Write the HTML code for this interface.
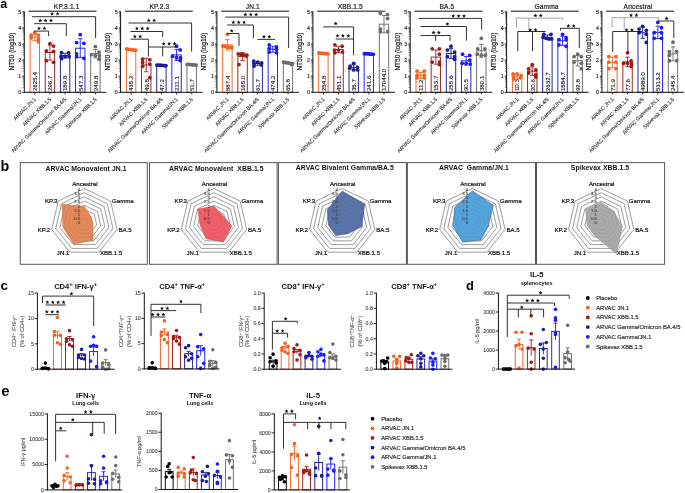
<!DOCTYPE html>
<html><head><meta charset="utf-8"><style>
html,body{margin:0;padding:0;background:#fff;width:685px;height:493px;overflow:hidden}
svg{display:block;will-change:transform;font-family:"Liberation Sans", sans-serif}
</style></head><body>
<svg width="685" height="493" viewBox="0 0 685 493">
<rect x="0" y="0" width="685" height="493" fill="#fff"/>
<text x="0.3" y="8" font-size="12.5" text-anchor="start" fill="#000" font-weight="bold">a</text>
<text x="0.5" y="170.6" font-size="14.3" text-anchor="start" fill="#000" font-weight="bold">b</text>
<text x="0.5" y="289.6" font-size="13.5" text-anchor="start" fill="#000" font-weight="bold">c</text>
<text x="465.9" y="290" font-size="13" text-anchor="start" fill="#000" font-weight="bold">d</text>
<text x="1.2" y="396" font-size="15" text-anchor="start" fill="#000" font-weight="bold">e</text>
<text x="66.7" y="9.3" font-size="6.6" text-anchor="middle" fill="#222" stroke="#222" stroke-width="0.2" letter-spacing="0.15">KP.3.1.1</text>
<line x1="28.5" y1="11.2" x2="96.5" y2="11.2" stroke="#111" stroke-width="1"/>
<line x1="24.3" y1="11.4" x2="24.3" y2="92.8" stroke="#111" stroke-width="1"/>
<line x1="22.3" y1="92.3" x2="24.3" y2="92.3" stroke="#111" stroke-width="0.9"/>
<text x="21.3" y="94.2" font-size="5.3" text-anchor="end" fill="#333" stroke="#333" stroke-width="0.2">0</text>
<line x1="22.3" y1="76.2" x2="24.3" y2="76.2" stroke="#111" stroke-width="0.9"/>
<text x="21.3" y="78.1" font-size="5.3" text-anchor="end" fill="#333" stroke="#333" stroke-width="0.2">1</text>
<line x1="22.3" y1="60.1" x2="24.3" y2="60.1" stroke="#111" stroke-width="0.9"/>
<text x="21.3" y="62" font-size="5.3" text-anchor="end" fill="#333" stroke="#333" stroke-width="0.2">2</text>
<line x1="22.3" y1="44" x2="24.3" y2="44" stroke="#111" stroke-width="0.9"/>
<text x="21.3" y="45.9" font-size="5.3" text-anchor="end" fill="#333" stroke="#333" stroke-width="0.2">3</text>
<line x1="22.3" y1="27.9" x2="24.3" y2="27.9" stroke="#111" stroke-width="0.9"/>
<text x="21.3" y="29.8" font-size="5.3" text-anchor="end" fill="#333" stroke="#333" stroke-width="0.2">4</text>
<line x1="22.3" y1="11.8" x2="24.3" y2="11.8" stroke="#111" stroke-width="0.9"/>
<text x="21.3" y="13.7" font-size="5.3" text-anchor="end" fill="#333" stroke="#333" stroke-width="0.2">5</text>
<line x1="22.7" y1="87.45" x2="24.3" y2="87.45" stroke="#222" stroke-width="0.5"/>
<line x1="22.7" y1="84.62" x2="24.3" y2="84.62" stroke="#222" stroke-width="0.5"/>
<line x1="22.7" y1="82.61" x2="24.3" y2="82.61" stroke="#222" stroke-width="0.5"/>
<line x1="22.7" y1="81.05" x2="24.3" y2="81.05" stroke="#222" stroke-width="0.5"/>
<line x1="22.7" y1="79.77" x2="24.3" y2="79.77" stroke="#222" stroke-width="0.5"/>
<line x1="22.7" y1="78.69" x2="24.3" y2="78.69" stroke="#222" stroke-width="0.5"/>
<line x1="22.7" y1="77.76" x2="24.3" y2="77.76" stroke="#222" stroke-width="0.5"/>
<line x1="22.7" y1="76.94" x2="24.3" y2="76.94" stroke="#222" stroke-width="0.5"/>
<line x1="22.7" y1="71.35" x2="24.3" y2="71.35" stroke="#222" stroke-width="0.5"/>
<line x1="22.7" y1="68.52" x2="24.3" y2="68.52" stroke="#222" stroke-width="0.5"/>
<line x1="22.7" y1="66.51" x2="24.3" y2="66.51" stroke="#222" stroke-width="0.5"/>
<line x1="22.7" y1="64.95" x2="24.3" y2="64.95" stroke="#222" stroke-width="0.5"/>
<line x1="22.7" y1="63.67" x2="24.3" y2="63.67" stroke="#222" stroke-width="0.5"/>
<line x1="22.7" y1="62.59" x2="24.3" y2="62.59" stroke="#222" stroke-width="0.5"/>
<line x1="22.7" y1="61.66" x2="24.3" y2="61.66" stroke="#222" stroke-width="0.5"/>
<line x1="22.7" y1="60.84" x2="24.3" y2="60.84" stroke="#222" stroke-width="0.5"/>
<line x1="22.7" y1="55.25" x2="24.3" y2="55.25" stroke="#222" stroke-width="0.5"/>
<line x1="22.7" y1="52.42" x2="24.3" y2="52.42" stroke="#222" stroke-width="0.5"/>
<line x1="22.7" y1="50.41" x2="24.3" y2="50.41" stroke="#222" stroke-width="0.5"/>
<line x1="22.7" y1="48.85" x2="24.3" y2="48.85" stroke="#222" stroke-width="0.5"/>
<line x1="22.7" y1="47.57" x2="24.3" y2="47.57" stroke="#222" stroke-width="0.5"/>
<line x1="22.7" y1="46.49" x2="24.3" y2="46.49" stroke="#222" stroke-width="0.5"/>
<line x1="22.7" y1="45.56" x2="24.3" y2="45.56" stroke="#222" stroke-width="0.5"/>
<line x1="22.7" y1="44.74" x2="24.3" y2="44.74" stroke="#222" stroke-width="0.5"/>
<line x1="22.7" y1="39.15" x2="24.3" y2="39.15" stroke="#222" stroke-width="0.5"/>
<line x1="22.7" y1="36.32" x2="24.3" y2="36.32" stroke="#222" stroke-width="0.5"/>
<line x1="22.7" y1="34.31" x2="24.3" y2="34.31" stroke="#222" stroke-width="0.5"/>
<line x1="22.7" y1="32.75" x2="24.3" y2="32.75" stroke="#222" stroke-width="0.5"/>
<line x1="22.7" y1="31.47" x2="24.3" y2="31.47" stroke="#222" stroke-width="0.5"/>
<line x1="22.7" y1="30.39" x2="24.3" y2="30.39" stroke="#222" stroke-width="0.5"/>
<line x1="22.7" y1="29.46" x2="24.3" y2="29.46" stroke="#222" stroke-width="0.5"/>
<line x1="22.7" y1="28.64" x2="24.3" y2="28.64" stroke="#222" stroke-width="0.5"/>
<line x1="22.7" y1="23.05" x2="24.3" y2="23.05" stroke="#222" stroke-width="0.5"/>
<line x1="22.7" y1="20.22" x2="24.3" y2="20.22" stroke="#222" stroke-width="0.5"/>
<line x1="22.7" y1="18.21" x2="24.3" y2="18.21" stroke="#222" stroke-width="0.5"/>
<line x1="22.7" y1="16.65" x2="24.3" y2="16.65" stroke="#222" stroke-width="0.5"/>
<line x1="22.7" y1="15.37" x2="24.3" y2="15.37" stroke="#222" stroke-width="0.5"/>
<line x1="22.7" y1="14.29" x2="24.3" y2="14.29" stroke="#222" stroke-width="0.5"/>
<line x1="22.7" y1="13.36" x2="24.3" y2="13.36" stroke="#222" stroke-width="0.5"/>
<line x1="22.7" y1="12.54" x2="24.3" y2="12.54" stroke="#222" stroke-width="0.5"/>
<text x="13.8" y="51.6" font-size="6.5" text-anchor="middle" fill="#222" stroke="#222" stroke-width="0.2" transform="rotate(-90 13.8 51.6)">NT50 (log10)</text>
<rect x="30.1" y="37.25" width="9.4" height="55.05" fill="#fff" stroke="#f4621f" stroke-width="0.95"/>
<line x1="34.8" y1="33.91" x2="34.8" y2="40.59" stroke="#f4621f" stroke-width="0.9"/>
<line x1="32.6" y1="33.91" x2="37" y2="33.91" stroke="#f4621f" stroke-width="0.9"/>
<line x1="32.6" y1="40.59" x2="37" y2="40.59" stroke="#f4621f" stroke-width="0.9"/>
<circle cx="31.2" cy="35.14" r="1.9" fill="#f4621f"/>
<circle cx="34.8" cy="32.73" r="1.9" fill="#f4621f"/>
<circle cx="38.4" cy="35.14" r="1.9" fill="#f4621f"/>
<circle cx="31.2" cy="38.04" r="1.9" fill="#f4621f"/>
<circle cx="38.4" cy="39.65" r="1.9" fill="#f4621f"/>
<circle cx="38.4" cy="41.75" r="1.9" fill="#f4621f"/>
<text x="37.1" y="91.1" font-size="6.2" text-anchor="start" fill="#222" stroke="#222" stroke-width="0.1" transform="rotate(-90 37.1 91.1)">2625.4</text>
<rect x="45.25" y="52.5" width="9.4" height="39.8" fill="#fff" stroke="#a11a1a" stroke-width="0.95"/>
<line x1="49.95" y1="44.91" x2="49.95" y2="60.08" stroke="#a11a1a" stroke-width="0.9"/>
<line x1="47.75" y1="44.91" x2="52.15" y2="44.91" stroke="#a11a1a" stroke-width="0.9"/>
<line x1="47.75" y1="60.08" x2="52.15" y2="60.08" stroke="#a11a1a" stroke-width="0.9"/>
<circle cx="53.55" cy="46.09" r="1.9" fill="#a11a1a"/>
<circle cx="49.95" cy="43.68" r="1.9" fill="#a11a1a"/>
<circle cx="53.55" cy="51.41" r="1.9" fill="#a11a1a"/>
<circle cx="46.35" cy="50.92" r="1.9" fill="#a11a1a"/>
<circle cx="53.55" cy="62.35" r="1.9" fill="#a11a1a"/>
<circle cx="46.35" cy="60.74" r="1.9" fill="#a11a1a"/>
<text x="52.25" y="91.1" font-size="6.2" text-anchor="start" fill="#222" stroke="#222" stroke-width="0.1" transform="rotate(-90 52.25 91.1)">296.7</text>
<rect x="60.4" y="55.62" width="9.4" height="36.68" fill="#fff" stroke="#1c1c96" stroke-width="0.95"/>
<line x1="65.1" y1="53.24" x2="65.1" y2="58" stroke="#1c1c96" stroke-width="0.9"/>
<line x1="62.9" y1="53.24" x2="67.3" y2="53.24" stroke="#1c1c96" stroke-width="0.9"/>
<line x1="62.9" y1="58" x2="67.3" y2="58" stroke="#1c1c96" stroke-width="0.9"/>
<circle cx="68.7" cy="53.02" r="1.9" fill="#1c1c96"/>
<circle cx="61.5" cy="52.53" r="1.9" fill="#1c1c96"/>
<circle cx="61.1" cy="56.24" r="1.9" fill="#1c1c96"/>
<circle cx="65.1" cy="56.72" r="1.9" fill="#1c1c96"/>
<circle cx="69.1" cy="56.72" r="1.9" fill="#1c1c96"/>
<circle cx="61.5" cy="58.65" r="1.9" fill="#1c1c96"/>
<text x="67.4" y="91.1" font-size="6.2" text-anchor="start" fill="#222" stroke="#222" stroke-width="0.1" transform="rotate(-90 67.4 91.1)">189.8</text>
<rect x="75.55" y="48.21" width="9.4" height="44.09" fill="#fff" stroke="#1a1aff" stroke-width="0.95"/>
<line x1="80.25" y1="38.78" x2="80.25" y2="57.65" stroke="#1a1aff" stroke-width="0.9"/>
<line x1="78.05" y1="38.78" x2="82.45" y2="38.78" stroke="#1a1aff" stroke-width="0.9"/>
<line x1="78.05" y1="57.65" x2="82.45" y2="57.65" stroke="#1a1aff" stroke-width="0.9"/>
<circle cx="80.25" cy="34.66" r="1.9" fill="#1a1aff"/>
<circle cx="76.65" cy="42.55" r="1.9" fill="#1a1aff"/>
<circle cx="83.85" cy="43.36" r="1.9" fill="#1a1aff"/>
<circle cx="76.65" cy="53.82" r="1.9" fill="#1a1aff"/>
<circle cx="76.65" cy="56.72" r="1.9" fill="#1a1aff"/>
<circle cx="83.85" cy="58.33" r="1.9" fill="#1a1aff"/>
<text x="82.55" y="91.1" font-size="6.2" text-anchor="start" fill="#222" stroke="#222" stroke-width="0.1" transform="rotate(-90 82.55 91.1)">547.3</text>
<rect x="90.7" y="53.7" width="9.4" height="38.6" fill="#fff" stroke="#6b6b6b" stroke-width="0.95"/>
<line x1="95.4" y1="49.44" x2="95.4" y2="57.96" stroke="#6b6b6b" stroke-width="0.9"/>
<line x1="93.2" y1="49.44" x2="97.6" y2="49.44" stroke="#6b6b6b" stroke-width="0.9"/>
<line x1="93.2" y1="57.96" x2="97.6" y2="57.96" stroke="#6b6b6b" stroke-width="0.9"/>
<circle cx="95.4" cy="46.58" r="1.9" fill="#6b6b6b"/>
<circle cx="91.4" cy="54.63" r="1.9" fill="#6b6b6b"/>
<circle cx="95.4" cy="55.43" r="1.9" fill="#6b6b6b"/>
<circle cx="99.4" cy="55.75" r="1.9" fill="#6b6b6b"/>
<circle cx="99" cy="59.13" r="1.9" fill="#6b6b6b"/>
<circle cx="99" cy="52.05" r="1.9" fill="#6b6b6b"/>
<text x="97.7" y="91.1" font-size="6.2" text-anchor="start" fill="#222" stroke="#222" stroke-width="0.1" transform="rotate(-90 97.7 91.1)">249.8</text>
<line x1="24.3" y1="92.3" x2="106.3" y2="92.3" stroke="#111" stroke-width="1"/>
<line x1="34.8" y1="92.3" x2="34.8" y2="94.5" stroke="#111" stroke-width="0.8"/>
<text x="36.4" y="99.6" font-size="5.2" text-anchor="end" fill="#222" stroke="#222" stroke-width="0.1" transform="rotate(-45 36.4 99.6)">ARVAC JN.1</text>
<line x1="49.95" y1="92.3" x2="49.95" y2="94.5" stroke="#111" stroke-width="0.8"/>
<text x="51.55" y="99.6" font-size="5.2" text-anchor="end" fill="#222" stroke="#222" stroke-width="0.1" transform="rotate(-45 51.55 99.6)">ARVAC XBB.1.5</text>
<line x1="65.1" y1="92.3" x2="65.1" y2="94.5" stroke="#111" stroke-width="0.8"/>
<text x="66.7" y="99.6" font-size="5.2" text-anchor="end" fill="#222" stroke="#222" stroke-width="0.1" transform="rotate(-45 66.7 99.6)">ARVAC Gamma/Omicron BA.4/5</text>
<line x1="80.25" y1="92.3" x2="80.25" y2="94.5" stroke="#111" stroke-width="0.8"/>
<text x="81.85" y="99.6" font-size="5.2" text-anchor="end" fill="#222" stroke="#222" stroke-width="0.1" transform="rotate(-45 81.85 99.6)">ARVAC Gamma/JN.1</text>
<line x1="95.4" y1="92.3" x2="95.4" y2="94.5" stroke="#111" stroke-width="0.8"/>
<text x="97" y="99.6" font-size="5.2" text-anchor="end" fill="#222" stroke="#222" stroke-width="0.1" transform="rotate(-45 97 99.6)">Spikevax XBB.1.5</text>
<line x1="32.1" y1="16.7" x2="95.6" y2="16.7" stroke="#1a1a1a" stroke-width="0.9"/>
<line x1="95.6" y1="16.7" x2="95.6" y2="38.1" stroke="#1a1a1a" stroke-width="0.9"/>
<polygon points="52.1,11.8 52.66,13.14 54.1,13.25 53,14.19 53.33,15.6 52.1,14.85 50.87,15.6 51.2,14.19 50.1,13.25 51.54,13.14" fill="#111"/>
<polygon points="57.5,11.8 58.06,13.14 59.5,13.25 58.4,14.19 58.73,15.6 57.5,14.85 56.27,15.6 56.6,14.19 55.5,13.25 56.94,13.14" fill="#111"/>
<line x1="34.2" y1="23.7" x2="66.3" y2="23.7" stroke="#1a1a1a" stroke-width="0.9"/>
<line x1="66.3" y1="23.7" x2="66.3" y2="36.1" stroke="#1a1a1a" stroke-width="0.9"/>
<polygon points="40.2,18.5 40.76,19.84 42.2,19.95 41.1,20.89 41.43,22.3 40.2,21.55 38.97,22.3 39.3,20.89 38.2,19.95 39.64,19.84" fill="#111"/>
<polygon points="45.6,18.5 46.16,19.84 47.6,19.95 46.5,20.89 46.83,22.3 45.6,21.55 44.37,22.3 44.7,20.89 43.6,19.95 45.04,19.84" fill="#111"/>
<polygon points="51,18.5 51.56,19.84 53,19.95 51.9,20.89 52.23,22.3 51,21.55 49.77,22.3 50.1,20.89 49,19.95 50.44,19.84" fill="#111"/>
<line x1="34.2" y1="31.1" x2="48.6" y2="31.1" stroke="#1a1a1a" stroke-width="0.9"/>
<line x1="48.6" y1="31.1" x2="48.6" y2="36.1" stroke="#1a1a1a" stroke-width="0.9"/>
<polygon points="39,26.3 39.56,27.64 41,27.75 39.9,28.69 40.23,30.1 39,29.34 37.77,30.1 38.1,28.69 37,27.75 38.44,27.64" fill="#111"/>
<polygon points="44.4,26.3 44.96,27.64 46.4,27.75 45.3,28.69 45.63,30.1 44.4,29.34 43.17,30.1 43.5,28.69 42.4,27.75 43.84,27.64" fill="#111"/>
<text x="159.4" y="9.3" font-size="6.6" text-anchor="middle" fill="#222" stroke="#222" stroke-width="0.2" letter-spacing="0.15">KP.2.3</text>
<line x1="124.8" y1="11.2" x2="192.8" y2="11.2" stroke="#111" stroke-width="1"/>
<line x1="120.6" y1="11.4" x2="120.6" y2="92.8" stroke="#111" stroke-width="1"/>
<line x1="118.6" y1="92.3" x2="120.6" y2="92.3" stroke="#111" stroke-width="0.9"/>
<text x="117.6" y="94.2" font-size="5.3" text-anchor="end" fill="#333" stroke="#333" stroke-width="0.2">0</text>
<line x1="118.6" y1="76.2" x2="120.6" y2="76.2" stroke="#111" stroke-width="0.9"/>
<text x="117.6" y="78.1" font-size="5.3" text-anchor="end" fill="#333" stroke="#333" stroke-width="0.2">1</text>
<line x1="118.6" y1="60.1" x2="120.6" y2="60.1" stroke="#111" stroke-width="0.9"/>
<text x="117.6" y="62" font-size="5.3" text-anchor="end" fill="#333" stroke="#333" stroke-width="0.2">2</text>
<line x1="118.6" y1="44" x2="120.6" y2="44" stroke="#111" stroke-width="0.9"/>
<text x="117.6" y="45.9" font-size="5.3" text-anchor="end" fill="#333" stroke="#333" stroke-width="0.2">3</text>
<line x1="118.6" y1="27.9" x2="120.6" y2="27.9" stroke="#111" stroke-width="0.9"/>
<text x="117.6" y="29.8" font-size="5.3" text-anchor="end" fill="#333" stroke="#333" stroke-width="0.2">4</text>
<line x1="118.6" y1="11.8" x2="120.6" y2="11.8" stroke="#111" stroke-width="0.9"/>
<text x="117.6" y="13.7" font-size="5.3" text-anchor="end" fill="#333" stroke="#333" stroke-width="0.2">5</text>
<line x1="119" y1="87.45" x2="120.6" y2="87.45" stroke="#222" stroke-width="0.5"/>
<line x1="119" y1="84.62" x2="120.6" y2="84.62" stroke="#222" stroke-width="0.5"/>
<line x1="119" y1="82.61" x2="120.6" y2="82.61" stroke="#222" stroke-width="0.5"/>
<line x1="119" y1="81.05" x2="120.6" y2="81.05" stroke="#222" stroke-width="0.5"/>
<line x1="119" y1="79.77" x2="120.6" y2="79.77" stroke="#222" stroke-width="0.5"/>
<line x1="119" y1="78.69" x2="120.6" y2="78.69" stroke="#222" stroke-width="0.5"/>
<line x1="119" y1="77.76" x2="120.6" y2="77.76" stroke="#222" stroke-width="0.5"/>
<line x1="119" y1="76.94" x2="120.6" y2="76.94" stroke="#222" stroke-width="0.5"/>
<line x1="119" y1="71.35" x2="120.6" y2="71.35" stroke="#222" stroke-width="0.5"/>
<line x1="119" y1="68.52" x2="120.6" y2="68.52" stroke="#222" stroke-width="0.5"/>
<line x1="119" y1="66.51" x2="120.6" y2="66.51" stroke="#222" stroke-width="0.5"/>
<line x1="119" y1="64.95" x2="120.6" y2="64.95" stroke="#222" stroke-width="0.5"/>
<line x1="119" y1="63.67" x2="120.6" y2="63.67" stroke="#222" stroke-width="0.5"/>
<line x1="119" y1="62.59" x2="120.6" y2="62.59" stroke="#222" stroke-width="0.5"/>
<line x1="119" y1="61.66" x2="120.6" y2="61.66" stroke="#222" stroke-width="0.5"/>
<line x1="119" y1="60.84" x2="120.6" y2="60.84" stroke="#222" stroke-width="0.5"/>
<line x1="119" y1="55.25" x2="120.6" y2="55.25" stroke="#222" stroke-width="0.5"/>
<line x1="119" y1="52.42" x2="120.6" y2="52.42" stroke="#222" stroke-width="0.5"/>
<line x1="119" y1="50.41" x2="120.6" y2="50.41" stroke="#222" stroke-width="0.5"/>
<line x1="119" y1="48.85" x2="120.6" y2="48.85" stroke="#222" stroke-width="0.5"/>
<line x1="119" y1="47.57" x2="120.6" y2="47.57" stroke="#222" stroke-width="0.5"/>
<line x1="119" y1="46.49" x2="120.6" y2="46.49" stroke="#222" stroke-width="0.5"/>
<line x1="119" y1="45.56" x2="120.6" y2="45.56" stroke="#222" stroke-width="0.5"/>
<line x1="119" y1="44.74" x2="120.6" y2="44.74" stroke="#222" stroke-width="0.5"/>
<line x1="119" y1="39.15" x2="120.6" y2="39.15" stroke="#222" stroke-width="0.5"/>
<line x1="119" y1="36.32" x2="120.6" y2="36.32" stroke="#222" stroke-width="0.5"/>
<line x1="119" y1="34.31" x2="120.6" y2="34.31" stroke="#222" stroke-width="0.5"/>
<line x1="119" y1="32.75" x2="120.6" y2="32.75" stroke="#222" stroke-width="0.5"/>
<line x1="119" y1="31.47" x2="120.6" y2="31.47" stroke="#222" stroke-width="0.5"/>
<line x1="119" y1="30.39" x2="120.6" y2="30.39" stroke="#222" stroke-width="0.5"/>
<line x1="119" y1="29.46" x2="120.6" y2="29.46" stroke="#222" stroke-width="0.5"/>
<line x1="119" y1="28.64" x2="120.6" y2="28.64" stroke="#222" stroke-width="0.5"/>
<line x1="119" y1="23.05" x2="120.6" y2="23.05" stroke="#222" stroke-width="0.5"/>
<line x1="119" y1="20.22" x2="120.6" y2="20.22" stroke="#222" stroke-width="0.5"/>
<line x1="119" y1="18.21" x2="120.6" y2="18.21" stroke="#222" stroke-width="0.5"/>
<line x1="119" y1="16.65" x2="120.6" y2="16.65" stroke="#222" stroke-width="0.5"/>
<line x1="119" y1="15.37" x2="120.6" y2="15.37" stroke="#222" stroke-width="0.5"/>
<line x1="119" y1="14.29" x2="120.6" y2="14.29" stroke="#222" stroke-width="0.5"/>
<line x1="119" y1="13.36" x2="120.6" y2="13.36" stroke="#222" stroke-width="0.5"/>
<line x1="119" y1="12.54" x2="120.6" y2="12.54" stroke="#222" stroke-width="0.5"/>
<text x="110.1" y="51.6" font-size="6.5" text-anchor="middle" fill="#222" stroke="#222" stroke-width="0.2" transform="rotate(-90 110.1 51.6)">NT50 (log10)</text>
<rect x="126.4" y="49.82" width="9.4" height="42.48" fill="#fff" stroke="#f4621f" stroke-width="0.95"/>
<line x1="131.1" y1="49.33" x2="131.1" y2="50.31" stroke="#f4621f" stroke-width="0.9"/>
<line x1="128.9" y1="49.33" x2="133.3" y2="49.33" stroke="#f4621f" stroke-width="0.9"/>
<line x1="128.9" y1="50.31" x2="133.3" y2="50.31" stroke="#f4621f" stroke-width="0.9"/>
<circle cx="128.4" cy="49.47" r="1.9" fill="#f4621f"/>
<circle cx="126.6" cy="48.83" r="1.9" fill="#f4621f"/>
<circle cx="133.8" cy="50.12" r="1.9" fill="#f4621f"/>
<circle cx="132" cy="49.8" r="1.9" fill="#f4621f"/>
<circle cx="135.6" cy="50.12" r="1.9" fill="#f4621f"/>
<circle cx="130.2" cy="49.47" r="1.9" fill="#f4621f"/>
<text x="133.4" y="91.1" font-size="6.2" text-anchor="start" fill="#222" stroke="#222" stroke-width="0.1" transform="rotate(-90 133.4 91.1)">435.2</text>
<rect x="141.55" y="64.97" width="9.4" height="27.33" fill="#fff" stroke="#a11a1a" stroke-width="0.95"/>
<line x1="146.25" y1="58.19" x2="146.25" y2="71.76" stroke="#a11a1a" stroke-width="0.9"/>
<line x1="144.05" y1="58.19" x2="148.45" y2="58.19" stroke="#a11a1a" stroke-width="0.9"/>
<line x1="144.05" y1="71.76" x2="148.45" y2="71.76" stroke="#a11a1a" stroke-width="0.9"/>
<circle cx="149.85" cy="59.78" r="1.9" fill="#a11a1a"/>
<circle cx="142.65" cy="59.13" r="1.9" fill="#a11a1a"/>
<circle cx="142.65" cy="62.51" r="1.9" fill="#a11a1a"/>
<circle cx="149.85" cy="64.12" r="1.9" fill="#a11a1a"/>
<circle cx="142.65" cy="66.22" r="1.9" fill="#a11a1a"/>
<circle cx="149.85" cy="77.65" r="1.9" fill="#a11a1a"/>
<text x="148.55" y="91.1" font-size="6.2" text-anchor="start" fill="#222" stroke="#222" stroke-width="0.1" transform="rotate(-90 148.55 91.1)">49.8</text>
<rect x="156.7" y="65.35" width="9.4" height="26.95" fill="#fff" stroke="#1c1c96" stroke-width="0.95"/>
<line x1="161.4" y1="65.09" x2="161.4" y2="65.61" stroke="#1c1c96" stroke-width="0.9"/>
<line x1="159.2" y1="65.09" x2="163.6" y2="65.09" stroke="#1c1c96" stroke-width="0.9"/>
<line x1="159.2" y1="65.61" x2="163.6" y2="65.61" stroke="#1c1c96" stroke-width="0.9"/>
<circle cx="156.9" cy="65.09" r="1.9" fill="#1c1c96"/>
<circle cx="162.3" cy="65.41" r="1.9" fill="#1c1c96"/>
<circle cx="164.1" cy="65.57" r="1.9" fill="#1c1c96"/>
<circle cx="160.5" cy="65.25" r="1.9" fill="#1c1c96"/>
<circle cx="165.9" cy="65.73" r="1.9" fill="#1c1c96"/>
<circle cx="158.7" cy="65.09" r="1.9" fill="#1c1c96"/>
<text x="163.7" y="91.1" font-size="6.2" text-anchor="start" fill="#222" stroke="#222" stroke-width="0.1" transform="rotate(-90 163.7 91.1)">47.2</text>
<rect x="171.85" y="54.88" width="9.4" height="37.42" fill="#fff" stroke="#1a1aff" stroke-width="0.95"/>
<line x1="176.55" y1="49.42" x2="176.55" y2="60.33" stroke="#1a1aff" stroke-width="0.9"/>
<line x1="174.35" y1="49.42" x2="178.75" y2="49.42" stroke="#1a1aff" stroke-width="0.9"/>
<line x1="174.35" y1="60.33" x2="178.75" y2="60.33" stroke="#1a1aff" stroke-width="0.9"/>
<circle cx="176.55" cy="46.25" r="1.9" fill="#1a1aff"/>
<circle cx="180.15" cy="49.96" r="1.9" fill="#1a1aff"/>
<circle cx="172.55" cy="56.24" r="1.9" fill="#1a1aff"/>
<circle cx="176.55" cy="57.68" r="1.9" fill="#1a1aff"/>
<circle cx="180.55" cy="57.68" r="1.9" fill="#1a1aff"/>
<circle cx="180.15" cy="60.58" r="1.9" fill="#1a1aff"/>
<text x="178.85" y="91.1" font-size="6.2" text-anchor="start" fill="#222" stroke="#222" stroke-width="0.1" transform="rotate(-90 178.85 91.1)">211.1</text>
<rect x="187" y="64.71" width="9.4" height="27.59" fill="#fff" stroke="#6b6b6b" stroke-width="0.95"/>
<line x1="191.7" y1="64.44" x2="191.7" y2="64.99" stroke="#6b6b6b" stroke-width="0.9"/>
<line x1="189.5" y1="64.44" x2="193.9" y2="64.44" stroke="#6b6b6b" stroke-width="0.9"/>
<line x1="189.5" y1="64.99" x2="193.9" y2="64.99" stroke="#6b6b6b" stroke-width="0.9"/>
<circle cx="187.2" cy="64.45" r="1.9" fill="#6b6b6b"/>
<circle cx="192.6" cy="64.93" r="1.9" fill="#6b6b6b"/>
<circle cx="190.8" cy="64.61" r="1.9" fill="#6b6b6b"/>
<circle cx="196.2" cy="65.09" r="1.9" fill="#6b6b6b"/>
<circle cx="189" cy="64.45" r="1.9" fill="#6b6b6b"/>
<circle cx="194.4" cy="64.93" r="1.9" fill="#6b6b6b"/>
<text x="194" y="91.1" font-size="6.2" text-anchor="start" fill="#222" stroke="#222" stroke-width="0.1" transform="rotate(-90 194 91.1)">51.7</text>
<line x1="120.6" y1="92.3" x2="202.6" y2="92.3" stroke="#111" stroke-width="1"/>
<line x1="131.1" y1="92.3" x2="131.1" y2="94.5" stroke="#111" stroke-width="0.8"/>
<text x="132.7" y="99.6" font-size="5.2" text-anchor="end" fill="#222" stroke="#222" stroke-width="0.1" transform="rotate(-45 132.7 99.6)">ARVAC JN.1</text>
<line x1="146.25" y1="92.3" x2="146.25" y2="94.5" stroke="#111" stroke-width="0.8"/>
<text x="147.85" y="99.6" font-size="5.2" text-anchor="end" fill="#222" stroke="#222" stroke-width="0.1" transform="rotate(-45 147.85 99.6)">ARVAC XBB.1.5</text>
<line x1="161.4" y1="92.3" x2="161.4" y2="94.5" stroke="#111" stroke-width="0.8"/>
<text x="163" y="99.6" font-size="5.2" text-anchor="end" fill="#222" stroke="#222" stroke-width="0.1" transform="rotate(-45 163 99.6)">ARVAC Gamma/Omicron BA.4/5</text>
<line x1="176.55" y1="92.3" x2="176.55" y2="94.5" stroke="#111" stroke-width="0.8"/>
<text x="178.15" y="99.6" font-size="5.2" text-anchor="end" fill="#222" stroke="#222" stroke-width="0.1" transform="rotate(-45 178.15 99.6)">ARVAC Gamma/JN.1</text>
<line x1="191.7" y1="92.3" x2="191.7" y2="94.5" stroke="#111" stroke-width="0.8"/>
<text x="193.3" y="99.6" font-size="5.2" text-anchor="end" fill="#222" stroke="#222" stroke-width="0.1" transform="rotate(-45 193.3 99.6)">Spikevax XBB.1.5</text>
<line x1="128.5" y1="23" x2="191.6" y2="23" stroke="#1a1a1a" stroke-width="0.9"/>
<line x1="191.6" y1="23" x2="191.6" y2="51.5" stroke="#1a1a1a" stroke-width="0.9"/>
<polygon points="148.8,18.3 149.36,19.64 150.8,19.75 149.7,20.69 150.03,22.1 148.8,21.34 147.57,22.1 147.9,20.69 146.8,19.75 148.24,19.64" fill="#111"/>
<polygon points="154.2,18.3 154.76,19.64 156.2,19.75 155.1,20.69 155.43,22.1 154.2,21.34 152.97,22.1 153.3,20.69 152.2,19.75 153.64,19.64" fill="#111"/>
<line x1="130.5" y1="31.5" x2="162.7" y2="31.5" stroke="#1a1a1a" stroke-width="0.9"/>
<line x1="162.7" y1="31.5" x2="162.7" y2="37" stroke="#1a1a1a" stroke-width="0.9"/>
<polygon points="136.9,26.4 137.46,27.74 138.9,27.85 137.8,28.79 138.13,30.2 136.9,29.45 135.67,30.2 136,28.79 134.9,27.85 136.34,27.74" fill="#111"/>
<polygon points="142.3,26.4 142.86,27.74 144.3,27.85 143.2,28.79 143.53,30.2 142.3,29.45 141.07,30.2 141.4,28.79 140.3,27.85 141.74,27.74" fill="#111"/>
<polygon points="147.7,26.4 148.26,27.74 149.7,27.85 148.6,28.79 148.93,30.2 147.7,29.45 146.47,30.2 146.8,28.79 145.7,27.85 147.14,27.74" fill="#111"/>
<line x1="130.5" y1="39.2" x2="148.4" y2="39.2" stroke="#1a1a1a" stroke-width="0.9"/>
<line x1="148.4" y1="39.2" x2="148.4" y2="56.3" stroke="#1a1a1a" stroke-width="0.9"/>
<polygon points="134.8,34.4 135.36,35.74 136.8,35.85 135.7,36.79 136.03,38.2 134.8,37.45 133.57,38.2 133.9,36.79 132.8,35.85 134.24,35.74" fill="#111"/>
<polygon points="140.2,34.4 140.76,35.74 142.2,35.85 141.1,36.79 141.43,38.2 140.2,37.45 138.97,38.2 139.3,36.79 138.2,35.85 139.64,35.74" fill="#111"/>
<line x1="148.4" y1="47" x2="176.2" y2="47" stroke="#1a1a1a" stroke-width="0.9"/>
<line x1="162.7" y1="47" x2="162.7" y2="56.3" stroke="#1a1a1a" stroke-width="0.9"/>
<polygon points="163.7,41.7 164.26,43.04 165.7,43.15 164.6,44.09 164.93,45.5 163.7,44.74 162.47,45.5 162.8,44.09 161.7,43.15 163.14,43.04" fill="#111"/>
<polygon points="169.1,41.7 169.66,43.04 171.1,43.15 170,44.09 170.33,45.5 169.1,44.74 167.87,45.5 168.2,44.09 167.1,43.15 168.54,43.04" fill="#111"/>
<polygon points="174.5,41.7 175.06,43.04 176.5,43.15 175.4,44.09 175.73,45.5 174.5,44.74 173.27,45.5 173.6,44.09 172.5,43.15 173.94,43.04" fill="#111"/>
<text x="252.8" y="9.3" font-size="6.6" text-anchor="middle" fill="#222" stroke="#222" stroke-width="0.2" letter-spacing="0.15">JN.1</text>
<line x1="221.1" y1="11.2" x2="289.1" y2="11.2" stroke="#111" stroke-width="1"/>
<line x1="216.9" y1="11.4" x2="216.9" y2="92.8" stroke="#111" stroke-width="1"/>
<line x1="214.9" y1="92.3" x2="216.9" y2="92.3" stroke="#111" stroke-width="0.9"/>
<text x="213.9" y="94.2" font-size="5.3" text-anchor="end" fill="#333" stroke="#333" stroke-width="0.2">0</text>
<line x1="214.9" y1="76.2" x2="216.9" y2="76.2" stroke="#111" stroke-width="0.9"/>
<text x="213.9" y="78.1" font-size="5.3" text-anchor="end" fill="#333" stroke="#333" stroke-width="0.2">1</text>
<line x1="214.9" y1="60.1" x2="216.9" y2="60.1" stroke="#111" stroke-width="0.9"/>
<text x="213.9" y="62" font-size="5.3" text-anchor="end" fill="#333" stroke="#333" stroke-width="0.2">2</text>
<line x1="214.9" y1="44" x2="216.9" y2="44" stroke="#111" stroke-width="0.9"/>
<text x="213.9" y="45.9" font-size="5.3" text-anchor="end" fill="#333" stroke="#333" stroke-width="0.2">3</text>
<line x1="214.9" y1="27.9" x2="216.9" y2="27.9" stroke="#111" stroke-width="0.9"/>
<text x="213.9" y="29.8" font-size="5.3" text-anchor="end" fill="#333" stroke="#333" stroke-width="0.2">4</text>
<line x1="214.9" y1="11.8" x2="216.9" y2="11.8" stroke="#111" stroke-width="0.9"/>
<text x="213.9" y="13.7" font-size="5.3" text-anchor="end" fill="#333" stroke="#333" stroke-width="0.2">5</text>
<line x1="215.3" y1="87.45" x2="216.9" y2="87.45" stroke="#222" stroke-width="0.5"/>
<line x1="215.3" y1="84.62" x2="216.9" y2="84.62" stroke="#222" stroke-width="0.5"/>
<line x1="215.3" y1="82.61" x2="216.9" y2="82.61" stroke="#222" stroke-width="0.5"/>
<line x1="215.3" y1="81.05" x2="216.9" y2="81.05" stroke="#222" stroke-width="0.5"/>
<line x1="215.3" y1="79.77" x2="216.9" y2="79.77" stroke="#222" stroke-width="0.5"/>
<line x1="215.3" y1="78.69" x2="216.9" y2="78.69" stroke="#222" stroke-width="0.5"/>
<line x1="215.3" y1="77.76" x2="216.9" y2="77.76" stroke="#222" stroke-width="0.5"/>
<line x1="215.3" y1="76.94" x2="216.9" y2="76.94" stroke="#222" stroke-width="0.5"/>
<line x1="215.3" y1="71.35" x2="216.9" y2="71.35" stroke="#222" stroke-width="0.5"/>
<line x1="215.3" y1="68.52" x2="216.9" y2="68.52" stroke="#222" stroke-width="0.5"/>
<line x1="215.3" y1="66.51" x2="216.9" y2="66.51" stroke="#222" stroke-width="0.5"/>
<line x1="215.3" y1="64.95" x2="216.9" y2="64.95" stroke="#222" stroke-width="0.5"/>
<line x1="215.3" y1="63.67" x2="216.9" y2="63.67" stroke="#222" stroke-width="0.5"/>
<line x1="215.3" y1="62.59" x2="216.9" y2="62.59" stroke="#222" stroke-width="0.5"/>
<line x1="215.3" y1="61.66" x2="216.9" y2="61.66" stroke="#222" stroke-width="0.5"/>
<line x1="215.3" y1="60.84" x2="216.9" y2="60.84" stroke="#222" stroke-width="0.5"/>
<line x1="215.3" y1="55.25" x2="216.9" y2="55.25" stroke="#222" stroke-width="0.5"/>
<line x1="215.3" y1="52.42" x2="216.9" y2="52.42" stroke="#222" stroke-width="0.5"/>
<line x1="215.3" y1="50.41" x2="216.9" y2="50.41" stroke="#222" stroke-width="0.5"/>
<line x1="215.3" y1="48.85" x2="216.9" y2="48.85" stroke="#222" stroke-width="0.5"/>
<line x1="215.3" y1="47.57" x2="216.9" y2="47.57" stroke="#222" stroke-width="0.5"/>
<line x1="215.3" y1="46.49" x2="216.9" y2="46.49" stroke="#222" stroke-width="0.5"/>
<line x1="215.3" y1="45.56" x2="216.9" y2="45.56" stroke="#222" stroke-width="0.5"/>
<line x1="215.3" y1="44.74" x2="216.9" y2="44.74" stroke="#222" stroke-width="0.5"/>
<line x1="215.3" y1="39.15" x2="216.9" y2="39.15" stroke="#222" stroke-width="0.5"/>
<line x1="215.3" y1="36.32" x2="216.9" y2="36.32" stroke="#222" stroke-width="0.5"/>
<line x1="215.3" y1="34.31" x2="216.9" y2="34.31" stroke="#222" stroke-width="0.5"/>
<line x1="215.3" y1="32.75" x2="216.9" y2="32.75" stroke="#222" stroke-width="0.5"/>
<line x1="215.3" y1="31.47" x2="216.9" y2="31.47" stroke="#222" stroke-width="0.5"/>
<line x1="215.3" y1="30.39" x2="216.9" y2="30.39" stroke="#222" stroke-width="0.5"/>
<line x1="215.3" y1="29.46" x2="216.9" y2="29.46" stroke="#222" stroke-width="0.5"/>
<line x1="215.3" y1="28.64" x2="216.9" y2="28.64" stroke="#222" stroke-width="0.5"/>
<line x1="215.3" y1="23.05" x2="216.9" y2="23.05" stroke="#222" stroke-width="0.5"/>
<line x1="215.3" y1="20.22" x2="216.9" y2="20.22" stroke="#222" stroke-width="0.5"/>
<line x1="215.3" y1="18.21" x2="216.9" y2="18.21" stroke="#222" stroke-width="0.5"/>
<line x1="215.3" y1="16.65" x2="216.9" y2="16.65" stroke="#222" stroke-width="0.5"/>
<line x1="215.3" y1="15.37" x2="216.9" y2="15.37" stroke="#222" stroke-width="0.5"/>
<line x1="215.3" y1="14.29" x2="216.9" y2="14.29" stroke="#222" stroke-width="0.5"/>
<line x1="215.3" y1="13.36" x2="216.9" y2="13.36" stroke="#222" stroke-width="0.5"/>
<line x1="215.3" y1="12.54" x2="216.9" y2="12.54" stroke="#222" stroke-width="0.5"/>
<text x="206.4" y="51.6" font-size="6.5" text-anchor="middle" fill="#222" stroke="#222" stroke-width="0.2" transform="rotate(-90 206.4 51.6)">NT50 (log10)</text>
<rect x="222.7" y="44.84" width="9.4" height="47.46" fill="#fff" stroke="#f4621f" stroke-width="0.95"/>
<line x1="227.4" y1="39.67" x2="227.4" y2="50" stroke="#f4621f" stroke-width="0.9"/>
<line x1="225.2" y1="39.67" x2="229.6" y2="39.67" stroke="#f4621f" stroke-width="0.9"/>
<line x1="225.2" y1="50" x2="229.6" y2="50" stroke="#f4621f" stroke-width="0.9"/>
<circle cx="227.4" cy="34.34" r="1.9" fill="#f4621f"/>
<circle cx="222.9" cy="45.93" r="1.9" fill="#f4621f"/>
<circle cx="225.15" cy="46.41" r="1.9" fill="#f4621f"/>
<circle cx="227.4" cy="47.22" r="1.9" fill="#f4621f"/>
<circle cx="229.65" cy="47.22" r="1.9" fill="#f4621f"/>
<circle cx="231.9" cy="47.7" r="1.9" fill="#f4621f"/>
<text x="229.7" y="91.1" font-size="6.2" text-anchor="start" fill="#222" stroke="#222" stroke-width="0.1" transform="rotate(-90 229.7 91.1)">887.4</text>
<rect x="237.85" y="56.6" width="9.4" height="35.7" fill="#fff" stroke="#a11a1a" stroke-width="0.95"/>
<line x1="242.55" y1="52.58" x2="242.55" y2="60.62" stroke="#a11a1a" stroke-width="0.9"/>
<line x1="240.35" y1="52.58" x2="244.75" y2="52.58" stroke="#a11a1a" stroke-width="0.9"/>
<line x1="240.35" y1="60.62" x2="244.75" y2="60.62" stroke="#a11a1a" stroke-width="0.9"/>
<circle cx="238.25" cy="53.98" r="1.9" fill="#a11a1a"/>
<circle cx="241.1" cy="54.46" r="1.9" fill="#a11a1a"/>
<circle cx="244" cy="54.79" r="1.9" fill="#a11a1a"/>
<circle cx="246.85" cy="55.27" r="1.9" fill="#a11a1a"/>
<circle cx="246.15" cy="56.07" r="1.9" fill="#a11a1a"/>
<circle cx="238.95" cy="64.61" r="1.9" fill="#a11a1a"/>
<text x="244.85" y="91.1" font-size="6.2" text-anchor="start" fill="#222" stroke="#222" stroke-width="0.1" transform="rotate(-90 244.85 91.1)">165.0</text>
<rect x="253" y="63.48" width="9.4" height="28.82" fill="#fff" stroke="#1c1c96" stroke-width="0.95"/>
<line x1="257.7" y1="61.68" x2="257.7" y2="65.28" stroke="#1c1c96" stroke-width="0.9"/>
<line x1="255.5" y1="61.68" x2="259.9" y2="61.68" stroke="#1c1c96" stroke-width="0.9"/>
<line x1="255.5" y1="65.28" x2="259.9" y2="65.28" stroke="#1c1c96" stroke-width="0.9"/>
<circle cx="253.7" cy="61.23" r="1.9" fill="#1c1c96"/>
<circle cx="257.7" cy="62.03" r="1.9" fill="#1c1c96"/>
<circle cx="261.7" cy="63" r="1.9" fill="#1c1c96"/>
<circle cx="254.1" cy="63.64" r="1.9" fill="#1c1c96"/>
<circle cx="261.3" cy="64.93" r="1.9" fill="#1c1c96"/>
<circle cx="254.1" cy="66.06" r="1.9" fill="#1c1c96"/>
<text x="260" y="91.1" font-size="6.2" text-anchor="start" fill="#222" stroke="#222" stroke-width="0.1" transform="rotate(-90 260 91.1)">61.7</text>
<rect x="268.15" y="49.22" width="9.4" height="43.08" fill="#fff" stroke="#1a1aff" stroke-width="0.95"/>
<line x1="272.85" y1="46.21" x2="272.85" y2="52.22" stroke="#1a1aff" stroke-width="0.9"/>
<line x1="270.65" y1="46.21" x2="275.05" y2="46.21" stroke="#1a1aff" stroke-width="0.9"/>
<line x1="270.65" y1="52.22" x2="275.05" y2="52.22" stroke="#1a1aff" stroke-width="0.9"/>
<circle cx="269.25" cy="44.97" r="1.9" fill="#1a1aff"/>
<circle cx="276.45" cy="46.9" r="1.9" fill="#1a1aff"/>
<circle cx="269.25" cy="48.51" r="1.9" fill="#1a1aff"/>
<circle cx="276.45" cy="49.15" r="1.9" fill="#1a1aff"/>
<circle cx="269.25" cy="52.05" r="1.9" fill="#1a1aff"/>
<circle cx="276.45" cy="52.85" r="1.9" fill="#1a1aff"/>
<text x="275.15" y="91.1" font-size="6.2" text-anchor="start" fill="#222" stroke="#222" stroke-width="0.1" transform="rotate(-90 275.15 91.1)">474.2</text>
<rect x="283.3" y="63.03" width="9.4" height="29.27" fill="#fff" stroke="#6b6b6b" stroke-width="0.95"/>
<line x1="288" y1="62.12" x2="288" y2="63.94" stroke="#6b6b6b" stroke-width="0.9"/>
<line x1="285.8" y1="62.12" x2="290.2" y2="62.12" stroke="#6b6b6b" stroke-width="0.9"/>
<line x1="285.8" y1="63.94" x2="290.2" y2="63.94" stroke="#6b6b6b" stroke-width="0.9"/>
<circle cx="283.5" cy="62.03" r="1.9" fill="#6b6b6b"/>
<circle cx="285.75" cy="62.51" r="1.9" fill="#6b6b6b"/>
<circle cx="288" cy="62.84" r="1.9" fill="#6b6b6b"/>
<circle cx="290.25" cy="63.32" r="1.9" fill="#6b6b6b"/>
<circle cx="292.5" cy="63.64" r="1.9" fill="#6b6b6b"/>
<circle cx="291.6" cy="64.61" r="1.9" fill="#6b6b6b"/>
<text x="290.3" y="91.1" font-size="6.2" text-anchor="start" fill="#222" stroke="#222" stroke-width="0.1" transform="rotate(-90 290.3 91.1)">65.8</text>
<line x1="216.9" y1="92.3" x2="298.9" y2="92.3" stroke="#111" stroke-width="1"/>
<line x1="227.4" y1="92.3" x2="227.4" y2="94.5" stroke="#111" stroke-width="0.8"/>
<text x="229" y="99.6" font-size="5.2" text-anchor="end" fill="#222" stroke="#222" stroke-width="0.1" transform="rotate(-45 229 99.6)">ARVAC JN.1</text>
<line x1="242.55" y1="92.3" x2="242.55" y2="94.5" stroke="#111" stroke-width="0.8"/>
<text x="244.15" y="99.6" font-size="5.2" text-anchor="end" fill="#222" stroke="#222" stroke-width="0.1" transform="rotate(-45 244.15 99.6)">ARVAC XBB.1.5</text>
<line x1="257.7" y1="92.3" x2="257.7" y2="94.5" stroke="#111" stroke-width="0.8"/>
<text x="259.3" y="99.6" font-size="5.2" text-anchor="end" fill="#222" stroke="#222" stroke-width="0.1" transform="rotate(-45 259.3 99.6)">ARVAC Gamma/Omicron BA.4/5</text>
<line x1="272.85" y1="92.3" x2="272.85" y2="94.5" stroke="#111" stroke-width="0.8"/>
<text x="274.45" y="99.6" font-size="5.2" text-anchor="end" fill="#222" stroke="#222" stroke-width="0.1" transform="rotate(-45 274.45 99.6)">ARVAC Gamma/JN.1</text>
<line x1="288" y1="92.3" x2="288" y2="94.5" stroke="#111" stroke-width="0.8"/>
<text x="289.6" y="99.6" font-size="5.2" text-anchor="end" fill="#222" stroke="#222" stroke-width="0.1" transform="rotate(-45 289.6 99.6)">Spikevax XBB.1.5</text>
<line x1="225.2" y1="17.1" x2="288.6" y2="17.1" stroke="#1a1a1a" stroke-width="0.9"/>
<line x1="288.6" y1="17.1" x2="288.6" y2="48" stroke="#1a1a1a" stroke-width="0.9"/>
<polygon points="245.4,12.5 245.96,13.84 247.4,13.95 246.3,14.89 246.63,16.3 245.4,15.54 244.17,16.3 244.5,14.89 243.4,13.95 244.84,13.84" fill="#111"/>
<polygon points="250.8,12.5 251.36,13.84 252.8,13.95 251.7,14.89 252.03,16.3 250.8,15.54 249.57,16.3 249.9,14.89 248.8,13.95 250.24,13.84" fill="#111"/>
<polygon points="256.2,12.5 256.76,13.84 258.2,13.95 257.1,14.89 257.43,16.3 256.2,15.54 254.97,16.3 255.3,14.89 254.2,13.95 255.64,13.84" fill="#111"/>
<line x1="227.1" y1="25" x2="253.4" y2="25" stroke="#1a1a1a" stroke-width="0.9"/>
<line x1="253.4" y1="25" x2="253.4" y2="38.1" stroke="#1a1a1a" stroke-width="0.9"/>
<polygon points="233.3,20.3 233.86,21.64 235.3,21.75 234.2,22.69 234.53,24.1 233.3,23.34 232.07,24.1 232.4,22.69 231.3,21.75 232.74,21.64" fill="#111"/>
<polygon points="238.7,20.3 239.26,21.64 240.7,21.75 239.6,22.69 239.93,24.1 238.7,23.34 237.47,24.1 237.8,22.69 236.7,21.75 238.14,21.64" fill="#111"/>
<polygon points="244.1,20.3 244.66,21.64 246.1,21.75 245,22.69 245.33,24.1 244.1,23.34 242.87,24.1 243.2,22.69 242.1,21.75 243.54,21.64" fill="#111"/>
<line x1="227.1" y1="33.5" x2="239" y2="33.5" stroke="#1a1a1a" stroke-width="0.9"/>
<line x1="239" y1="33.5" x2="239" y2="46" stroke="#1a1a1a" stroke-width="0.9"/>
<polygon points="231.7,28.8 232.26,30.14 233.7,30.25 232.6,31.19 232.93,32.6 231.7,31.84 230.47,32.6 230.8,31.19 229.7,30.25 231.14,30.14" fill="#111"/>
<line x1="257.4" y1="39.4" x2="275.1" y2="39.4" stroke="#1a1a1a" stroke-width="0.9"/>
<polygon points="263.9,34.7 264.46,36.04 265.9,36.15 264.8,37.09 265.13,38.5 263.9,37.74 262.67,38.5 263,37.09 261.9,36.15 263.34,36.04" fill="#111"/>
<polygon points="269.3,34.7 269.86,36.04 271.3,36.15 270.2,37.09 270.53,38.5 269.3,37.74 268.07,38.5 268.4,37.09 267.3,36.15 268.74,36.04" fill="#111"/>
<text x="350.3" y="9.3" font-size="6.6" text-anchor="middle" fill="#222" stroke="#222" stroke-width="0.2" letter-spacing="0.15">XBB.1.5</text>
<line x1="317.1" y1="11.2" x2="385.1" y2="11.2" stroke="#111" stroke-width="1"/>
<line x1="312.9" y1="11.4" x2="312.9" y2="92.8" stroke="#111" stroke-width="1"/>
<line x1="310.9" y1="92.3" x2="312.9" y2="92.3" stroke="#111" stroke-width="0.9"/>
<text x="309.9" y="94.2" font-size="5.3" text-anchor="end" fill="#333" stroke="#333" stroke-width="0.2">0</text>
<line x1="310.9" y1="76.2" x2="312.9" y2="76.2" stroke="#111" stroke-width="0.9"/>
<text x="309.9" y="78.1" font-size="5.3" text-anchor="end" fill="#333" stroke="#333" stroke-width="0.2">1</text>
<line x1="310.9" y1="60.1" x2="312.9" y2="60.1" stroke="#111" stroke-width="0.9"/>
<text x="309.9" y="62" font-size="5.3" text-anchor="end" fill="#333" stroke="#333" stroke-width="0.2">2</text>
<line x1="310.9" y1="44" x2="312.9" y2="44" stroke="#111" stroke-width="0.9"/>
<text x="309.9" y="45.9" font-size="5.3" text-anchor="end" fill="#333" stroke="#333" stroke-width="0.2">3</text>
<line x1="310.9" y1="27.9" x2="312.9" y2="27.9" stroke="#111" stroke-width="0.9"/>
<text x="309.9" y="29.8" font-size="5.3" text-anchor="end" fill="#333" stroke="#333" stroke-width="0.2">4</text>
<line x1="310.9" y1="11.8" x2="312.9" y2="11.8" stroke="#111" stroke-width="0.9"/>
<text x="309.9" y="13.7" font-size="5.3" text-anchor="end" fill="#333" stroke="#333" stroke-width="0.2">5</text>
<line x1="311.3" y1="87.45" x2="312.9" y2="87.45" stroke="#222" stroke-width="0.5"/>
<line x1="311.3" y1="84.62" x2="312.9" y2="84.62" stroke="#222" stroke-width="0.5"/>
<line x1="311.3" y1="82.61" x2="312.9" y2="82.61" stroke="#222" stroke-width="0.5"/>
<line x1="311.3" y1="81.05" x2="312.9" y2="81.05" stroke="#222" stroke-width="0.5"/>
<line x1="311.3" y1="79.77" x2="312.9" y2="79.77" stroke="#222" stroke-width="0.5"/>
<line x1="311.3" y1="78.69" x2="312.9" y2="78.69" stroke="#222" stroke-width="0.5"/>
<line x1="311.3" y1="77.76" x2="312.9" y2="77.76" stroke="#222" stroke-width="0.5"/>
<line x1="311.3" y1="76.94" x2="312.9" y2="76.94" stroke="#222" stroke-width="0.5"/>
<line x1="311.3" y1="71.35" x2="312.9" y2="71.35" stroke="#222" stroke-width="0.5"/>
<line x1="311.3" y1="68.52" x2="312.9" y2="68.52" stroke="#222" stroke-width="0.5"/>
<line x1="311.3" y1="66.51" x2="312.9" y2="66.51" stroke="#222" stroke-width="0.5"/>
<line x1="311.3" y1="64.95" x2="312.9" y2="64.95" stroke="#222" stroke-width="0.5"/>
<line x1="311.3" y1="63.67" x2="312.9" y2="63.67" stroke="#222" stroke-width="0.5"/>
<line x1="311.3" y1="62.59" x2="312.9" y2="62.59" stroke="#222" stroke-width="0.5"/>
<line x1="311.3" y1="61.66" x2="312.9" y2="61.66" stroke="#222" stroke-width="0.5"/>
<line x1="311.3" y1="60.84" x2="312.9" y2="60.84" stroke="#222" stroke-width="0.5"/>
<line x1="311.3" y1="55.25" x2="312.9" y2="55.25" stroke="#222" stroke-width="0.5"/>
<line x1="311.3" y1="52.42" x2="312.9" y2="52.42" stroke="#222" stroke-width="0.5"/>
<line x1="311.3" y1="50.41" x2="312.9" y2="50.41" stroke="#222" stroke-width="0.5"/>
<line x1="311.3" y1="48.85" x2="312.9" y2="48.85" stroke="#222" stroke-width="0.5"/>
<line x1="311.3" y1="47.57" x2="312.9" y2="47.57" stroke="#222" stroke-width="0.5"/>
<line x1="311.3" y1="46.49" x2="312.9" y2="46.49" stroke="#222" stroke-width="0.5"/>
<line x1="311.3" y1="45.56" x2="312.9" y2="45.56" stroke="#222" stroke-width="0.5"/>
<line x1="311.3" y1="44.74" x2="312.9" y2="44.74" stroke="#222" stroke-width="0.5"/>
<line x1="311.3" y1="39.15" x2="312.9" y2="39.15" stroke="#222" stroke-width="0.5"/>
<line x1="311.3" y1="36.32" x2="312.9" y2="36.32" stroke="#222" stroke-width="0.5"/>
<line x1="311.3" y1="34.31" x2="312.9" y2="34.31" stroke="#222" stroke-width="0.5"/>
<line x1="311.3" y1="32.75" x2="312.9" y2="32.75" stroke="#222" stroke-width="0.5"/>
<line x1="311.3" y1="31.47" x2="312.9" y2="31.47" stroke="#222" stroke-width="0.5"/>
<line x1="311.3" y1="30.39" x2="312.9" y2="30.39" stroke="#222" stroke-width="0.5"/>
<line x1="311.3" y1="29.46" x2="312.9" y2="29.46" stroke="#222" stroke-width="0.5"/>
<line x1="311.3" y1="28.64" x2="312.9" y2="28.64" stroke="#222" stroke-width="0.5"/>
<line x1="311.3" y1="23.05" x2="312.9" y2="23.05" stroke="#222" stroke-width="0.5"/>
<line x1="311.3" y1="20.22" x2="312.9" y2="20.22" stroke="#222" stroke-width="0.5"/>
<line x1="311.3" y1="18.21" x2="312.9" y2="18.21" stroke="#222" stroke-width="0.5"/>
<line x1="311.3" y1="16.65" x2="312.9" y2="16.65" stroke="#222" stroke-width="0.5"/>
<line x1="311.3" y1="15.37" x2="312.9" y2="15.37" stroke="#222" stroke-width="0.5"/>
<line x1="311.3" y1="14.29" x2="312.9" y2="14.29" stroke="#222" stroke-width="0.5"/>
<line x1="311.3" y1="13.36" x2="312.9" y2="13.36" stroke="#222" stroke-width="0.5"/>
<line x1="311.3" y1="12.54" x2="312.9" y2="12.54" stroke="#222" stroke-width="0.5"/>
<text x="302.4" y="51.6" font-size="6.5" text-anchor="middle" fill="#222" stroke="#222" stroke-width="0.2" transform="rotate(-90 302.4 51.6)">NT50 (log10)</text>
<rect x="318.7" y="53.56" width="9.4" height="38.74" fill="#fff" stroke="#f4621f" stroke-width="0.95"/>
<line x1="323.4" y1="53.26" x2="323.4" y2="53.86" stroke="#f4621f" stroke-width="0.9"/>
<line x1="321.2" y1="53.26" x2="325.6" y2="53.26" stroke="#f4621f" stroke-width="0.9"/>
<line x1="321.2" y1="53.86" x2="325.6" y2="53.86" stroke="#f4621f" stroke-width="0.9"/>
<circle cx="322.5" cy="53.34" r="1.9" fill="#f4621f"/>
<circle cx="318.9" cy="53.02" r="1.9" fill="#f4621f"/>
<circle cx="326.1" cy="53.66" r="1.9" fill="#f4621f"/>
<circle cx="327.9" cy="53.82" r="1.9" fill="#f4621f"/>
<circle cx="320.7" cy="53.18" r="1.9" fill="#f4621f"/>
<circle cx="324.3" cy="53.5" r="1.9" fill="#f4621f"/>
<text x="325.7" y="91.1" font-size="6.2" text-anchor="start" fill="#222" stroke="#222" stroke-width="0.1" transform="rotate(-90 325.7 91.1)">254.8</text>
<rect x="333.85" y="49.57" width="9.4" height="42.73" fill="#fff" stroke="#a11a1a" stroke-width="0.95"/>
<line x1="338.55" y1="46.42" x2="338.55" y2="52.71" stroke="#a11a1a" stroke-width="0.9"/>
<line x1="336.35" y1="46.42" x2="340.75" y2="46.42" stroke="#a11a1a" stroke-width="0.9"/>
<line x1="336.35" y1="52.71" x2="340.75" y2="52.71" stroke="#a11a1a" stroke-width="0.9"/>
<circle cx="342.15" cy="46.25" r="1.9" fill="#a11a1a"/>
<circle cx="334.95" cy="44.97" r="1.9" fill="#a11a1a"/>
<circle cx="334.55" cy="50.12" r="1.9" fill="#a11a1a"/>
<circle cx="338.55" cy="50.12" r="1.9" fill="#a11a1a"/>
<circle cx="334.95" cy="52.85" r="1.9" fill="#a11a1a"/>
<circle cx="342.55" cy="52.05" r="1.9" fill="#a11a1a"/>
<text x="340.85" y="91.1" font-size="6.2" text-anchor="start" fill="#222" stroke="#222" stroke-width="0.1" transform="rotate(-90 340.85 91.1)">451.1</text>
<rect x="349" y="67.3" width="9.4" height="25" fill="#fff" stroke="#1c1c96" stroke-width="0.95"/>
<line x1="353.7" y1="64.78" x2="353.7" y2="69.82" stroke="#1c1c96" stroke-width="0.9"/>
<line x1="351.5" y1="64.78" x2="355.9" y2="64.78" stroke="#1c1c96" stroke-width="0.9"/>
<line x1="351.5" y1="69.82" x2="355.9" y2="69.82" stroke="#1c1c96" stroke-width="0.9"/>
<circle cx="353.7" cy="63.32" r="1.9" fill="#1c1c96"/>
<circle cx="357.3" cy="67.34" r="1.9" fill="#1c1c96"/>
<circle cx="350.1" cy="66.06" r="1.9" fill="#1c1c96"/>
<circle cx="353.7" cy="69.92" r="1.9" fill="#1c1c96"/>
<circle cx="357.7" cy="69.92" r="1.9" fill="#1c1c96"/>
<circle cx="349.7" cy="68.15" r="1.9" fill="#1c1c96"/>
<text x="356" y="91.1" font-size="6.2" text-anchor="start" fill="#222" stroke="#222" stroke-width="0.1" transform="rotate(-90 356 91.1)">35.7</text>
<rect x="364.15" y="53.93" width="9.4" height="38.37" fill="#fff" stroke="#1a1aff" stroke-width="0.95"/>
<line x1="368.85" y1="53.67" x2="368.85" y2="54.2" stroke="#1a1aff" stroke-width="0.9"/>
<line x1="366.65" y1="53.67" x2="371.05" y2="53.67" stroke="#1a1aff" stroke-width="0.9"/>
<line x1="366.65" y1="54.2" x2="371.05" y2="54.2" stroke="#1a1aff" stroke-width="0.9"/>
<circle cx="364.35" cy="53.66" r="1.9" fill="#1a1aff"/>
<circle cx="371.55" cy="54.14" r="1.9" fill="#1a1aff"/>
<circle cx="367.95" cy="53.82" r="1.9" fill="#1a1aff"/>
<circle cx="369.75" cy="53.98" r="1.9" fill="#1a1aff"/>
<circle cx="373.35" cy="54.3" r="1.9" fill="#1a1aff"/>
<circle cx="366.15" cy="53.66" r="1.9" fill="#1a1aff"/>
<text x="371.15" y="91.1" font-size="6.2" text-anchor="start" fill="#222" stroke="#222" stroke-width="0.1" transform="rotate(-90 371.15 91.1)">241.6</text>
<rect x="379.3" y="24.17" width="9.4" height="68.13" fill="#fff" stroke="#6b6b6b" stroke-width="0.95"/>
<line x1="384" y1="15.5" x2="384" y2="32.85" stroke="#6b6b6b" stroke-width="0.9"/>
<line x1="381.8" y1="15.5" x2="386.2" y2="15.5" stroke="#6b6b6b" stroke-width="0.9"/>
<line x1="381.8" y1="32.85" x2="386.2" y2="32.85" stroke="#6b6b6b" stroke-width="0.9"/>
<circle cx="380.4" cy="13.25" r="1.9" fill="#6b6b6b"/>
<circle cx="387.6" cy="14.54" r="1.9" fill="#6b6b6b"/>
<circle cx="387.6" cy="18.56" r="1.9" fill="#6b6b6b"/>
<circle cx="380.4" cy="29.03" r="1.9" fill="#6b6b6b"/>
<circle cx="380.4" cy="31.76" r="1.9" fill="#6b6b6b"/>
<circle cx="387.6" cy="31.76" r="1.9" fill="#6b6b6b"/>
<text x="386.3" y="91.1" font-size="6.2" text-anchor="start" fill="#222" stroke="#222" stroke-width="0.1" transform="rotate(-90 386.3 91.1)">17044.0</text>
<line x1="312.9" y1="92.3" x2="394.9" y2="92.3" stroke="#111" stroke-width="1"/>
<line x1="323.4" y1="92.3" x2="323.4" y2="94.5" stroke="#111" stroke-width="0.8"/>
<text x="325" y="99.6" font-size="5.2" text-anchor="end" fill="#222" stroke="#222" stroke-width="0.1" transform="rotate(-45 325 99.6)">ARVAC JN.1</text>
<line x1="338.55" y1="92.3" x2="338.55" y2="94.5" stroke="#111" stroke-width="0.8"/>
<text x="340.15" y="99.6" font-size="5.2" text-anchor="end" fill="#222" stroke="#222" stroke-width="0.1" transform="rotate(-45 340.15 99.6)">ARVAC XBB.1.5</text>
<line x1="353.7" y1="92.3" x2="353.7" y2="94.5" stroke="#111" stroke-width="0.8"/>
<text x="355.3" y="99.6" font-size="5.2" text-anchor="end" fill="#222" stroke="#222" stroke-width="0.1" transform="rotate(-45 355.3 99.6)">ARVAC Gamma/Omicron BA.4/5</text>
<line x1="368.85" y1="92.3" x2="368.85" y2="94.5" stroke="#111" stroke-width="0.8"/>
<text x="370.45" y="99.6" font-size="5.2" text-anchor="end" fill="#222" stroke="#222" stroke-width="0.1" transform="rotate(-45 370.45 99.6)">ARVAC Gamma/JN.1</text>
<line x1="384" y1="92.3" x2="384" y2="94.5" stroke="#111" stroke-width="0.8"/>
<text x="385.6" y="99.6" font-size="5.2" text-anchor="end" fill="#222" stroke="#222" stroke-width="0.1" transform="rotate(-45 385.6 99.6)">Spikevax XBB.1.5</text>
<line x1="323.1" y1="26.9" x2="353.6" y2="26.9" stroke="#1a1a1a" stroke-width="0.9"/>
<line x1="353.6" y1="26.9" x2="353.6" y2="55.2" stroke="#1a1a1a" stroke-width="0.9"/>
<polygon points="335.6,21.5 336.16,22.84 337.6,22.95 336.5,23.89 336.83,25.3 335.6,24.55 334.37,25.3 334.7,23.89 333.6,22.95 335.04,22.84" fill="#111"/>
<line x1="335.6" y1="39" x2="353.6" y2="39" stroke="#1a1a1a" stroke-width="0.9"/>
<polygon points="337.5,33.7 338.06,35.04 339.5,35.15 338.4,36.09 338.73,37.5 337.5,36.74 336.27,37.5 336.6,36.09 335.5,35.15 336.94,35.04" fill="#111"/>
<polygon points="342.9,33.7 343.46,35.04 344.9,35.15 343.8,36.09 344.13,37.5 342.9,36.74 341.67,37.5 342,36.09 340.9,35.15 342.34,35.04" fill="#111"/>
<polygon points="348.3,33.7 348.86,35.04 350.3,35.15 349.2,36.09 349.53,37.5 348.3,36.74 347.07,37.5 347.4,36.09 346.3,35.15 347.74,35.04" fill="#111"/>
<text x="447" y="9.3" font-size="6.6" text-anchor="middle" fill="#222" stroke="#222" stroke-width="0.2" letter-spacing="0.15">BA.5</text>
<line x1="414.4" y1="11.2" x2="482.4" y2="11.2" stroke="#111" stroke-width="1"/>
<line x1="410.2" y1="11.4" x2="410.2" y2="92.8" stroke="#111" stroke-width="1"/>
<line x1="408.2" y1="92.3" x2="410.2" y2="92.3" stroke="#111" stroke-width="0.9"/>
<text x="407.2" y="94.2" font-size="5.3" text-anchor="end" fill="#333" stroke="#333" stroke-width="0.2">0</text>
<line x1="408.2" y1="76.2" x2="410.2" y2="76.2" stroke="#111" stroke-width="0.9"/>
<text x="407.2" y="78.1" font-size="5.3" text-anchor="end" fill="#333" stroke="#333" stroke-width="0.2">1</text>
<line x1="408.2" y1="60.1" x2="410.2" y2="60.1" stroke="#111" stroke-width="0.9"/>
<text x="407.2" y="62" font-size="5.3" text-anchor="end" fill="#333" stroke="#333" stroke-width="0.2">2</text>
<line x1="408.2" y1="44" x2="410.2" y2="44" stroke="#111" stroke-width="0.9"/>
<text x="407.2" y="45.9" font-size="5.3" text-anchor="end" fill="#333" stroke="#333" stroke-width="0.2">3</text>
<line x1="408.2" y1="27.9" x2="410.2" y2="27.9" stroke="#111" stroke-width="0.9"/>
<text x="407.2" y="29.8" font-size="5.3" text-anchor="end" fill="#333" stroke="#333" stroke-width="0.2">4</text>
<line x1="408.2" y1="11.8" x2="410.2" y2="11.8" stroke="#111" stroke-width="0.9"/>
<text x="407.2" y="13.7" font-size="5.3" text-anchor="end" fill="#333" stroke="#333" stroke-width="0.2">5</text>
<line x1="408.6" y1="87.45" x2="410.2" y2="87.45" stroke="#222" stroke-width="0.5"/>
<line x1="408.6" y1="84.62" x2="410.2" y2="84.62" stroke="#222" stroke-width="0.5"/>
<line x1="408.6" y1="82.61" x2="410.2" y2="82.61" stroke="#222" stroke-width="0.5"/>
<line x1="408.6" y1="81.05" x2="410.2" y2="81.05" stroke="#222" stroke-width="0.5"/>
<line x1="408.6" y1="79.77" x2="410.2" y2="79.77" stroke="#222" stroke-width="0.5"/>
<line x1="408.6" y1="78.69" x2="410.2" y2="78.69" stroke="#222" stroke-width="0.5"/>
<line x1="408.6" y1="77.76" x2="410.2" y2="77.76" stroke="#222" stroke-width="0.5"/>
<line x1="408.6" y1="76.94" x2="410.2" y2="76.94" stroke="#222" stroke-width="0.5"/>
<line x1="408.6" y1="71.35" x2="410.2" y2="71.35" stroke="#222" stroke-width="0.5"/>
<line x1="408.6" y1="68.52" x2="410.2" y2="68.52" stroke="#222" stroke-width="0.5"/>
<line x1="408.6" y1="66.51" x2="410.2" y2="66.51" stroke="#222" stroke-width="0.5"/>
<line x1="408.6" y1="64.95" x2="410.2" y2="64.95" stroke="#222" stroke-width="0.5"/>
<line x1="408.6" y1="63.67" x2="410.2" y2="63.67" stroke="#222" stroke-width="0.5"/>
<line x1="408.6" y1="62.59" x2="410.2" y2="62.59" stroke="#222" stroke-width="0.5"/>
<line x1="408.6" y1="61.66" x2="410.2" y2="61.66" stroke="#222" stroke-width="0.5"/>
<line x1="408.6" y1="60.84" x2="410.2" y2="60.84" stroke="#222" stroke-width="0.5"/>
<line x1="408.6" y1="55.25" x2="410.2" y2="55.25" stroke="#222" stroke-width="0.5"/>
<line x1="408.6" y1="52.42" x2="410.2" y2="52.42" stroke="#222" stroke-width="0.5"/>
<line x1="408.6" y1="50.41" x2="410.2" y2="50.41" stroke="#222" stroke-width="0.5"/>
<line x1="408.6" y1="48.85" x2="410.2" y2="48.85" stroke="#222" stroke-width="0.5"/>
<line x1="408.6" y1="47.57" x2="410.2" y2="47.57" stroke="#222" stroke-width="0.5"/>
<line x1="408.6" y1="46.49" x2="410.2" y2="46.49" stroke="#222" stroke-width="0.5"/>
<line x1="408.6" y1="45.56" x2="410.2" y2="45.56" stroke="#222" stroke-width="0.5"/>
<line x1="408.6" y1="44.74" x2="410.2" y2="44.74" stroke="#222" stroke-width="0.5"/>
<line x1="408.6" y1="39.15" x2="410.2" y2="39.15" stroke="#222" stroke-width="0.5"/>
<line x1="408.6" y1="36.32" x2="410.2" y2="36.32" stroke="#222" stroke-width="0.5"/>
<line x1="408.6" y1="34.31" x2="410.2" y2="34.31" stroke="#222" stroke-width="0.5"/>
<line x1="408.6" y1="32.75" x2="410.2" y2="32.75" stroke="#222" stroke-width="0.5"/>
<line x1="408.6" y1="31.47" x2="410.2" y2="31.47" stroke="#222" stroke-width="0.5"/>
<line x1="408.6" y1="30.39" x2="410.2" y2="30.39" stroke="#222" stroke-width="0.5"/>
<line x1="408.6" y1="29.46" x2="410.2" y2="29.46" stroke="#222" stroke-width="0.5"/>
<line x1="408.6" y1="28.64" x2="410.2" y2="28.64" stroke="#222" stroke-width="0.5"/>
<line x1="408.6" y1="23.05" x2="410.2" y2="23.05" stroke="#222" stroke-width="0.5"/>
<line x1="408.6" y1="20.22" x2="410.2" y2="20.22" stroke="#222" stroke-width="0.5"/>
<line x1="408.6" y1="18.21" x2="410.2" y2="18.21" stroke="#222" stroke-width="0.5"/>
<line x1="408.6" y1="16.65" x2="410.2" y2="16.65" stroke="#222" stroke-width="0.5"/>
<line x1="408.6" y1="15.37" x2="410.2" y2="15.37" stroke="#222" stroke-width="0.5"/>
<line x1="408.6" y1="14.29" x2="410.2" y2="14.29" stroke="#222" stroke-width="0.5"/>
<line x1="408.6" y1="13.36" x2="410.2" y2="13.36" stroke="#222" stroke-width="0.5"/>
<line x1="408.6" y1="12.54" x2="410.2" y2="12.54" stroke="#222" stroke-width="0.5"/>
<text x="399.7" y="51.6" font-size="6.5" text-anchor="middle" fill="#222" stroke="#222" stroke-width="0.2" transform="rotate(-90 399.7 51.6)">NT50 (log10)</text>
<rect x="416" y="75.41" width="9.4" height="16.89" fill="#fff" stroke="#f4621f" stroke-width="0.95"/>
<line x1="420.7" y1="72.43" x2="420.7" y2="78.38" stroke="#f4621f" stroke-width="0.9"/>
<line x1="418.5" y1="72.43" x2="422.9" y2="72.43" stroke="#f4621f" stroke-width="0.9"/>
<line x1="418.5" y1="78.38" x2="422.9" y2="78.38" stroke="#f4621f" stroke-width="0.9"/>
<circle cx="417.1" cy="71.21" r="1.9" fill="#f4621f"/>
<circle cx="424.3" cy="71.21" r="1.9" fill="#f4621f"/>
<circle cx="417.1" cy="75.23" r="1.9" fill="#f4621f"/>
<circle cx="424.3" cy="75.23" r="1.9" fill="#f4621f"/>
<circle cx="417.1" cy="77.81" r="1.9" fill="#f4621f"/>
<circle cx="424.3" cy="77.81" r="1.9" fill="#f4621f"/>
<text x="423" y="91.1" font-size="6.2" text-anchor="start" fill="#222" stroke="#222" stroke-width="0.1" transform="rotate(-90 423 91.1)">11.2</text>
<rect x="431.15" y="57.09" width="9.4" height="35.21" fill="#fff" stroke="#a11a1a" stroke-width="0.95"/>
<line x1="435.85" y1="50.03" x2="435.85" y2="64.16" stroke="#a11a1a" stroke-width="0.9"/>
<line x1="433.65" y1="50.03" x2="438.05" y2="50.03" stroke="#a11a1a" stroke-width="0.9"/>
<line x1="433.65" y1="64.16" x2="438.05" y2="64.16" stroke="#a11a1a" stroke-width="0.9"/>
<circle cx="432.25" cy="48.83" r="1.9" fill="#a11a1a"/>
<circle cx="439.45" cy="48.83" r="1.9" fill="#a11a1a"/>
<circle cx="439.45" cy="54.14" r="1.9" fill="#a11a1a"/>
<circle cx="432.25" cy="62.03" r="1.9" fill="#a11a1a"/>
<circle cx="439.45" cy="62.03" r="1.9" fill="#a11a1a"/>
<circle cx="439.45" cy="64.61" r="1.9" fill="#a11a1a"/>
<text x="438.15" y="91.1" font-size="6.2" text-anchor="start" fill="#222" stroke="#222" stroke-width="0.1" transform="rotate(-90 438.15 91.1)">153.7</text>
<rect x="446.3" y="53.54" width="9.4" height="38.76" fill="#fff" stroke="#1c1c96" stroke-width="0.95"/>
<line x1="451" y1="48.63" x2="451" y2="58.44" stroke="#1c1c96" stroke-width="0.9"/>
<line x1="448.8" y1="48.63" x2="453.2" y2="48.63" stroke="#1c1c96" stroke-width="0.9"/>
<line x1="448.8" y1="58.44" x2="453.2" y2="58.44" stroke="#1c1c96" stroke-width="0.9"/>
<circle cx="451" cy="46.25" r="1.9" fill="#1c1c96"/>
<circle cx="447.4" cy="50.12" r="1.9" fill="#1c1c96"/>
<circle cx="454.6" cy="52.05" r="1.9" fill="#1c1c96"/>
<circle cx="447.4" cy="56.72" r="1.9" fill="#1c1c96"/>
<circle cx="454.6" cy="56.72" r="1.9" fill="#1c1c96"/>
<circle cx="454.6" cy="59.29" r="1.9" fill="#1c1c96"/>
<text x="453.3" y="91.1" font-size="6.2" text-anchor="start" fill="#222" stroke="#222" stroke-width="0.1" transform="rotate(-90 453.3 91.1)">255.6</text>
<rect x="461.45" y="60.8" width="9.4" height="31.5" fill="#fff" stroke="#1a1aff" stroke-width="0.95"/>
<line x1="466.15" y1="56.46" x2="466.15" y2="65.14" stroke="#1a1aff" stroke-width="0.9"/>
<line x1="463.95" y1="56.46" x2="468.35" y2="56.46" stroke="#1a1aff" stroke-width="0.9"/>
<line x1="463.95" y1="65.14" x2="468.35" y2="65.14" stroke="#1a1aff" stroke-width="0.9"/>
<circle cx="462.55" cy="54.14" r="1.9" fill="#1a1aff"/>
<circle cx="469.75" cy="55.43" r="1.9" fill="#1a1aff"/>
<circle cx="469.75" cy="60.1" r="1.9" fill="#1a1aff"/>
<circle cx="462.15" cy="63.32" r="1.9" fill="#1a1aff"/>
<circle cx="466.15" cy="63.32" r="1.9" fill="#1a1aff"/>
<circle cx="470.15" cy="64.12" r="1.9" fill="#1a1aff"/>
<text x="468.45" y="91.1" font-size="6.2" text-anchor="start" fill="#222" stroke="#222" stroke-width="0.1" transform="rotate(-90 468.45 91.1)">90.5</text>
<rect x="476.6" y="50.76" width="9.4" height="41.54" fill="#fff" stroke="#6b6b6b" stroke-width="0.95"/>
<line x1="481.3" y1="44.27" x2="481.3" y2="57.26" stroke="#6b6b6b" stroke-width="0.9"/>
<line x1="479.1" y1="44.27" x2="483.5" y2="44.27" stroke="#6b6b6b" stroke-width="0.9"/>
<line x1="479.1" y1="57.26" x2="483.5" y2="57.26" stroke="#6b6b6b" stroke-width="0.9"/>
<circle cx="481.3" cy="38.36" r="1.9" fill="#6b6b6b"/>
<circle cx="477.7" cy="48.83" r="1.9" fill="#6b6b6b"/>
<circle cx="484.9" cy="48.83" r="1.9" fill="#6b6b6b"/>
<circle cx="477.3" cy="54.14" r="1.9" fill="#6b6b6b"/>
<circle cx="481.3" cy="55.27" r="1.9" fill="#6b6b6b"/>
<circle cx="485.3" cy="55.27" r="1.9" fill="#6b6b6b"/>
<text x="483.6" y="91.1" font-size="6.2" text-anchor="start" fill="#222" stroke="#222" stroke-width="0.1" transform="rotate(-90 483.6 91.1)">380.1</text>
<line x1="410.2" y1="92.3" x2="492.2" y2="92.3" stroke="#111" stroke-width="1"/>
<line x1="420.7" y1="92.3" x2="420.7" y2="94.5" stroke="#111" stroke-width="0.8"/>
<text x="422.3" y="99.6" font-size="5.2" text-anchor="end" fill="#222" stroke="#222" stroke-width="0.1" transform="rotate(-45 422.3 99.6)">ARVAC JN.1</text>
<line x1="435.85" y1="92.3" x2="435.85" y2="94.5" stroke="#111" stroke-width="0.8"/>
<text x="437.45" y="99.6" font-size="5.2" text-anchor="end" fill="#222" stroke="#222" stroke-width="0.1" transform="rotate(-45 437.45 99.6)">ARVAC XBB.1.5</text>
<line x1="451" y1="92.3" x2="451" y2="94.5" stroke="#111" stroke-width="0.8"/>
<text x="452.6" y="99.6" font-size="5.2" text-anchor="end" fill="#222" stroke="#222" stroke-width="0.1" transform="rotate(-45 452.6 99.6)">ARVAC Gamma/Omicron BA.4/5</text>
<line x1="466.15" y1="92.3" x2="466.15" y2="94.5" stroke="#111" stroke-width="0.8"/>
<text x="467.75" y="99.6" font-size="5.2" text-anchor="end" fill="#222" stroke="#222" stroke-width="0.1" transform="rotate(-45 467.75 99.6)">ARVAC Gamma/JN.1</text>
<line x1="481.3" y1="92.3" x2="481.3" y2="94.5" stroke="#111" stroke-width="0.8"/>
<text x="482.9" y="99.6" font-size="5.2" text-anchor="end" fill="#222" stroke="#222" stroke-width="0.1" transform="rotate(-45 482.9 99.6)">Spikevax XBB.1.5</text>
<line x1="418.5" y1="18.4" x2="481.6" y2="18.4" stroke="#1a1a1a" stroke-width="0.9"/>
<line x1="481.6" y1="18.4" x2="481.6" y2="29.6" stroke="#1a1a1a" stroke-width="0.9"/>
<polygon points="453.2,13.9 453.76,15.24 455.2,15.35 454.1,16.29 454.43,17.7 453.2,16.95 451.97,17.7 452.3,16.29 451.2,15.35 452.64,15.24" fill="#111"/>
<polygon points="458.6,13.9 459.16,15.24 460.6,15.35 459.5,16.29 459.83,17.7 458.6,16.95 457.37,17.7 457.7,16.29 456.6,15.35 458.04,15.24" fill="#111"/>
<polygon points="464,13.9 464.56,15.24 466,15.35 464.9,16.29 465.23,17.7 464,16.95 462.77,17.7 463.1,16.29 462,15.35 463.44,15.24" fill="#111"/>
<line x1="420.5" y1="26.5" x2="466.4" y2="26.5" stroke="#1a1a1a" stroke-width="0.9"/>
<line x1="466.4" y1="26.5" x2="466.4" y2="40.7" stroke="#1a1a1a" stroke-width="0.9"/>
<polygon points="447.4,21.9 447.96,23.24 449.4,23.35 448.3,24.29 448.63,25.7 447.4,24.95 446.17,25.7 446.5,24.29 445.4,23.35 446.84,23.24" fill="#111"/>
<line x1="420.5" y1="35.5" x2="450" y2="35.5" stroke="#1a1a1a" stroke-width="0.9"/>
<line x1="450" y1="35.5" x2="450" y2="40.7" stroke="#1a1a1a" stroke-width="0.9"/>
<line x1="435.6" y1="35.5" x2="435.6" y2="40.7" stroke="#1a1a1a" stroke-width="0.9"/>
<polygon points="433.5,30.5 434.06,31.84 435.5,31.95 434.4,32.89 434.73,34.3 433.5,33.55 432.27,34.3 432.6,32.89 431.5,31.95 432.94,31.84" fill="#111"/>
<polygon points="438.9,30.5 439.46,31.84 440.9,31.95 439.8,32.89 440.13,34.3 438.9,33.55 437.67,34.3 438,32.89 436.9,31.95 438.34,31.84" fill="#111"/>
<text x="546.6" y="9.3" font-size="6.6" text-anchor="middle" fill="#222" stroke="#222" stroke-width="0.2" letter-spacing="0.15">Gamma</text>
<line x1="510.8" y1="11.2" x2="578.8" y2="11.2" stroke="#111" stroke-width="1"/>
<line x1="506.6" y1="11.4" x2="506.6" y2="92.8" stroke="#111" stroke-width="1"/>
<line x1="504.6" y1="92.3" x2="506.6" y2="92.3" stroke="#111" stroke-width="0.9"/>
<text x="503.6" y="94.2" font-size="5.3" text-anchor="end" fill="#333" stroke="#333" stroke-width="0.2">0</text>
<line x1="504.6" y1="76.2" x2="506.6" y2="76.2" stroke="#111" stroke-width="0.9"/>
<text x="503.6" y="78.1" font-size="5.3" text-anchor="end" fill="#333" stroke="#333" stroke-width="0.2">1</text>
<line x1="504.6" y1="60.1" x2="506.6" y2="60.1" stroke="#111" stroke-width="0.9"/>
<text x="503.6" y="62" font-size="5.3" text-anchor="end" fill="#333" stroke="#333" stroke-width="0.2">2</text>
<line x1="504.6" y1="44" x2="506.6" y2="44" stroke="#111" stroke-width="0.9"/>
<text x="503.6" y="45.9" font-size="5.3" text-anchor="end" fill="#333" stroke="#333" stroke-width="0.2">3</text>
<line x1="504.6" y1="27.9" x2="506.6" y2="27.9" stroke="#111" stroke-width="0.9"/>
<text x="503.6" y="29.8" font-size="5.3" text-anchor="end" fill="#333" stroke="#333" stroke-width="0.2">4</text>
<line x1="504.6" y1="11.8" x2="506.6" y2="11.8" stroke="#111" stroke-width="0.9"/>
<text x="503.6" y="13.7" font-size="5.3" text-anchor="end" fill="#333" stroke="#333" stroke-width="0.2">5</text>
<line x1="505" y1="87.45" x2="506.6" y2="87.45" stroke="#222" stroke-width="0.5"/>
<line x1="505" y1="84.62" x2="506.6" y2="84.62" stroke="#222" stroke-width="0.5"/>
<line x1="505" y1="82.61" x2="506.6" y2="82.61" stroke="#222" stroke-width="0.5"/>
<line x1="505" y1="81.05" x2="506.6" y2="81.05" stroke="#222" stroke-width="0.5"/>
<line x1="505" y1="79.77" x2="506.6" y2="79.77" stroke="#222" stroke-width="0.5"/>
<line x1="505" y1="78.69" x2="506.6" y2="78.69" stroke="#222" stroke-width="0.5"/>
<line x1="505" y1="77.76" x2="506.6" y2="77.76" stroke="#222" stroke-width="0.5"/>
<line x1="505" y1="76.94" x2="506.6" y2="76.94" stroke="#222" stroke-width="0.5"/>
<line x1="505" y1="71.35" x2="506.6" y2="71.35" stroke="#222" stroke-width="0.5"/>
<line x1="505" y1="68.52" x2="506.6" y2="68.52" stroke="#222" stroke-width="0.5"/>
<line x1="505" y1="66.51" x2="506.6" y2="66.51" stroke="#222" stroke-width="0.5"/>
<line x1="505" y1="64.95" x2="506.6" y2="64.95" stroke="#222" stroke-width="0.5"/>
<line x1="505" y1="63.67" x2="506.6" y2="63.67" stroke="#222" stroke-width="0.5"/>
<line x1="505" y1="62.59" x2="506.6" y2="62.59" stroke="#222" stroke-width="0.5"/>
<line x1="505" y1="61.66" x2="506.6" y2="61.66" stroke="#222" stroke-width="0.5"/>
<line x1="505" y1="60.84" x2="506.6" y2="60.84" stroke="#222" stroke-width="0.5"/>
<line x1="505" y1="55.25" x2="506.6" y2="55.25" stroke="#222" stroke-width="0.5"/>
<line x1="505" y1="52.42" x2="506.6" y2="52.42" stroke="#222" stroke-width="0.5"/>
<line x1="505" y1="50.41" x2="506.6" y2="50.41" stroke="#222" stroke-width="0.5"/>
<line x1="505" y1="48.85" x2="506.6" y2="48.85" stroke="#222" stroke-width="0.5"/>
<line x1="505" y1="47.57" x2="506.6" y2="47.57" stroke="#222" stroke-width="0.5"/>
<line x1="505" y1="46.49" x2="506.6" y2="46.49" stroke="#222" stroke-width="0.5"/>
<line x1="505" y1="45.56" x2="506.6" y2="45.56" stroke="#222" stroke-width="0.5"/>
<line x1="505" y1="44.74" x2="506.6" y2="44.74" stroke="#222" stroke-width="0.5"/>
<line x1="505" y1="39.15" x2="506.6" y2="39.15" stroke="#222" stroke-width="0.5"/>
<line x1="505" y1="36.32" x2="506.6" y2="36.32" stroke="#222" stroke-width="0.5"/>
<line x1="505" y1="34.31" x2="506.6" y2="34.31" stroke="#222" stroke-width="0.5"/>
<line x1="505" y1="32.75" x2="506.6" y2="32.75" stroke="#222" stroke-width="0.5"/>
<line x1="505" y1="31.47" x2="506.6" y2="31.47" stroke="#222" stroke-width="0.5"/>
<line x1="505" y1="30.39" x2="506.6" y2="30.39" stroke="#222" stroke-width="0.5"/>
<line x1="505" y1="29.46" x2="506.6" y2="29.46" stroke="#222" stroke-width="0.5"/>
<line x1="505" y1="28.64" x2="506.6" y2="28.64" stroke="#222" stroke-width="0.5"/>
<line x1="505" y1="23.05" x2="506.6" y2="23.05" stroke="#222" stroke-width="0.5"/>
<line x1="505" y1="20.22" x2="506.6" y2="20.22" stroke="#222" stroke-width="0.5"/>
<line x1="505" y1="18.21" x2="506.6" y2="18.21" stroke="#222" stroke-width="0.5"/>
<line x1="505" y1="16.65" x2="506.6" y2="16.65" stroke="#222" stroke-width="0.5"/>
<line x1="505" y1="15.37" x2="506.6" y2="15.37" stroke="#222" stroke-width="0.5"/>
<line x1="505" y1="14.29" x2="506.6" y2="14.29" stroke="#222" stroke-width="0.5"/>
<line x1="505" y1="13.36" x2="506.6" y2="13.36" stroke="#222" stroke-width="0.5"/>
<line x1="505" y1="12.54" x2="506.6" y2="12.54" stroke="#222" stroke-width="0.5"/>
<text x="496.1" y="51.6" font-size="6.5" text-anchor="middle" fill="#222" stroke="#222" stroke-width="0.2" transform="rotate(-90 496.1 51.6)">NT50 (log10)</text>
<rect x="512.4" y="75.99" width="9.4" height="16.31" fill="#fff" stroke="#f4621f" stroke-width="0.95"/>
<line x1="517.1" y1="73.87" x2="517.1" y2="78.11" stroke="#f4621f" stroke-width="0.9"/>
<line x1="514.9" y1="73.87" x2="519.3" y2="73.87" stroke="#f4621f" stroke-width="0.9"/>
<line x1="514.9" y1="78.11" x2="519.3" y2="78.11" stroke="#f4621f" stroke-width="0.9"/>
<circle cx="513.1" cy="73.95" r="1.9" fill="#f4621f"/>
<circle cx="517.1" cy="73.95" r="1.9" fill="#f4621f"/>
<circle cx="521.1" cy="75.39" r="1.9" fill="#f4621f"/>
<circle cx="513.5" cy="77" r="1.9" fill="#f4621f"/>
<circle cx="520.7" cy="77.81" r="1.9" fill="#f4621f"/>
<circle cx="513.5" cy="79.1" r="1.9" fill="#f4621f"/>
<text x="519.4" y="91.1" font-size="6.2" text-anchor="start" fill="#222" stroke="#222" stroke-width="0.1" transform="rotate(-90 519.4 91.1)">10.3</text>
<rect x="527.55" y="71.15" width="9.4" height="21.15" fill="#fff" stroke="#a11a1a" stroke-width="0.95"/>
<line x1="532.25" y1="66.71" x2="532.25" y2="75.58" stroke="#a11a1a" stroke-width="0.9"/>
<line x1="530.05" y1="66.71" x2="534.45" y2="66.71" stroke="#a11a1a" stroke-width="0.9"/>
<line x1="530.05" y1="75.58" x2="534.45" y2="75.58" stroke="#a11a1a" stroke-width="0.9"/>
<circle cx="532.25" cy="64.61" r="1.9" fill="#a11a1a"/>
<circle cx="528.65" cy="68.95" r="1.9" fill="#a11a1a"/>
<circle cx="535.85" cy="69.92" r="1.9" fill="#a11a1a"/>
<circle cx="528.65" cy="72.98" r="1.9" fill="#a11a1a"/>
<circle cx="535.85" cy="74.59" r="1.9" fill="#a11a1a"/>
<circle cx="535.85" cy="77" r="1.9" fill="#a11a1a"/>
<text x="534.55" y="91.1" font-size="6.2" text-anchor="start" fill="#222" stroke="#222" stroke-width="0.1" transform="rotate(-90 534.55 91.1)">20.6</text>
<rect x="542.7" y="37.23" width="9.4" height="55.07" fill="#fff" stroke="#1c1c96" stroke-width="0.95"/>
<line x1="547.4" y1="35.03" x2="547.4" y2="39.43" stroke="#1c1c96" stroke-width="0.9"/>
<line x1="545.2" y1="35.03" x2="549.6" y2="35.03" stroke="#1c1c96" stroke-width="0.9"/>
<line x1="545.2" y1="39.43" x2="549.6" y2="39.43" stroke="#1c1c96" stroke-width="0.9"/>
<circle cx="543.8" cy="34.34" r="1.9" fill="#1c1c96"/>
<circle cx="551" cy="34.34" r="1.9" fill="#1c1c96"/>
<circle cx="543.1" cy="37.24" r="1.9" fill="#1c1c96"/>
<circle cx="548.85" cy="39.01" r="1.9" fill="#1c1c96"/>
<circle cx="551.7" cy="39.01" r="1.9" fill="#1c1c96"/>
<circle cx="545.95" cy="38.36" r="1.9" fill="#1c1c96"/>
<text x="549.7" y="91.1" font-size="6.2" text-anchor="start" fill="#222" stroke="#222" stroke-width="0.1" transform="rotate(-90 549.7 91.1)">2632.7</text>
<rect x="557.85" y="40.78" width="9.4" height="51.52" fill="#fff" stroke="#1a1aff" stroke-width="0.95"/>
<line x1="562.55" y1="36.29" x2="562.55" y2="45.28" stroke="#1a1aff" stroke-width="0.9"/>
<line x1="560.35" y1="36.29" x2="564.75" y2="36.29" stroke="#1a1aff" stroke-width="0.9"/>
<line x1="560.35" y1="45.28" x2="564.75" y2="45.28" stroke="#1a1aff" stroke-width="0.9"/>
<circle cx="562.55" cy="34.34" r="1.9" fill="#1a1aff"/>
<circle cx="558.95" cy="39.65" r="1.9" fill="#1a1aff"/>
<circle cx="566.15" cy="39.65" r="1.9" fill="#1a1aff"/>
<circle cx="566.15" cy="46.25" r="1.9" fill="#1a1aff"/>
<circle cx="558.95" cy="44.97" r="1.9" fill="#1a1aff"/>
<circle cx="566.15" cy="37.56" r="1.9" fill="#1a1aff"/>
<text x="564.85" y="91.1" font-size="6.2" text-anchor="start" fill="#222" stroke="#222" stroke-width="0.1" transform="rotate(-90 564.85 91.1)">1584.7</text>
<rect x="573" y="60.62" width="9.4" height="31.68" fill="#fff" stroke="#6b6b6b" stroke-width="0.95"/>
<line x1="577.7" y1="55.24" x2="577.7" y2="66.01" stroke="#6b6b6b" stroke-width="0.9"/>
<line x1="575.5" y1="55.24" x2="579.9" y2="55.24" stroke="#6b6b6b" stroke-width="0.9"/>
<line x1="575.5" y1="66.01" x2="579.9" y2="66.01" stroke="#6b6b6b" stroke-width="0.9"/>
<circle cx="577.7" cy="54.14" r="1.9" fill="#6b6b6b"/>
<circle cx="574.1" cy="56.72" r="1.9" fill="#6b6b6b"/>
<circle cx="581.3" cy="56.72" r="1.9" fill="#6b6b6b"/>
<circle cx="574.1" cy="62.03" r="1.9" fill="#6b6b6b"/>
<circle cx="581.3" cy="68.63" r="1.9" fill="#6b6b6b"/>
<circle cx="581.3" cy="63.32" r="1.9" fill="#6b6b6b"/>
<text x="580" y="91.1" font-size="6.2" text-anchor="start" fill="#222" stroke="#222" stroke-width="0.1" transform="rotate(-90 580 91.1)">92.8</text>
<line x1="506.6" y1="92.3" x2="588.6" y2="92.3" stroke="#111" stroke-width="1"/>
<line x1="517.1" y1="92.3" x2="517.1" y2="94.5" stroke="#111" stroke-width="0.8"/>
<text x="518.7" y="99.6" font-size="5.2" text-anchor="end" fill="#222" stroke="#222" stroke-width="0.1" transform="rotate(-45 518.7 99.6)">ARVAC JN.1</text>
<line x1="532.25" y1="92.3" x2="532.25" y2="94.5" stroke="#111" stroke-width="0.8"/>
<text x="533.85" y="99.6" font-size="5.2" text-anchor="end" fill="#222" stroke="#222" stroke-width="0.1" transform="rotate(-45 533.85 99.6)">ARVAC XBB.1.5</text>
<line x1="547.4" y1="92.3" x2="547.4" y2="94.5" stroke="#111" stroke-width="0.8"/>
<text x="549" y="99.6" font-size="5.2" text-anchor="end" fill="#222" stroke="#222" stroke-width="0.1" transform="rotate(-45 549 99.6)">ARVAC Gamma/Omicron BA.4/5</text>
<line x1="562.55" y1="92.3" x2="562.55" y2="94.5" stroke="#111" stroke-width="0.8"/>
<text x="564.15" y="99.6" font-size="5.2" text-anchor="end" fill="#222" stroke="#222" stroke-width="0.1" transform="rotate(-45 564.15 99.6)">ARVAC Gamma/JN.1</text>
<line x1="577.7" y1="92.3" x2="577.7" y2="94.5" stroke="#111" stroke-width="0.8"/>
<text x="579.3" y="99.6" font-size="5.2" text-anchor="end" fill="#222" stroke="#222" stroke-width="0.1" transform="rotate(-45 579.3 99.6)">Spikevax XBB.1.5</text>
<line x1="516.5" y1="18.1" x2="562.7" y2="18.1" stroke="#9a9a9a" stroke-width="0.9"/>
<line x1="516.5" y1="18.1" x2="516.5" y2="27.6" stroke="#9a9a9a" stroke-width="0.9"/>
<line x1="562.7" y1="18.1" x2="562.7" y2="20.4" stroke="#9a9a9a" stroke-width="0.9"/>
<line x1="528.9" y1="18.1" x2="528.9" y2="29.6" stroke="#9a9a9a" stroke-width="0.9"/>
<polygon points="535.4,13.5 535.96,14.84 537.4,14.95 536.3,15.89 536.63,17.3 535.4,16.54 534.17,17.3 534.5,15.89 533.4,14.95 534.84,14.84" fill="#111"/>
<polygon points="540.8,13.5 541.36,14.84 542.8,14.95 541.7,15.89 542.03,17.3 540.8,16.54 539.57,17.3 539.9,15.89 538.8,14.95 540.24,14.84" fill="#111"/>
<line x1="517.8" y1="31.5" x2="545.6" y2="31.5" stroke="#1a1a1a" stroke-width="0.9"/>
<line x1="517.8" y1="31.5" x2="517.8" y2="51.2" stroke="#1a1a1a" stroke-width="0.9"/>
<line x1="532.5" y1="31.5" x2="532.5" y2="51.2" stroke="#1a1a1a" stroke-width="0.9"/>
<polygon points="530.2,27.9 530.76,29.24 532.2,29.35 531.1,30.29 531.43,31.7 530.2,30.95 528.97,31.7 529.3,30.29 528.2,29.35 529.64,29.24" fill="#111"/>
<polygon points="535.6,27.9 536.16,29.24 537.6,29.35 536.5,30.29 536.83,31.7 535.6,30.95 534.37,31.7 534.7,30.29 533.6,29.35 535.04,29.24" fill="#111"/>
<line x1="560.5" y1="28.3" x2="579.3" y2="28.3" stroke="#1a1a1a" stroke-width="0.9"/>
<line x1="560.5" y1="28.3" x2="560.5" y2="30.5" stroke="#1a1a1a" stroke-width="0.9"/>
<line x1="579.3" y1="28.3" x2="579.3" y2="48" stroke="#1a1a1a" stroke-width="0.9"/>
<polygon points="568.3,23.9 568.86,25.24 570.3,25.35 569.2,26.29 569.53,27.7 568.3,26.95 567.07,27.7 567.4,26.29 566.3,25.35 567.74,25.24" fill="#111"/>
<polygon points="573.7,23.9 574.26,25.24 575.7,25.35 574.6,26.29 574.93,27.7 573.7,26.95 572.47,27.7 572.8,26.29 571.7,25.35 573.14,25.24" fill="#111"/>
<text x="638" y="9.3" font-size="6.6" text-anchor="middle" fill="#222" stroke="#222" stroke-width="0.2" letter-spacing="0.15">Ancestral</text>
<line x1="606.1" y1="11.2" x2="674.1" y2="11.2" stroke="#111" stroke-width="1"/>
<line x1="601.9" y1="11.4" x2="601.9" y2="92.8" stroke="#111" stroke-width="1"/>
<line x1="599.9" y1="92.3" x2="601.9" y2="92.3" stroke="#111" stroke-width="0.9"/>
<text x="598.9" y="94.2" font-size="5.3" text-anchor="end" fill="#333" stroke="#333" stroke-width="0.2">0</text>
<line x1="599.9" y1="76.2" x2="601.9" y2="76.2" stroke="#111" stroke-width="0.9"/>
<text x="598.9" y="78.1" font-size="5.3" text-anchor="end" fill="#333" stroke="#333" stroke-width="0.2">1</text>
<line x1="599.9" y1="60.1" x2="601.9" y2="60.1" stroke="#111" stroke-width="0.9"/>
<text x="598.9" y="62" font-size="5.3" text-anchor="end" fill="#333" stroke="#333" stroke-width="0.2">2</text>
<line x1="599.9" y1="44" x2="601.9" y2="44" stroke="#111" stroke-width="0.9"/>
<text x="598.9" y="45.9" font-size="5.3" text-anchor="end" fill="#333" stroke="#333" stroke-width="0.2">3</text>
<line x1="599.9" y1="27.9" x2="601.9" y2="27.9" stroke="#111" stroke-width="0.9"/>
<text x="598.9" y="29.8" font-size="5.3" text-anchor="end" fill="#333" stroke="#333" stroke-width="0.2">4</text>
<line x1="599.9" y1="11.8" x2="601.9" y2="11.8" stroke="#111" stroke-width="0.9"/>
<text x="598.9" y="13.7" font-size="5.3" text-anchor="end" fill="#333" stroke="#333" stroke-width="0.2">5</text>
<line x1="600.3" y1="87.45" x2="601.9" y2="87.45" stroke="#222" stroke-width="0.5"/>
<line x1="600.3" y1="84.62" x2="601.9" y2="84.62" stroke="#222" stroke-width="0.5"/>
<line x1="600.3" y1="82.61" x2="601.9" y2="82.61" stroke="#222" stroke-width="0.5"/>
<line x1="600.3" y1="81.05" x2="601.9" y2="81.05" stroke="#222" stroke-width="0.5"/>
<line x1="600.3" y1="79.77" x2="601.9" y2="79.77" stroke="#222" stroke-width="0.5"/>
<line x1="600.3" y1="78.69" x2="601.9" y2="78.69" stroke="#222" stroke-width="0.5"/>
<line x1="600.3" y1="77.76" x2="601.9" y2="77.76" stroke="#222" stroke-width="0.5"/>
<line x1="600.3" y1="76.94" x2="601.9" y2="76.94" stroke="#222" stroke-width="0.5"/>
<line x1="600.3" y1="71.35" x2="601.9" y2="71.35" stroke="#222" stroke-width="0.5"/>
<line x1="600.3" y1="68.52" x2="601.9" y2="68.52" stroke="#222" stroke-width="0.5"/>
<line x1="600.3" y1="66.51" x2="601.9" y2="66.51" stroke="#222" stroke-width="0.5"/>
<line x1="600.3" y1="64.95" x2="601.9" y2="64.95" stroke="#222" stroke-width="0.5"/>
<line x1="600.3" y1="63.67" x2="601.9" y2="63.67" stroke="#222" stroke-width="0.5"/>
<line x1="600.3" y1="62.59" x2="601.9" y2="62.59" stroke="#222" stroke-width="0.5"/>
<line x1="600.3" y1="61.66" x2="601.9" y2="61.66" stroke="#222" stroke-width="0.5"/>
<line x1="600.3" y1="60.84" x2="601.9" y2="60.84" stroke="#222" stroke-width="0.5"/>
<line x1="600.3" y1="55.25" x2="601.9" y2="55.25" stroke="#222" stroke-width="0.5"/>
<line x1="600.3" y1="52.42" x2="601.9" y2="52.42" stroke="#222" stroke-width="0.5"/>
<line x1="600.3" y1="50.41" x2="601.9" y2="50.41" stroke="#222" stroke-width="0.5"/>
<line x1="600.3" y1="48.85" x2="601.9" y2="48.85" stroke="#222" stroke-width="0.5"/>
<line x1="600.3" y1="47.57" x2="601.9" y2="47.57" stroke="#222" stroke-width="0.5"/>
<line x1="600.3" y1="46.49" x2="601.9" y2="46.49" stroke="#222" stroke-width="0.5"/>
<line x1="600.3" y1="45.56" x2="601.9" y2="45.56" stroke="#222" stroke-width="0.5"/>
<line x1="600.3" y1="44.74" x2="601.9" y2="44.74" stroke="#222" stroke-width="0.5"/>
<line x1="600.3" y1="39.15" x2="601.9" y2="39.15" stroke="#222" stroke-width="0.5"/>
<line x1="600.3" y1="36.32" x2="601.9" y2="36.32" stroke="#222" stroke-width="0.5"/>
<line x1="600.3" y1="34.31" x2="601.9" y2="34.31" stroke="#222" stroke-width="0.5"/>
<line x1="600.3" y1="32.75" x2="601.9" y2="32.75" stroke="#222" stroke-width="0.5"/>
<line x1="600.3" y1="31.47" x2="601.9" y2="31.47" stroke="#222" stroke-width="0.5"/>
<line x1="600.3" y1="30.39" x2="601.9" y2="30.39" stroke="#222" stroke-width="0.5"/>
<line x1="600.3" y1="29.46" x2="601.9" y2="29.46" stroke="#222" stroke-width="0.5"/>
<line x1="600.3" y1="28.64" x2="601.9" y2="28.64" stroke="#222" stroke-width="0.5"/>
<line x1="600.3" y1="23.05" x2="601.9" y2="23.05" stroke="#222" stroke-width="0.5"/>
<line x1="600.3" y1="20.22" x2="601.9" y2="20.22" stroke="#222" stroke-width="0.5"/>
<line x1="600.3" y1="18.21" x2="601.9" y2="18.21" stroke="#222" stroke-width="0.5"/>
<line x1="600.3" y1="16.65" x2="601.9" y2="16.65" stroke="#222" stroke-width="0.5"/>
<line x1="600.3" y1="15.37" x2="601.9" y2="15.37" stroke="#222" stroke-width="0.5"/>
<line x1="600.3" y1="14.29" x2="601.9" y2="14.29" stroke="#222" stroke-width="0.5"/>
<line x1="600.3" y1="13.36" x2="601.9" y2="13.36" stroke="#222" stroke-width="0.5"/>
<line x1="600.3" y1="12.54" x2="601.9" y2="12.54" stroke="#222" stroke-width="0.5"/>
<text x="591.4" y="51.6" font-size="6.5" text-anchor="middle" fill="#222" stroke="#222" stroke-width="0.2" transform="rotate(-90 591.4 51.6)">NT50 (log10)</text>
<rect x="607.7" y="62.41" width="9.4" height="29.89" fill="#fff" stroke="#f4621f" stroke-width="0.95"/>
<line x1="612.4" y1="57.07" x2="612.4" y2="67.75" stroke="#f4621f" stroke-width="0.9"/>
<line x1="610.2" y1="57.07" x2="614.6" y2="57.07" stroke="#f4621f" stroke-width="0.9"/>
<line x1="610.2" y1="67.75" x2="614.6" y2="67.75" stroke="#f4621f" stroke-width="0.9"/>
<circle cx="608.8" cy="56.72" r="1.9" fill="#f4621f"/>
<circle cx="616" cy="56.72" r="1.9" fill="#f4621f"/>
<circle cx="608.8" cy="62.03" r="1.9" fill="#f4621f"/>
<circle cx="616" cy="62.03" r="1.9" fill="#f4621f"/>
<circle cx="608.8" cy="68.63" r="1.9" fill="#f4621f"/>
<circle cx="616" cy="68.63" r="1.9" fill="#f4621f"/>
<text x="614.7" y="91.1" font-size="6.2" text-anchor="start" fill="#222" stroke="#222" stroke-width="0.1" transform="rotate(-90 614.7 91.1)">71.9</text>
<rect x="622.85" y="61.87" width="9.4" height="30.43" fill="#fff" stroke="#a11a1a" stroke-width="0.95"/>
<line x1="627.55" y1="57.11" x2="627.55" y2="66.63" stroke="#a11a1a" stroke-width="0.9"/>
<line x1="625.35" y1="57.11" x2="629.75" y2="57.11" stroke="#a11a1a" stroke-width="0.9"/>
<line x1="625.35" y1="66.63" x2="629.75" y2="66.63" stroke="#a11a1a" stroke-width="0.9"/>
<circle cx="627.55" cy="52.85" r="1.9" fill="#a11a1a"/>
<circle cx="623.55" cy="63.32" r="1.9" fill="#a11a1a"/>
<circle cx="627.55" cy="63.32" r="1.9" fill="#a11a1a"/>
<circle cx="631.15" cy="60.9" r="1.9" fill="#a11a1a"/>
<circle cx="631.55" cy="64.12" r="1.9" fill="#a11a1a"/>
<circle cx="631.15" cy="66.54" r="1.9" fill="#a11a1a"/>
<text x="629.85" y="91.1" font-size="6.2" text-anchor="start" fill="#222" stroke="#222" stroke-width="0.1" transform="rotate(-90 629.85 91.1)">77.6</text>
<rect x="638" y="32.76" width="9.4" height="59.54" fill="#fff" stroke="#1c1c96" stroke-width="0.95"/>
<line x1="642.7" y1="27.2" x2="642.7" y2="38.32" stroke="#1c1c96" stroke-width="0.9"/>
<line x1="640.5" y1="27.2" x2="644.9" y2="27.2" stroke="#1c1c96" stroke-width="0.9"/>
<line x1="640.5" y1="38.32" x2="644.9" y2="38.32" stroke="#1c1c96" stroke-width="0.9"/>
<circle cx="642.7" cy="26.45" r="1.9" fill="#1c1c96"/>
<circle cx="639.1" cy="29.03" r="1.9" fill="#1c1c96"/>
<circle cx="646.3" cy="30.31" r="1.9" fill="#1c1c96"/>
<circle cx="639.1" cy="32.73" r="1.9" fill="#1c1c96"/>
<circle cx="646.3" cy="34.34" r="1.9" fill="#1c1c96"/>
<circle cx="646.3" cy="42.39" r="1.9" fill="#1c1c96"/>
<text x="645" y="91.1" font-size="6.2" text-anchor="start" fill="#222" stroke="#222" stroke-width="0.1" transform="rotate(-90 645 91.1)">4989.0</text>
<rect x="653.15" y="32.32" width="9.4" height="59.98" fill="#fff" stroke="#1a1aff" stroke-width="0.95"/>
<line x1="657.85" y1="26.13" x2="657.85" y2="38.52" stroke="#1a1aff" stroke-width="0.9"/>
<line x1="655.65" y1="26.13" x2="660.05" y2="26.13" stroke="#1a1aff" stroke-width="0.9"/>
<line x1="655.65" y1="38.52" x2="660.05" y2="38.52" stroke="#1a1aff" stroke-width="0.9"/>
<circle cx="657.85" cy="22.43" r="1.9" fill="#1a1aff"/>
<circle cx="661.45" cy="27.74" r="1.9" fill="#1a1aff"/>
<circle cx="654.25" cy="38.36" r="1.9" fill="#1a1aff"/>
<circle cx="661.45" cy="38.36" r="1.9" fill="#1a1aff"/>
<circle cx="654.25" cy="32.73" r="1.9" fill="#1a1aff"/>
<circle cx="661.45" cy="32.73" r="1.9" fill="#1a1aff"/>
<text x="660.15" y="91.1" font-size="6.2" text-anchor="start" fill="#222" stroke="#222" stroke-width="0.1" transform="rotate(-90 660.15 91.1)">5313.2</text>
<rect x="668.3" y="53.82" width="9.4" height="38.48" fill="#fff" stroke="#6b6b6b" stroke-width="0.95"/>
<line x1="673" y1="46.86" x2="673" y2="60.79" stroke="#6b6b6b" stroke-width="0.9"/>
<line x1="670.8" y1="46.86" x2="675.2" y2="46.86" stroke="#6b6b6b" stroke-width="0.9"/>
<line x1="670.8" y1="60.79" x2="675.2" y2="60.79" stroke="#6b6b6b" stroke-width="0.9"/>
<circle cx="673" cy="42.23" r="1.9" fill="#6b6b6b"/>
<circle cx="669.4" cy="51.57" r="1.9" fill="#6b6b6b"/>
<circle cx="676.6" cy="51.57" r="1.9" fill="#6b6b6b"/>
<circle cx="669.4" cy="55.27" r="1.9" fill="#6b6b6b"/>
<circle cx="669.4" cy="60.74" r="1.9" fill="#6b6b6b"/>
<circle cx="676.6" cy="60.74" r="1.9" fill="#6b6b6b"/>
<text x="675.3" y="91.1" font-size="6.2" text-anchor="start" fill="#222" stroke="#222" stroke-width="0.1" transform="rotate(-90 675.3 91.1)">245.4</text>
<line x1="601.9" y1="92.3" x2="683.9" y2="92.3" stroke="#111" stroke-width="1"/>
<line x1="612.4" y1="92.3" x2="612.4" y2="94.5" stroke="#111" stroke-width="0.8"/>
<text x="614" y="99.6" font-size="5.2" text-anchor="end" fill="#222" stroke="#222" stroke-width="0.1" transform="rotate(-45 614 99.6)">ARVAC JN.1</text>
<line x1="627.55" y1="92.3" x2="627.55" y2="94.5" stroke="#111" stroke-width="0.8"/>
<text x="629.15" y="99.6" font-size="5.2" text-anchor="end" fill="#222" stroke="#222" stroke-width="0.1" transform="rotate(-45 629.15 99.6)">ARVAC XBB.1.5</text>
<line x1="642.7" y1="92.3" x2="642.7" y2="94.5" stroke="#111" stroke-width="0.8"/>
<text x="644.3" y="99.6" font-size="5.2" text-anchor="end" fill="#222" stroke="#222" stroke-width="0.1" transform="rotate(-45 644.3 99.6)">ARVAC Gamma/Omicron BA.4/5</text>
<line x1="657.85" y1="92.3" x2="657.85" y2="94.5" stroke="#111" stroke-width="0.8"/>
<text x="659.45" y="99.6" font-size="5.2" text-anchor="end" fill="#222" stroke="#222" stroke-width="0.1" transform="rotate(-45 659.45 99.6)">ARVAC Gamma/JN.1</text>
<line x1="673" y1="92.3" x2="673" y2="94.5" stroke="#111" stroke-width="0.8"/>
<text x="674.6" y="99.6" font-size="5.2" text-anchor="end" fill="#222" stroke="#222" stroke-width="0.1" transform="rotate(-45 674.6 99.6)">Spikevax XBB.1.5</text>
<line x1="612.1" y1="17.7" x2="658.7" y2="17.7" stroke="#9a9a9a" stroke-width="0.9"/>
<line x1="612.1" y1="17.7" x2="612.1" y2="27.6" stroke="#9a9a9a" stroke-width="0.9"/>
<line x1="658.7" y1="17.7" x2="658.7" y2="20.4" stroke="#9a9a9a" stroke-width="0.9"/>
<line x1="624.2" y1="17.7" x2="624.2" y2="29.6" stroke="#9a9a9a" stroke-width="0.9"/>
<polygon points="631.1,13.1 631.66,14.44 633.1,14.55 632,15.49 632.33,16.9 631.1,16.14 629.87,16.9 630.2,15.49 629.1,14.55 630.54,14.44" fill="#111"/>
<polygon points="636.5,13.1 637.06,14.44 638.5,14.55 637.4,15.49 637.73,16.9 636.5,16.14 635.27,16.9 635.6,15.49 634.5,14.55 635.94,14.44" fill="#111"/>
<line x1="612.7" y1="31.5" x2="642.3" y2="31.5" stroke="#1a1a1a" stroke-width="0.9"/>
<line x1="612.7" y1="31.5" x2="612.7" y2="51.9" stroke="#1a1a1a" stroke-width="0.9"/>
<line x1="627.9" y1="31.5" x2="627.9" y2="52.6" stroke="#1a1a1a" stroke-width="0.9"/>
<polygon points="626.5,27.9 627.06,29.24 628.5,29.35 627.4,30.29 627.73,31.7 626.5,30.95 625.27,31.7 625.6,30.29 624.5,29.35 625.94,29.24" fill="#111"/>
<polygon points="631.9,27.9 632.46,29.24 633.9,29.35 632.8,30.29 633.13,31.7 631.9,30.95 630.67,31.7 631,30.29 629.9,29.35 631.34,29.24" fill="#111"/>
<line x1="658" y1="21" x2="673.8" y2="21" stroke="#1a1a1a" stroke-width="0.9"/>
<line x1="673.8" y1="21" x2="673.8" y2="38.1" stroke="#1a1a1a" stroke-width="0.9"/>
<polygon points="666.6,16.5 667.16,17.84 668.6,17.95 667.5,18.89 667.83,20.3 666.6,19.55 665.37,20.3 665.7,18.89 664.6,17.95 666.04,17.84" fill="#111"/>
<rect x="20.3" y="162.6" width="127" height="101.7" fill="none" stroke="#555" stroke-width="1"/>
<text x="86" y="170.7" font-size="6.8" text-anchor="middle" fill="#111" font-weight="bold" letter-spacing="0.08">ARVAC Monovalent JN.1</text>
<polygon points="84.4,217.81 87.67,219.39 88.48,222.93 86.22,225.77 82.58,225.77 80.32,222.93 81.13,219.39" fill="none" stroke="#555" stroke-width="0.5"/>
<polygon points="84.4,213.62 90.95,216.78 92.57,223.86 88.03,229.55 80.77,229.55 76.23,223.86 77.85,216.78" fill="none" stroke="#555" stroke-width="0.5"/>
<polygon points="84.4,209.44 94.22,214.17 96.65,224.8 89.85,233.32 78.95,233.32 72.15,224.8 74.58,214.17" fill="none" stroke="#555" stroke-width="0.5"/>
<polygon points="84.4,205.25 97.5,211.56 100.73,225.73 91.67,237.09 77.13,237.09 68.07,225.73 71.3,211.56" fill="none" stroke="#555" stroke-width="0.5"/>
<polygon points="84.4,201.06 100.77,208.95 104.81,226.66 93.48,240.86 75.32,240.86 63.99,226.66 68.03,208.95" fill="none" stroke="#555" stroke-width="0.5"/>
<polygon points="84.4,196.88 104.04,206.33 108.9,227.59 95.3,244.64 73.5,244.64 59.9,227.59 64.76,206.33" fill="none" stroke="#555" stroke-width="0.5"/>
<polygon points="84.4,192.69 107.32,203.72 112.98,228.52 97.12,248.41 71.68,248.41 55.82,228.52 61.48,203.72" fill="none" stroke="#555" stroke-width="0.5"/>
<polygon points="84.4,188.5 110.59,201.11 117.06,229.45 98.94,252.18 69.86,252.18 51.74,229.45 58.21,201.11" fill="none" stroke="#555" stroke-width="0.5"/>
<polygon points="84.4,206.45 91.03,216.71 92.97,223.96 93.14,240.16 73.69,244.25 62.86,226.92 62.01,204.15" fill="#e4895a" stroke="#d0703f" stroke-width="0.5"/>
<polygon points="84.4,217.81 87.67,219.39 88.48,222.93 86.22,225.77 82.58,225.77 80.32,222.93 81.13,219.39" fill="none" stroke="#333" stroke-opacity="0.18" stroke-width="0.5"/>
<polygon points="84.4,213.62 90.95,216.78 92.57,223.86 88.03,229.55 80.77,229.55 76.23,223.86 77.85,216.78" fill="none" stroke="#333" stroke-opacity="0.18" stroke-width="0.5"/>
<polygon points="84.4,209.44 94.22,214.17 96.65,224.8 89.85,233.32 78.95,233.32 72.15,224.8 74.58,214.17" fill="none" stroke="#333" stroke-opacity="0.18" stroke-width="0.5"/>
<polygon points="84.4,205.25 97.5,211.56 100.73,225.73 91.67,237.09 77.13,237.09 68.07,225.73 71.3,211.56" fill="none" stroke="#333" stroke-opacity="0.18" stroke-width="0.5"/>
<polygon points="84.4,201.06 100.77,208.95 104.81,226.66 93.48,240.86 75.32,240.86 63.99,226.66 68.03,208.95" fill="none" stroke="#333" stroke-opacity="0.18" stroke-width="0.5"/>
<polygon points="84.4,196.88 104.04,206.33 108.9,227.59 95.3,244.64 73.5,244.64 59.9,227.59 64.76,206.33" fill="none" stroke="#333" stroke-opacity="0.18" stroke-width="0.5"/>
<polygon points="84.4,192.69 107.32,203.72 112.98,228.52 97.12,248.41 71.68,248.41 55.82,228.52 61.48,203.72" fill="none" stroke="#333" stroke-opacity="0.18" stroke-width="0.5"/>
<polygon points="84.4,188.5 110.59,201.11 117.06,229.45 98.94,252.18 69.86,252.18 51.74,229.45 58.21,201.11" fill="none" stroke="#333" stroke-opacity="0.18" stroke-width="0.5"/>
<text transform="translate(80.2 223.8) scale(0.1)" x="0" y="0" font-size="43" text-anchor="end" fill="#444" stroke="#444" stroke-width="1.2">0</text>
<text transform="translate(80.2 219.74) scale(0.1)" x="0" y="0" font-size="43" text-anchor="end" fill="#444" stroke="#444" stroke-width="1.2">0.5</text>
<text transform="translate(80.2 215.68) scale(0.1)" x="0" y="0" font-size="43" text-anchor="end" fill="#444" stroke="#444" stroke-width="1.2">1</text>
<text transform="translate(80.2 211.61) scale(0.1)" x="0" y="0" font-size="43" text-anchor="end" fill="#444" stroke="#444" stroke-width="1.2">1.5</text>
<text transform="translate(80.2 207.55) scale(0.1)" x="0" y="0" font-size="43" text-anchor="end" fill="#444" stroke="#444" stroke-width="1.2">2</text>
<text transform="translate(80.2 203.49) scale(0.1)" x="0" y="0" font-size="43" text-anchor="end" fill="#444" stroke="#444" stroke-width="1.2">2.5</text>
<text transform="translate(80.2 199.43) scale(0.1)" x="0" y="0" font-size="43" text-anchor="end" fill="#444" stroke="#444" stroke-width="1.2">3</text>
<text transform="translate(80.2 195.37) scale(0.1)" x="0" y="0" font-size="43" text-anchor="end" fill="#444" stroke="#444" stroke-width="1.2">3.5</text>
<text transform="translate(80.2 191.31) scale(0.1)" x="0" y="0" font-size="43" text-anchor="end" fill="#444" stroke="#444" stroke-width="1.2">4</text>
<text x="84.9" y="185.6" font-size="6.1" text-anchor="middle" fill="#111" stroke="#111" stroke-width="0.2">Ancestral</text>
<text x="112" y="203.1" font-size="6.1" text-anchor="start" fill="#111" stroke="#111" stroke-width="0.2">Gamma</text>
<text x="118.4" y="231.9" font-size="6.1" text-anchor="start" fill="#111" stroke="#111" stroke-width="0.2">BA.5</text>
<text x="99.9" y="255.3" font-size="6.1" text-anchor="start" fill="#111" stroke="#111" stroke-width="0.2">XBB.1.5</text>
<text x="69.4" y="255.3" font-size="6.1" text-anchor="end" fill="#111" stroke="#111" stroke-width="0.2">JN.1</text>
<text x="50.1" y="231.9" font-size="6.1" text-anchor="end" fill="#111" stroke="#111" stroke-width="0.2">KP.2</text>
<text x="57.4" y="203.1" font-size="6.1" text-anchor="end" fill="#111" stroke="#111" stroke-width="0.2">KP.3</text>
<rect x="149.5" y="162.6" width="127.6" height="101.7" fill="none" stroke="#555" stroke-width="1"/>
<text x="216.3" y="170.7" font-size="6.8" text-anchor="middle" fill="#111" font-weight="bold" letter-spacing="0.08">ARVAC Monovalent&#160;&#160;XBB.1.5</text>
<polygon points="214,217.81 217.27,219.39 218.08,222.93 215.82,225.77 212.18,225.77 209.92,222.93 210.73,219.39" fill="none" stroke="#555" stroke-width="0.5"/>
<polygon points="214,213.62 220.55,216.78 222.17,223.86 217.63,229.55 210.37,229.55 205.83,223.86 207.45,216.78" fill="none" stroke="#555" stroke-width="0.5"/>
<polygon points="214,209.44 223.82,214.17 226.25,224.8 219.45,233.32 208.55,233.32 201.75,224.8 204.18,214.17" fill="none" stroke="#555" stroke-width="0.5"/>
<polygon points="214,205.25 227.1,211.56 230.33,225.73 221.27,237.09 206.73,237.09 197.67,225.73 200.9,211.56" fill="none" stroke="#555" stroke-width="0.5"/>
<polygon points="214,201.06 230.37,208.95 234.41,226.66 223.08,240.86 204.92,240.86 193.59,226.66 197.63,208.95" fill="none" stroke="#555" stroke-width="0.5"/>
<polygon points="214,196.88 233.64,206.33 238.5,227.59 224.9,244.64 203.1,244.64 189.5,227.59 194.36,206.33" fill="none" stroke="#555" stroke-width="0.5"/>
<polygon points="214,192.69 236.92,203.72 242.58,228.52 226.72,248.41 201.28,248.41 185.42,228.52 191.08,203.72" fill="none" stroke="#555" stroke-width="0.5"/>
<polygon points="214,188.5 240.19,201.11 246.66,229.45 228.54,252.18 199.46,252.18 181.34,229.45 187.81,201.11" fill="none" stroke="#555" stroke-width="0.5"/>
<polygon points="214,206.17 222.6,215.14 231.85,226.08 223.65,242.03 205.94,238.73 200.14,225.16 197.81,209.09" fill="#f0606a" stroke="#dd3f4a" stroke-width="0.5"/>
<polygon points="214,217.81 217.27,219.39 218.08,222.93 215.82,225.77 212.18,225.77 209.92,222.93 210.73,219.39" fill="none" stroke="#333" stroke-opacity="0.18" stroke-width="0.5"/>
<polygon points="214,213.62 220.55,216.78 222.17,223.86 217.63,229.55 210.37,229.55 205.83,223.86 207.45,216.78" fill="none" stroke="#333" stroke-opacity="0.18" stroke-width="0.5"/>
<polygon points="214,209.44 223.82,214.17 226.25,224.8 219.45,233.32 208.55,233.32 201.75,224.8 204.18,214.17" fill="none" stroke="#333" stroke-opacity="0.18" stroke-width="0.5"/>
<polygon points="214,205.25 227.1,211.56 230.33,225.73 221.27,237.09 206.73,237.09 197.67,225.73 200.9,211.56" fill="none" stroke="#333" stroke-opacity="0.18" stroke-width="0.5"/>
<polygon points="214,201.06 230.37,208.95 234.41,226.66 223.08,240.86 204.92,240.86 193.59,226.66 197.63,208.95" fill="none" stroke="#333" stroke-opacity="0.18" stroke-width="0.5"/>
<polygon points="214,196.88 233.64,206.33 238.5,227.59 224.9,244.64 203.1,244.64 189.5,227.59 194.36,206.33" fill="none" stroke="#333" stroke-opacity="0.18" stroke-width="0.5"/>
<polygon points="214,192.69 236.92,203.72 242.58,228.52 226.72,248.41 201.28,248.41 185.42,228.52 191.08,203.72" fill="none" stroke="#333" stroke-opacity="0.18" stroke-width="0.5"/>
<polygon points="214,188.5 240.19,201.11 246.66,229.45 228.54,252.18 199.46,252.18 181.34,229.45 187.81,201.11" fill="none" stroke="#333" stroke-opacity="0.18" stroke-width="0.5"/>
<text transform="translate(209.8 223.8) scale(0.1)" x="0" y="0" font-size="43" text-anchor="end" fill="#444" stroke="#444" stroke-width="1.2">0</text>
<text transform="translate(209.8 219.74) scale(0.1)" x="0" y="0" font-size="43" text-anchor="end" fill="#444" stroke="#444" stroke-width="1.2">0.5</text>
<text transform="translate(209.8 215.68) scale(0.1)" x="0" y="0" font-size="43" text-anchor="end" fill="#444" stroke="#444" stroke-width="1.2">1</text>
<text transform="translate(209.8 211.61) scale(0.1)" x="0" y="0" font-size="43" text-anchor="end" fill="#444" stroke="#444" stroke-width="1.2">1.5</text>
<text transform="translate(209.8 207.55) scale(0.1)" x="0" y="0" font-size="43" text-anchor="end" fill="#444" stroke="#444" stroke-width="1.2">2</text>
<text transform="translate(209.8 203.49) scale(0.1)" x="0" y="0" font-size="43" text-anchor="end" fill="#444" stroke="#444" stroke-width="1.2">2.5</text>
<text transform="translate(209.8 199.43) scale(0.1)" x="0" y="0" font-size="43" text-anchor="end" fill="#444" stroke="#444" stroke-width="1.2">3</text>
<text transform="translate(209.8 195.37) scale(0.1)" x="0" y="0" font-size="43" text-anchor="end" fill="#444" stroke="#444" stroke-width="1.2">3.5</text>
<text transform="translate(209.8 191.31) scale(0.1)" x="0" y="0" font-size="43" text-anchor="end" fill="#444" stroke="#444" stroke-width="1.2">4</text>
<text x="214.5" y="185.6" font-size="6.1" text-anchor="middle" fill="#111" stroke="#111" stroke-width="0.2">Ancestral</text>
<text x="241.6" y="203.1" font-size="6.1" text-anchor="start" fill="#111" stroke="#111" stroke-width="0.2">Gamma</text>
<text x="248" y="231.9" font-size="6.1" text-anchor="start" fill="#111" stroke="#111" stroke-width="0.2">BA.5</text>
<text x="229.5" y="255.3" font-size="6.1" text-anchor="start" fill="#111" stroke="#111" stroke-width="0.2">XBB.1.5</text>
<text x="199" y="255.3" font-size="6.1" text-anchor="end" fill="#111" stroke="#111" stroke-width="0.2">JN.1</text>
<text x="179.7" y="231.9" font-size="6.1" text-anchor="end" fill="#111" stroke="#111" stroke-width="0.2">KP.2</text>
<text x="187" y="203.1" font-size="6.1" text-anchor="end" fill="#111" stroke="#111" stroke-width="0.2">KP.3</text>
<rect x="278.4" y="162.6" width="128" height="101.7" fill="none" stroke="#555" stroke-width="1"/>
<text x="344.9" y="170.1" font-size="6.8" text-anchor="middle" fill="#111" font-weight="bold" letter-spacing="0.08">ARVAC Bivalent Gamma/BA.5</text>
<polygon points="342.2,217.81 345.47,219.39 346.28,222.93 344.02,225.77 340.38,225.77 338.12,222.93 338.93,219.39" fill="none" stroke="#555" stroke-width="0.5"/>
<polygon points="342.2,213.62 348.75,216.78 350.37,223.86 345.83,229.55 338.57,229.55 334.03,223.86 335.65,216.78" fill="none" stroke="#555" stroke-width="0.5"/>
<polygon points="342.2,209.44 352.02,214.17 354.45,224.8 347.65,233.32 336.75,233.32 329.95,224.8 332.38,214.17" fill="none" stroke="#555" stroke-width="0.5"/>
<polygon points="342.2,205.25 355.3,211.56 358.53,225.73 349.47,237.09 334.93,237.09 325.87,225.73 329.1,211.56" fill="none" stroke="#555" stroke-width="0.5"/>
<polygon points="342.2,201.06 358.57,208.95 362.61,226.66 351.28,240.86 333.12,240.86 321.79,226.66 325.83,208.95" fill="none" stroke="#555" stroke-width="0.5"/>
<polygon points="342.2,196.88 361.84,206.33 366.7,227.59 353.1,244.64 331.3,244.64 317.7,227.59 322.56,206.33" fill="none" stroke="#555" stroke-width="0.5"/>
<polygon points="342.2,192.69 365.12,203.72 370.78,228.52 354.92,248.41 329.48,248.41 313.62,228.52 319.28,203.72" fill="none" stroke="#555" stroke-width="0.5"/>
<polygon points="342.2,188.5 368.39,201.11 374.86,229.45 356.74,252.18 327.66,252.18 309.54,229.45 316.01,201.11" fill="none" stroke="#555" stroke-width="0.5"/>
<polygon points="342.2,191.03 364.6,204.14 361.86,226.49 347.84,233.72 335.69,235.51 328.53,225.12 327.28,210.1" fill="#5a74a8" stroke="#2a3f80" stroke-width="0.5"/>
<polygon points="342.2,217.81 345.47,219.39 346.28,222.93 344.02,225.77 340.38,225.77 338.12,222.93 338.93,219.39" fill="none" stroke="#333" stroke-opacity="0.18" stroke-width="0.5"/>
<polygon points="342.2,213.62 348.75,216.78 350.37,223.86 345.83,229.55 338.57,229.55 334.03,223.86 335.65,216.78" fill="none" stroke="#333" stroke-opacity="0.18" stroke-width="0.5"/>
<polygon points="342.2,209.44 352.02,214.17 354.45,224.8 347.65,233.32 336.75,233.32 329.95,224.8 332.38,214.17" fill="none" stroke="#333" stroke-opacity="0.18" stroke-width="0.5"/>
<polygon points="342.2,205.25 355.3,211.56 358.53,225.73 349.47,237.09 334.93,237.09 325.87,225.73 329.1,211.56" fill="none" stroke="#333" stroke-opacity="0.18" stroke-width="0.5"/>
<polygon points="342.2,201.06 358.57,208.95 362.61,226.66 351.28,240.86 333.12,240.86 321.79,226.66 325.83,208.95" fill="none" stroke="#333" stroke-opacity="0.18" stroke-width="0.5"/>
<polygon points="342.2,196.88 361.84,206.33 366.7,227.59 353.1,244.64 331.3,244.64 317.7,227.59 322.56,206.33" fill="none" stroke="#333" stroke-opacity="0.18" stroke-width="0.5"/>
<polygon points="342.2,192.69 365.12,203.72 370.78,228.52 354.92,248.41 329.48,248.41 313.62,228.52 319.28,203.72" fill="none" stroke="#333" stroke-opacity="0.18" stroke-width="0.5"/>
<polygon points="342.2,188.5 368.39,201.11 374.86,229.45 356.74,252.18 327.66,252.18 309.54,229.45 316.01,201.11" fill="none" stroke="#333" stroke-opacity="0.18" stroke-width="0.5"/>
<text transform="translate(338 223.8) scale(0.1)" x="0" y="0" font-size="43" text-anchor="end" fill="#444" stroke="#444" stroke-width="1.2">0</text>
<text transform="translate(338 219.74) scale(0.1)" x="0" y="0" font-size="43" text-anchor="end" fill="#444" stroke="#444" stroke-width="1.2">0.5</text>
<text transform="translate(338 215.68) scale(0.1)" x="0" y="0" font-size="43" text-anchor="end" fill="#444" stroke="#444" stroke-width="1.2">1</text>
<text transform="translate(338 211.61) scale(0.1)" x="0" y="0" font-size="43" text-anchor="end" fill="#444" stroke="#444" stroke-width="1.2">1.5</text>
<text transform="translate(338 207.55) scale(0.1)" x="0" y="0" font-size="43" text-anchor="end" fill="#444" stroke="#444" stroke-width="1.2">2</text>
<text transform="translate(338 203.49) scale(0.1)" x="0" y="0" font-size="43" text-anchor="end" fill="#444" stroke="#444" stroke-width="1.2">2.5</text>
<text transform="translate(338 199.43) scale(0.1)" x="0" y="0" font-size="43" text-anchor="end" fill="#444" stroke="#444" stroke-width="1.2">3</text>
<text transform="translate(338 195.37) scale(0.1)" x="0" y="0" font-size="43" text-anchor="end" fill="#444" stroke="#444" stroke-width="1.2">3.5</text>
<text transform="translate(338 191.31) scale(0.1)" x="0" y="0" font-size="43" text-anchor="end" fill="#444" stroke="#444" stroke-width="1.2">4</text>
<text x="342.7" y="185.6" font-size="6.1" text-anchor="middle" fill="#111" stroke="#111" stroke-width="0.2">Ancestral</text>
<text x="369.8" y="203.1" font-size="6.1" text-anchor="start" fill="#111" stroke="#111" stroke-width="0.2">Gamma</text>
<text x="376.2" y="231.9" font-size="6.1" text-anchor="start" fill="#111" stroke="#111" stroke-width="0.2">BA.5</text>
<text x="357.7" y="255.3" font-size="6.1" text-anchor="start" fill="#111" stroke="#111" stroke-width="0.2">XBB.1.5</text>
<text x="327.2" y="255.3" font-size="6.1" text-anchor="end" fill="#111" stroke="#111" stroke-width="0.2">JN.1</text>
<text x="307.9" y="231.9" font-size="6.1" text-anchor="end" fill="#111" stroke="#111" stroke-width="0.2">KP.2</text>
<text x="315.2" y="203.1" font-size="6.1" text-anchor="end" fill="#111" stroke="#111" stroke-width="0.2">KP.3</text>
<rect x="407.4" y="162.6" width="128.1" height="101.7" fill="none" stroke="#555" stroke-width="1"/>
<text x="473.9" y="170.1" font-size="6.8" text-anchor="middle" fill="#111" font-weight="bold" letter-spacing="0.08">ARVAC&#160;&#160;Gamma/JN.1</text>
<polygon points="472.4,217.81 475.67,219.39 476.48,222.93 474.22,225.77 470.58,225.77 468.32,222.93 469.13,219.39" fill="none" stroke="#555" stroke-width="0.5"/>
<polygon points="472.4,213.62 478.95,216.78 480.57,223.86 476.03,229.55 468.77,229.55 464.23,223.86 465.85,216.78" fill="none" stroke="#555" stroke-width="0.5"/>
<polygon points="472.4,209.44 482.22,214.17 484.65,224.8 477.85,233.32 466.95,233.32 460.15,224.8 462.58,214.17" fill="none" stroke="#555" stroke-width="0.5"/>
<polygon points="472.4,205.25 485.5,211.56 488.73,225.73 479.67,237.09 465.13,237.09 456.07,225.73 459.3,211.56" fill="none" stroke="#555" stroke-width="0.5"/>
<polygon points="472.4,201.06 488.77,208.95 492.81,226.66 481.48,240.86 463.32,240.86 451.99,226.66 456.03,208.95" fill="none" stroke="#555" stroke-width="0.5"/>
<polygon points="472.4,196.88 492.04,206.33 496.9,227.59 483.3,244.64 461.5,244.64 447.9,227.59 452.76,206.33" fill="none" stroke="#555" stroke-width="0.5"/>
<polygon points="472.4,192.69 495.32,203.72 500.98,228.52 485.12,248.41 459.68,248.41 443.82,228.52 449.48,203.72" fill="none" stroke="#555" stroke-width="0.5"/>
<polygon points="472.4,188.5 498.59,201.11 505.06,229.45 486.94,252.18 457.86,252.18 439.74,229.45 446.21,201.11" fill="none" stroke="#555" stroke-width="0.5"/>
<polygon points="472.4,190.8 493.35,205.29 488.38,225.65 481.06,239.98 462.68,242.19 453.42,226.33 454.47,207.7" fill="#55a5dc" stroke="#2855a5" stroke-width="0.5"/>
<polygon points="472.4,217.81 475.67,219.39 476.48,222.93 474.22,225.77 470.58,225.77 468.32,222.93 469.13,219.39" fill="none" stroke="#333" stroke-opacity="0.18" stroke-width="0.5"/>
<polygon points="472.4,213.62 478.95,216.78 480.57,223.86 476.03,229.55 468.77,229.55 464.23,223.86 465.85,216.78" fill="none" stroke="#333" stroke-opacity="0.18" stroke-width="0.5"/>
<polygon points="472.4,209.44 482.22,214.17 484.65,224.8 477.85,233.32 466.95,233.32 460.15,224.8 462.58,214.17" fill="none" stroke="#333" stroke-opacity="0.18" stroke-width="0.5"/>
<polygon points="472.4,205.25 485.5,211.56 488.73,225.73 479.67,237.09 465.13,237.09 456.07,225.73 459.3,211.56" fill="none" stroke="#333" stroke-opacity="0.18" stroke-width="0.5"/>
<polygon points="472.4,201.06 488.77,208.95 492.81,226.66 481.48,240.86 463.32,240.86 451.99,226.66 456.03,208.95" fill="none" stroke="#333" stroke-opacity="0.18" stroke-width="0.5"/>
<polygon points="472.4,196.88 492.04,206.33 496.9,227.59 483.3,244.64 461.5,244.64 447.9,227.59 452.76,206.33" fill="none" stroke="#333" stroke-opacity="0.18" stroke-width="0.5"/>
<polygon points="472.4,192.69 495.32,203.72 500.98,228.52 485.12,248.41 459.68,248.41 443.82,228.52 449.48,203.72" fill="none" stroke="#333" stroke-opacity="0.18" stroke-width="0.5"/>
<polygon points="472.4,188.5 498.59,201.11 505.06,229.45 486.94,252.18 457.86,252.18 439.74,229.45 446.21,201.11" fill="none" stroke="#333" stroke-opacity="0.18" stroke-width="0.5"/>
<text transform="translate(468.2 223.8) scale(0.1)" x="0" y="0" font-size="43" text-anchor="end" fill="#444" stroke="#444" stroke-width="1.2">0</text>
<text transform="translate(468.2 219.74) scale(0.1)" x="0" y="0" font-size="43" text-anchor="end" fill="#444" stroke="#444" stroke-width="1.2">0.5</text>
<text transform="translate(468.2 215.68) scale(0.1)" x="0" y="0" font-size="43" text-anchor="end" fill="#444" stroke="#444" stroke-width="1.2">1</text>
<text transform="translate(468.2 211.61) scale(0.1)" x="0" y="0" font-size="43" text-anchor="end" fill="#444" stroke="#444" stroke-width="1.2">1.5</text>
<text transform="translate(468.2 207.55) scale(0.1)" x="0" y="0" font-size="43" text-anchor="end" fill="#444" stroke="#444" stroke-width="1.2">2</text>
<text transform="translate(468.2 203.49) scale(0.1)" x="0" y="0" font-size="43" text-anchor="end" fill="#444" stroke="#444" stroke-width="1.2">2.5</text>
<text transform="translate(468.2 199.43) scale(0.1)" x="0" y="0" font-size="43" text-anchor="end" fill="#444" stroke="#444" stroke-width="1.2">3</text>
<text transform="translate(468.2 195.37) scale(0.1)" x="0" y="0" font-size="43" text-anchor="end" fill="#444" stroke="#444" stroke-width="1.2">3.5</text>
<text transform="translate(468.2 191.31) scale(0.1)" x="0" y="0" font-size="43" text-anchor="end" fill="#444" stroke="#444" stroke-width="1.2">4</text>
<text x="472.9" y="185.6" font-size="6.1" text-anchor="middle" fill="#111" stroke="#111" stroke-width="0.2">Ancestral</text>
<text x="500" y="203.1" font-size="6.1" text-anchor="start" fill="#111" stroke="#111" stroke-width="0.2">Gamma</text>
<text x="506.4" y="231.9" font-size="6.1" text-anchor="start" fill="#111" stroke="#111" stroke-width="0.2">BA.5</text>
<text x="487.9" y="255.3" font-size="6.1" text-anchor="start" fill="#111" stroke="#111" stroke-width="0.2">XBB.1.5</text>
<text x="457.4" y="255.3" font-size="6.1" text-anchor="end" fill="#111" stroke="#111" stroke-width="0.2">JN.1</text>
<text x="438.1" y="231.9" font-size="6.1" text-anchor="end" fill="#111" stroke="#111" stroke-width="0.2">KP.2</text>
<text x="445.4" y="203.1" font-size="6.1" text-anchor="end" fill="#111" stroke="#111" stroke-width="0.2">KP.3</text>
<rect x="536.5" y="162.6" width="128.1" height="101.7" fill="none" stroke="#555" stroke-width="1"/>
<text x="600" y="169.8" font-size="6.8" text-anchor="middle" fill="#111" font-weight="bold" letter-spacing="0.08">Spikevax XBB.1.5</text>
<polygon points="601.2,217.81 604.47,219.39 605.28,222.93 603.02,225.77 599.38,225.77 597.12,222.93 597.93,219.39" fill="none" stroke="#555" stroke-width="0.5"/>
<polygon points="601.2,213.62 607.75,216.78 609.37,223.86 604.83,229.55 597.57,229.55 593.03,223.86 594.65,216.78" fill="none" stroke="#555" stroke-width="0.5"/>
<polygon points="601.2,209.44 611.02,214.17 613.45,224.8 606.65,233.32 595.75,233.32 588.95,224.8 591.38,214.17" fill="none" stroke="#555" stroke-width="0.5"/>
<polygon points="601.2,205.25 614.3,211.56 617.53,225.73 608.47,237.09 593.93,237.09 584.87,225.73 588.1,211.56" fill="none" stroke="#555" stroke-width="0.5"/>
<polygon points="601.2,201.06 617.57,208.95 621.61,226.66 610.28,240.86 592.12,240.86 580.79,226.66 584.83,208.95" fill="none" stroke="#555" stroke-width="0.5"/>
<polygon points="601.2,196.88 620.84,206.33 625.7,227.59 612.1,244.64 590.3,244.64 576.7,227.59 581.56,206.33" fill="none" stroke="#555" stroke-width="0.5"/>
<polygon points="601.2,192.69 624.12,203.72 629.78,228.52 613.92,248.41 588.48,248.41 572.62,228.52 578.28,203.72" fill="none" stroke="#555" stroke-width="0.5"/>
<polygon points="601.2,188.5 627.39,201.11 633.86,229.45 615.74,252.18 586.66,252.18 568.54,229.45 575.01,201.11" fill="none" stroke="#555" stroke-width="0.5"/>
<polygon points="601.2,201.98 614.08,211.73 622.26,226.81 616.58,253.93 594.59,235.72 587.21,225.19 585.5,209.48" fill="#aaacac" stroke="#909090" stroke-width="0.5"/>
<polygon points="601.2,217.81 604.47,219.39 605.28,222.93 603.02,225.77 599.38,225.77 597.12,222.93 597.93,219.39" fill="none" stroke="#333" stroke-opacity="0.18" stroke-width="0.5"/>
<polygon points="601.2,213.62 607.75,216.78 609.37,223.86 604.83,229.55 597.57,229.55 593.03,223.86 594.65,216.78" fill="none" stroke="#333" stroke-opacity="0.18" stroke-width="0.5"/>
<polygon points="601.2,209.44 611.02,214.17 613.45,224.8 606.65,233.32 595.75,233.32 588.95,224.8 591.38,214.17" fill="none" stroke="#333" stroke-opacity="0.18" stroke-width="0.5"/>
<polygon points="601.2,205.25 614.3,211.56 617.53,225.73 608.47,237.09 593.93,237.09 584.87,225.73 588.1,211.56" fill="none" stroke="#333" stroke-opacity="0.18" stroke-width="0.5"/>
<polygon points="601.2,201.06 617.57,208.95 621.61,226.66 610.28,240.86 592.12,240.86 580.79,226.66 584.83,208.95" fill="none" stroke="#333" stroke-opacity="0.18" stroke-width="0.5"/>
<polygon points="601.2,196.88 620.84,206.33 625.7,227.59 612.1,244.64 590.3,244.64 576.7,227.59 581.56,206.33" fill="none" stroke="#333" stroke-opacity="0.18" stroke-width="0.5"/>
<polygon points="601.2,192.69 624.12,203.72 629.78,228.52 613.92,248.41 588.48,248.41 572.62,228.52 578.28,203.72" fill="none" stroke="#333" stroke-opacity="0.18" stroke-width="0.5"/>
<polygon points="601.2,188.5 627.39,201.11 633.86,229.45 615.74,252.18 586.66,252.18 568.54,229.45 575.01,201.11" fill="none" stroke="#333" stroke-opacity="0.18" stroke-width="0.5"/>
<text transform="translate(597 223.8) scale(0.1)" x="0" y="0" font-size="43" text-anchor="end" fill="#444" stroke="#444" stroke-width="1.2">0</text>
<text transform="translate(597 219.74) scale(0.1)" x="0" y="0" font-size="43" text-anchor="end" fill="#444" stroke="#444" stroke-width="1.2">0.5</text>
<text transform="translate(597 215.68) scale(0.1)" x="0" y="0" font-size="43" text-anchor="end" fill="#444" stroke="#444" stroke-width="1.2">1</text>
<text transform="translate(597 211.61) scale(0.1)" x="0" y="0" font-size="43" text-anchor="end" fill="#444" stroke="#444" stroke-width="1.2">1.5</text>
<text transform="translate(597 207.55) scale(0.1)" x="0" y="0" font-size="43" text-anchor="end" fill="#444" stroke="#444" stroke-width="1.2">2</text>
<text transform="translate(597 203.49) scale(0.1)" x="0" y="0" font-size="43" text-anchor="end" fill="#444" stroke="#444" stroke-width="1.2">2.5</text>
<text transform="translate(597 199.43) scale(0.1)" x="0" y="0" font-size="43" text-anchor="end" fill="#444" stroke="#444" stroke-width="1.2">3</text>
<text transform="translate(597 195.37) scale(0.1)" x="0" y="0" font-size="43" text-anchor="end" fill="#444" stroke="#444" stroke-width="1.2">3.5</text>
<text transform="translate(597 191.31) scale(0.1)" x="0" y="0" font-size="43" text-anchor="end" fill="#444" stroke="#444" stroke-width="1.2">4</text>
<text x="601.7" y="185.6" font-size="6.1" text-anchor="middle" fill="#111" stroke="#111" stroke-width="0.2">Ancestral</text>
<text x="628.8" y="203.1" font-size="6.1" text-anchor="start" fill="#111" stroke="#111" stroke-width="0.2">Gamma</text>
<text x="635.2" y="231.9" font-size="6.1" text-anchor="start" fill="#111" stroke="#111" stroke-width="0.2">BA.5</text>
<text x="616.7" y="255.3" font-size="6.1" text-anchor="start" fill="#111" stroke="#111" stroke-width="0.2">XBB.1.5</text>
<text x="586.2" y="255.3" font-size="6.1" text-anchor="end" fill="#111" stroke="#111" stroke-width="0.2">JN.1</text>
<text x="566.9" y="231.9" font-size="6.1" text-anchor="end" fill="#111" stroke="#111" stroke-width="0.2">KP.2</text>
<text x="574.2" y="203.1" font-size="6.1" text-anchor="end" fill="#111" stroke="#111" stroke-width="0.2">KP.3</text>
<text x="75.7" y="289.1" font-size="7.6" font-weight="bold" text-anchor="middle" fill="#111">CD4<tspan font-size="5.8" dy="-2.9">+</tspan><tspan dy="2.9"> IFN-&#947;</tspan><tspan font-size="5.8" dy="-2.9">+</tspan></text>
<text x="16.2" y="331.2" font-size="5.7" text-anchor="middle" fill="#555" stroke="#555" stroke-width="0.1" transform="rotate(-90 16.2 331.2)">CD4<tspan font-size="4" dy="-1.9">+</tspan><tspan dy="1.9"> IFN-&#947;</tspan><tspan font-size="4" dy="-1.9">+</tspan></text>
<text x="24.3" y="331.2" font-size="5.7" text-anchor="middle" fill="#555" stroke="#555" stroke-width="0.1" transform="rotate(-90 24.3 331.2)">(% of CD4+)</text>
<line x1="37.4" y1="292.7" x2="37.4" y2="369.7" stroke="#111" stroke-width="1"/>
<line x1="34.6" y1="369.2" x2="37.4" y2="369.2" stroke="#111" stroke-width="0.9"/>
<text x="33.8" y="371" font-size="5.2" text-anchor="end" fill="#444" stroke="#444" stroke-width="0.1">0</text>
<line x1="34.6" y1="343.83" x2="37.4" y2="343.83" stroke="#111" stroke-width="0.9"/>
<text x="33.8" y="345.63" font-size="5.2" text-anchor="end" fill="#444" stroke="#444" stroke-width="0.1">5</text>
<line x1="34.6" y1="318.47" x2="37.4" y2="318.47" stroke="#111" stroke-width="0.9"/>
<text x="33.8" y="320.27" font-size="5.2" text-anchor="end" fill="#444" stroke="#444" stroke-width="0.1">10</text>
<line x1="34.6" y1="293.1" x2="37.4" y2="293.1" stroke="#111" stroke-width="0.9"/>
<text x="33.8" y="294.9" font-size="5.2" text-anchor="end" fill="#444" stroke="#444" stroke-width="0.1">15</text>
<rect x="41.4" y="367.93" width="8" height="1.27" fill="#fff" stroke="#000000" stroke-width="0.95"/>
<line x1="45.4" y1="367.04" x2="45.4" y2="368.82" stroke="#000000" stroke-width="0.9"/>
<line x1="43.4" y1="367.04" x2="47.4" y2="367.04" stroke="#000000" stroke-width="0.9"/>
<circle cx="45.4" cy="363.11" r="1.8" fill="#000000"/>
<circle cx="42.4" cy="368.19" r="1.8" fill="#000000"/>
<circle cx="48.4" cy="368.69" r="1.8" fill="#000000"/>
<circle cx="42.4" cy="368.44" r="1.8" fill="#000000"/>
<circle cx="48.4" cy="368.69" r="1.8" fill="#000000"/>
<circle cx="45.4" cy="368.19" r="1.8" fill="#000000"/>
<rect x="53.45" y="335.21" width="8" height="33.99" fill="#fff" stroke="#f4621f" stroke-width="0.95"/>
<line x1="57.45" y1="331.27" x2="57.45" y2="339.15" stroke="#f4621f" stroke-width="0.9"/>
<line x1="55.45" y1="331.27" x2="59.45" y2="331.27" stroke="#f4621f" stroke-width="0.9"/>
<circle cx="57.45" cy="317.45" r="1.8" fill="#f4621f"/>
<circle cx="54.45" cy="331.66" r="1.8" fill="#f4621f"/>
<circle cx="60.45" cy="335.21" r="1.8" fill="#f4621f"/>
<circle cx="54.45" cy="335.21" r="1.8" fill="#f4621f"/>
<circle cx="60.45" cy="344.34" r="1.8" fill="#f4621f"/>
<circle cx="57.45" cy="342.82" r="1.8" fill="#f4621f"/>
<rect x="65.5" y="338.76" width="8" height="30.44" fill="#fff" stroke="#a11a1a" stroke-width="0.95"/>
<line x1="69.5" y1="336.49" x2="69.5" y2="341.03" stroke="#a11a1a" stroke-width="0.9"/>
<line x1="67.5" y1="336.49" x2="71.5" y2="336.49" stroke="#a11a1a" stroke-width="0.9"/>
<circle cx="69.5" cy="330.64" r="1.8" fill="#a11a1a"/>
<circle cx="66.5" cy="338.76" r="1.8" fill="#a11a1a"/>
<circle cx="72.5" cy="339.77" r="1.8" fill="#a11a1a"/>
<circle cx="66.5" cy="341.3" r="1.8" fill="#a11a1a"/>
<circle cx="72.5" cy="346.37" r="1.8" fill="#a11a1a"/>
<circle cx="69.5" cy="344.85" r="1.8" fill="#a11a1a"/>
<rect x="77.55" y="354.99" width="8" height="14.21" fill="#fff" stroke="#1c1c96" stroke-width="0.95"/>
<line x1="81.55" y1="353.54" x2="81.55" y2="356.45" stroke="#1c1c96" stroke-width="0.9"/>
<line x1="79.55" y1="353.54" x2="83.55" y2="353.54" stroke="#1c1c96" stroke-width="0.9"/>
<circle cx="81.55" cy="349.41" r="1.8" fill="#1c1c96"/>
<circle cx="78.55" cy="354.99" r="1.8" fill="#1c1c96"/>
<circle cx="84.55" cy="354.99" r="1.8" fill="#1c1c96"/>
<circle cx="78.55" cy="357.53" r="1.8" fill="#1c1c96"/>
<circle cx="84.55" cy="359.05" r="1.8" fill="#1c1c96"/>
<circle cx="81.55" cy="358.55" r="1.8" fill="#1c1c96"/>
<rect x="89.6" y="351.44" width="8" height="17.76" fill="#fff" stroke="#1a1aff" stroke-width="0.95"/>
<line x1="93.6" y1="346.88" x2="93.6" y2="356" stroke="#1a1aff" stroke-width="0.9"/>
<line x1="91.6" y1="346.88" x2="95.6" y2="346.88" stroke="#1a1aff" stroke-width="0.9"/>
<circle cx="93.6" cy="336.73" r="1.8" fill="#1a1aff"/>
<circle cx="90.6" cy="346.37" r="1.8" fill="#1a1aff"/>
<circle cx="96.6" cy="346.37" r="1.8" fill="#1a1aff"/>
<circle cx="90.6" cy="361.08" r="1.8" fill="#1a1aff"/>
<circle cx="96.6" cy="366.66" r="1.8" fill="#1a1aff"/>
<circle cx="93.6" cy="345.36" r="1.8" fill="#1a1aff"/>
<rect x="101.65" y="362.6" width="8" height="6.6" fill="#fff" stroke="#6b6b6b" stroke-width="0.95"/>
<line x1="105.65" y1="359.67" x2="105.65" y2="365.54" stroke="#6b6b6b" stroke-width="0.9"/>
<line x1="103.65" y1="359.67" x2="107.65" y2="359.67" stroke="#6b6b6b" stroke-width="0.9"/>
<circle cx="105.65" cy="349.92" r="1.8" fill="#6b6b6b"/>
<circle cx="102.65" cy="363.11" r="1.8" fill="#6b6b6b"/>
<circle cx="108.65" cy="364.63" r="1.8" fill="#6b6b6b"/>
<circle cx="102.65" cy="367.17" r="1.8" fill="#6b6b6b"/>
<circle cx="108.65" cy="368.69" r="1.8" fill="#6b6b6b"/>
<circle cx="105.65" cy="369.2" r="1.8" fill="#6b6b6b"/>
<line x1="37.4" y1="369.2" x2="114.8" y2="369.2" stroke="#111" stroke-width="1"/>
<line x1="42.5" y1="296.1" x2="93.7" y2="296.1" stroke="#1a1a1a" stroke-width="0.9"/>
<line x1="42.5" y1="296.1" x2="42.5" y2="303" stroke="#1a1a1a" stroke-width="0.9"/>
<line x1="93.7" y1="296.1" x2="93.7" y2="326" stroke="#1a1a1a" stroke-width="0.9"/>
<polygon points="71.4,291.7 71.96,293.04 73.4,293.15 72.3,294.09 72.63,295.5 71.4,294.75 70.17,295.5 70.5,294.09 69.4,293.15 70.84,293.04" fill="#111"/>
<line x1="45.4" y1="305" x2="65.6" y2="305" stroke="#1a1a1a" stroke-width="0.9"/>
<polygon points="47.4,300.2 47.96,301.54 49.4,301.65 48.3,302.59 48.63,304 47.4,303.25 46.17,304 46.5,302.59 45.4,301.65 46.84,301.54" fill="#111"/>
<polygon points="52.8,300.2 53.36,301.54 54.8,301.65 53.7,302.59 54.03,304 52.8,303.25 51.57,304 51.9,302.59 50.8,301.65 52.24,301.54" fill="#111"/>
<polygon points="58.2,300.2 58.76,301.54 60.2,301.65 59.1,302.59 59.43,304 58.2,303.25 56.97,304 57.3,302.59 56.2,301.65 57.64,301.54" fill="#111"/>
<polygon points="63.6,300.2 64.16,301.54 65.6,301.65 64.5,302.59 64.83,304 63.6,303.25 62.37,304 62.7,302.59 61.6,301.65 63.04,301.54" fill="#111"/>
<line x1="45.4" y1="314.7" x2="58.9" y2="314.7" stroke="#1a1a1a" stroke-width="0.9"/>
<polygon points="46.8,309.8 47.36,311.14 48.8,311.25 47.7,312.19 48.03,313.6 46.8,312.84 45.57,313.6 45.9,312.19 44.8,311.25 46.24,311.14" fill="#111"/>
<polygon points="52.2,309.8 52.76,311.14 54.2,311.25 53.1,312.19 53.43,313.6 52.2,312.84 50.97,313.6 51.3,312.19 50.2,311.25 51.64,311.14" fill="#111"/>
<polygon points="57.6,309.8 58.16,311.14 59.6,311.25 58.5,312.19 58.83,313.6 57.6,312.84 56.37,313.6 56.7,312.19 55.6,311.25 57.04,311.14" fill="#111"/>
<text x="182.3" y="289.1" font-size="7.6" font-weight="bold" text-anchor="middle" fill="#111">CD4<tspan font-size="5.8" dy="-2.9">+</tspan><tspan dy="2.9"> TNF-&#945;</tspan><tspan font-size="5.8" dy="-2.9">+</tspan></text>
<text x="123.3" y="331.2" font-size="5.7" text-anchor="middle" fill="#555" stroke="#555" stroke-width="0.1" transform="rotate(-90 123.3 331.2)">CD4<tspan font-size="4" dy="-1.9">+</tspan><tspan dy="1.9">TNF-&#947;</tspan><tspan font-size="4" dy="-1.9">+</tspan></text>
<text x="131.1" y="331.2" font-size="5.7" text-anchor="middle" fill="#555" stroke="#555" stroke-width="0.1" transform="rotate(-90 131.1 331.2)">(% of CD4+)</text>
<line x1="144.3" y1="292.7" x2="144.3" y2="369.4" stroke="#111" stroke-width="1"/>
<line x1="141.5" y1="368.9" x2="144.3" y2="368.9" stroke="#111" stroke-width="0.9"/>
<text x="140.7" y="370.7" font-size="5.2" text-anchor="end" fill="#444" stroke="#444" stroke-width="0.1">0</text>
<line x1="141.5" y1="343.63" x2="144.3" y2="343.63" stroke="#111" stroke-width="0.9"/>
<text x="140.7" y="345.43" font-size="5.2" text-anchor="end" fill="#444" stroke="#444" stroke-width="0.1">5</text>
<line x1="141.5" y1="318.37" x2="144.3" y2="318.37" stroke="#111" stroke-width="0.9"/>
<text x="140.7" y="320.17" font-size="5.2" text-anchor="end" fill="#444" stroke="#444" stroke-width="0.1">10</text>
<line x1="141.5" y1="293.1" x2="144.3" y2="293.1" stroke="#111" stroke-width="0.9"/>
<text x="140.7" y="294.9" font-size="5.2" text-anchor="end" fill="#444" stroke="#444" stroke-width="0.1">15</text>
<rect x="148.3" y="367.89" width="8" height="1.01" fill="#fff" stroke="#000000" stroke-width="0.95"/>
<line x1="152.3" y1="367" x2="152.3" y2="368.78" stroke="#000000" stroke-width="0.9"/>
<line x1="150.3" y1="367" x2="154.3" y2="367" stroke="#000000" stroke-width="0.9"/>
<circle cx="152.3" cy="362.84" r="1.8" fill="#000000"/>
<circle cx="149.3" cy="367.89" r="1.8" fill="#000000"/>
<circle cx="155.3" cy="368.39" r="1.8" fill="#000000"/>
<circle cx="149.3" cy="368.14" r="1.8" fill="#000000"/>
<circle cx="155.3" cy="368.39" r="1.8" fill="#000000"/>
<circle cx="152.3" cy="367.89" r="1.8" fill="#000000"/>
<rect x="160.4" y="332.01" width="8" height="36.89" fill="#fff" stroke="#f4621f" stroke-width="0.95"/>
<line x1="164.4" y1="328.93" x2="164.4" y2="335.09" stroke="#f4621f" stroke-width="0.9"/>
<line x1="162.4" y1="328.93" x2="166.4" y2="328.93" stroke="#f4621f" stroke-width="0.9"/>
<circle cx="164.4" cy="320.89" r="1.8" fill="#f4621f"/>
<circle cx="161.4" cy="332.01" r="1.8" fill="#f4621f"/>
<circle cx="167.4" cy="334.54" r="1.8" fill="#f4621f"/>
<circle cx="161.4" cy="335.55" r="1.8" fill="#f4621f"/>
<circle cx="167.4" cy="342.62" r="1.8" fill="#f4621f"/>
<circle cx="164.4" cy="339.59" r="1.8" fill="#f4621f"/>
<rect x="172.5" y="337.06" width="8" height="31.84" fill="#fff" stroke="#a11a1a" stroke-width="0.95"/>
<line x1="176.5" y1="335.18" x2="176.5" y2="338.95" stroke="#a11a1a" stroke-width="0.9"/>
<line x1="174.5" y1="335.18" x2="178.5" y2="335.18" stroke="#a11a1a" stroke-width="0.9"/>
<circle cx="176.5" cy="330.49" r="1.8" fill="#a11a1a"/>
<circle cx="173.5" cy="336.56" r="1.8" fill="#a11a1a"/>
<circle cx="179.5" cy="337.57" r="1.8" fill="#a11a1a"/>
<circle cx="173.5" cy="338.58" r="1.8" fill="#a11a1a"/>
<circle cx="179.5" cy="344.14" r="1.8" fill="#a11a1a"/>
<circle cx="176.5" cy="341.11" r="1.8" fill="#a11a1a"/>
<rect x="184.6" y="353.74" width="8" height="15.16" fill="#fff" stroke="#1c1c96" stroke-width="0.95"/>
<line x1="188.6" y1="351.32" x2="188.6" y2="356.16" stroke="#1c1c96" stroke-width="0.9"/>
<line x1="186.6" y1="351.32" x2="190.6" y2="351.32" stroke="#1c1c96" stroke-width="0.9"/>
<circle cx="188.6" cy="345.65" r="1.8" fill="#1c1c96"/>
<circle cx="185.6" cy="347.68" r="1.8" fill="#1c1c96"/>
<circle cx="191.6" cy="353.74" r="1.8" fill="#1c1c96"/>
<circle cx="185.6" cy="356.77" r="1.8" fill="#1c1c96"/>
<circle cx="191.6" cy="358.29" r="1.8" fill="#1c1c96"/>
<circle cx="188.6" cy="360.31" r="1.8" fill="#1c1c96"/>
<rect x="196.7" y="350.71" width="8" height="18.19" fill="#fff" stroke="#1a1aff" stroke-width="0.95"/>
<line x1="200.7" y1="345.68" x2="200.7" y2="355.73" stroke="#1a1aff" stroke-width="0.9"/>
<line x1="198.7" y1="345.68" x2="202.7" y2="345.68" stroke="#1a1aff" stroke-width="0.9"/>
<circle cx="200.7" cy="334.54" r="1.8" fill="#1a1aff"/>
<circle cx="197.7" cy="346.67" r="1.8" fill="#1a1aff"/>
<circle cx="203.7" cy="348.69" r="1.8" fill="#1a1aff"/>
<circle cx="197.7" cy="356.77" r="1.8" fill="#1a1aff"/>
<circle cx="203.7" cy="363.34" r="1.8" fill="#1a1aff"/>
<circle cx="200.7" cy="368.39" r="1.8" fill="#1a1aff"/>
<rect x="208.8" y="363.34" width="8" height="5.56" fill="#fff" stroke="#6b6b6b" stroke-width="0.95"/>
<line x1="212.8" y1="360.56" x2="212.8" y2="366.12" stroke="#6b6b6b" stroke-width="0.9"/>
<line x1="210.8" y1="360.56" x2="214.8" y2="360.56" stroke="#6b6b6b" stroke-width="0.9"/>
<circle cx="212.8" cy="349.7" r="1.8" fill="#6b6b6b"/>
<circle cx="209.8" cy="361.32" r="1.8" fill="#6b6b6b"/>
<circle cx="215.8" cy="362.33" r="1.8" fill="#6b6b6b"/>
<circle cx="209.8" cy="365.36" r="1.8" fill="#6b6b6b"/>
<circle cx="215.8" cy="367.38" r="1.8" fill="#6b6b6b"/>
<circle cx="212.8" cy="368.39" r="1.8" fill="#6b6b6b"/>
<line x1="144.3" y1="368.9" x2="219.5" y2="368.9" stroke="#111" stroke-width="1"/>
<line x1="151" y1="304.3" x2="200.9" y2="304.3" stroke="#1a1a1a" stroke-width="0.9"/>
<line x1="151" y1="304.3" x2="151" y2="335.9" stroke="#1a1a1a" stroke-width="0.9"/>
<line x1="200.9" y1="304.3" x2="200.9" y2="313.1" stroke="#1a1a1a" stroke-width="0.9"/>
<polygon points="181,299.4 181.56,300.74 183,300.85 181.9,301.79 182.23,303.2 181,302.44 179.77,303.2 180.1,301.79 179,300.85 180.44,300.74" fill="#111"/>
<line x1="151" y1="310.6" x2="176.2" y2="310.6" stroke="#1a1a1a" stroke-width="0.9"/>
<polygon points="162,306.3 162.56,307.64 164,307.75 162.9,308.69 163.23,310.1 162,309.34 160.77,310.1 161.1,308.69 160,307.75 161.44,307.64" fill="#111"/>
<polygon points="167.4,306.3 167.96,307.64 169.4,307.75 168.3,308.69 168.63,310.1 167.4,309.34 166.17,310.1 166.5,308.69 165.4,307.75 166.84,307.64" fill="#111"/>
<line x1="151" y1="317" x2="165.3" y2="317" stroke="#1a1a1a" stroke-width="0.9"/>
<polygon points="152.6,312.5 153.16,313.84 154.6,313.95 153.5,314.89 153.83,316.3 152.6,315.55 151.37,316.3 151.7,314.89 150.6,313.95 152.04,313.84" fill="#111"/>
<polygon points="158,312.5 158.56,313.84 160,313.95 158.9,314.89 159.23,316.3 158,315.55 156.77,316.3 157.1,314.89 156,313.95 157.44,313.84" fill="#111"/>
<polygon points="163.4,312.5 163.96,313.84 165.4,313.95 164.3,314.89 164.63,316.3 163.4,315.55 162.17,316.3 162.5,314.89 161.4,313.95 162.84,313.84" fill="#111"/>
<text x="303" y="289.1" font-size="7.6" font-weight="bold" text-anchor="middle" fill="#111">CD8<tspan font-size="5.8" dy="-2.9">+</tspan><tspan dy="2.9"> IFN-&#947;</tspan><tspan font-size="5.8" dy="-2.9">+</tspan></text>
<text x="242.6" y="331.2" font-size="5.7" text-anchor="middle" fill="#555" stroke="#555" stroke-width="0.1" transform="rotate(-90 242.6 331.2)">CD8<tspan font-size="4" dy="-1.9">+</tspan><tspan dy="1.9"> IFN-&#947;</tspan><tspan font-size="4" dy="-1.9">+</tspan></text>
<text x="249" y="331.2" font-size="5.7" text-anchor="middle" fill="#555" stroke="#555" stroke-width="0.1" transform="rotate(-90 249 331.2)">(% of CD8+)</text>
<line x1="264.2" y1="292.7" x2="264.2" y2="369.7" stroke="#111" stroke-width="1"/>
<line x1="261.4" y1="369.2" x2="264.2" y2="369.2" stroke="#111" stroke-width="0.9"/>
<text x="260.6" y="371" font-size="5.2" text-anchor="end" fill="#444" stroke="#444" stroke-width="0.1">0.0</text>
<line x1="261.4" y1="353.98" x2="264.2" y2="353.98" stroke="#111" stroke-width="0.9"/>
<text x="260.6" y="355.78" font-size="5.2" text-anchor="end" fill="#444" stroke="#444" stroke-width="0.1">0.2</text>
<line x1="261.4" y1="338.76" x2="264.2" y2="338.76" stroke="#111" stroke-width="0.9"/>
<text x="260.6" y="340.56" font-size="5.2" text-anchor="end" fill="#444" stroke="#444" stroke-width="0.1">0.4</text>
<line x1="261.4" y1="323.54" x2="264.2" y2="323.54" stroke="#111" stroke-width="0.9"/>
<text x="260.6" y="325.34" font-size="5.2" text-anchor="end" fill="#444" stroke="#444" stroke-width="0.1">0.6</text>
<line x1="261.4" y1="308.32" x2="264.2" y2="308.32" stroke="#111" stroke-width="0.9"/>
<text x="260.6" y="310.12" font-size="5.2" text-anchor="end" fill="#444" stroke="#444" stroke-width="0.1">0.8</text>
<line x1="261.4" y1="293.1" x2="264.2" y2="293.1" stroke="#111" stroke-width="0.9"/>
<text x="260.6" y="294.9" font-size="5.2" text-anchor="end" fill="#444" stroke="#444" stroke-width="0.1">1.0</text>
<rect x="269.25" y="361.89" width="7.7" height="7.31" fill="#fff" stroke="#000000" stroke-width="0.95"/>
<line x1="273.1" y1="360.18" x2="273.1" y2="363.61" stroke="#000000" stroke-width="0.9"/>
<line x1="271.1" y1="360.18" x2="275.1" y2="360.18" stroke="#000000" stroke-width="0.9"/>
<circle cx="273.1" cy="354.13" r="1.8" fill="#000000"/>
<circle cx="270.1" cy="357.78" r="1.8" fill="#000000"/>
<circle cx="276.1" cy="360.83" r="1.8" fill="#000000"/>
<circle cx="270.1" cy="361.59" r="1.8" fill="#000000"/>
<circle cx="276.1" cy="363.11" r="1.8" fill="#000000"/>
<circle cx="273.1" cy="366.16" r="1.8" fill="#000000"/>
<rect x="281.2" y="347.89" width="7.7" height="21.31" fill="#fff" stroke="#f4621f" stroke-width="0.95"/>
<line x1="285.05" y1="346.4" x2="285.05" y2="349.38" stroke="#f4621f" stroke-width="0.9"/>
<line x1="283.05" y1="346.4" x2="287.05" y2="346.4" stroke="#f4621f" stroke-width="0.9"/>
<circle cx="285.05" cy="343.33" r="1.8" fill="#f4621f"/>
<circle cx="282.05" cy="347.89" r="1.8" fill="#f4621f"/>
<circle cx="288.05" cy="346.37" r="1.8" fill="#f4621f"/>
<circle cx="282.05" cy="350.18" r="1.8" fill="#f4621f"/>
<circle cx="288.05" cy="353.22" r="1.8" fill="#f4621f"/>
<circle cx="285.05" cy="351.7" r="1.8" fill="#f4621f"/>
<rect x="293.15" y="351.7" width="7.7" height="17.5" fill="#fff" stroke="#a11a1a" stroke-width="0.95"/>
<line x1="297" y1="349.55" x2="297" y2="353.84" stroke="#a11a1a" stroke-width="0.9"/>
<line x1="295" y1="349.55" x2="299" y2="349.55" stroke="#a11a1a" stroke-width="0.9"/>
<circle cx="297" cy="344.85" r="1.8" fill="#a11a1a"/>
<circle cx="294" cy="348.65" r="1.8" fill="#a11a1a"/>
<circle cx="300" cy="350.18" r="1.8" fill="#a11a1a"/>
<circle cx="294" cy="351.7" r="1.8" fill="#a11a1a"/>
<circle cx="300" cy="354.74" r="1.8" fill="#a11a1a"/>
<circle cx="297" cy="360.07" r="1.8" fill="#a11a1a"/>
<rect x="305.1" y="356.42" width="7.7" height="12.78" fill="#fff" stroke="#1c1c96" stroke-width="0.95"/>
<line x1="308.95" y1="355.47" x2="308.95" y2="357.36" stroke="#1c1c96" stroke-width="0.9"/>
<line x1="306.95" y1="355.47" x2="310.95" y2="355.47" stroke="#1c1c96" stroke-width="0.9"/>
<circle cx="308.95" cy="352.46" r="1.8" fill="#1c1c96"/>
<circle cx="305.95" cy="356.26" r="1.8" fill="#1c1c96"/>
<circle cx="311.95" cy="356.26" r="1.8" fill="#1c1c96"/>
<circle cx="305.95" cy="357.78" r="1.8" fill="#1c1c96"/>
<circle cx="311.95" cy="359.31" r="1.8" fill="#1c1c96"/>
<circle cx="308.95" cy="355.5" r="1.8" fill="#1c1c96"/>
<rect x="317.05" y="355.81" width="7.7" height="13.39" fill="#fff" stroke="#1a1aff" stroke-width="0.95"/>
<line x1="320.9" y1="354.2" x2="320.9" y2="357.41" stroke="#1a1aff" stroke-width="0.9"/>
<line x1="318.9" y1="354.2" x2="322.9" y2="354.2" stroke="#1a1aff" stroke-width="0.9"/>
<circle cx="320.9" cy="349.41" r="1.8" fill="#1a1aff"/>
<circle cx="317.9" cy="351.7" r="1.8" fill="#1a1aff"/>
<circle cx="323.9" cy="354.74" r="1.8" fill="#1a1aff"/>
<circle cx="317.9" cy="356.26" r="1.8" fill="#1a1aff"/>
<circle cx="323.9" cy="360.83" r="1.8" fill="#1a1aff"/>
<circle cx="320.9" cy="353.98" r="1.8" fill="#1a1aff"/>
<rect x="329" y="356.26" width="7.7" height="12.94" fill="#fff" stroke="#6b6b6b" stroke-width="0.95"/>
<line x1="332.85" y1="353.86" x2="332.85" y2="358.66" stroke="#6b6b6b" stroke-width="0.9"/>
<line x1="330.85" y1="353.86" x2="334.85" y2="353.86" stroke="#6b6b6b" stroke-width="0.9"/>
<circle cx="332.85" cy="344.09" r="1.8" fill="#6b6b6b"/>
<circle cx="329.85" cy="352.46" r="1.8" fill="#6b6b6b"/>
<circle cx="335.85" cy="356.26" r="1.8" fill="#6b6b6b"/>
<circle cx="329.85" cy="357.78" r="1.8" fill="#6b6b6b"/>
<circle cx="335.85" cy="360.07" r="1.8" fill="#6b6b6b"/>
<circle cx="332.85" cy="358.55" r="1.8" fill="#6b6b6b"/>
<line x1="264.2" y1="369.2" x2="341.2" y2="369.2" stroke="#111" stroke-width="1"/>
<line x1="272.4" y1="321.3" x2="297.3" y2="321.3" stroke="#1a1a1a" stroke-width="0.9"/>
<line x1="272.4" y1="321.3" x2="272.4" y2="349.7" stroke="#1a1a1a" stroke-width="0.9"/>
<line x1="297.3" y1="321.3" x2="297.3" y2="323.5" stroke="#1a1a1a" stroke-width="0.9"/>
<polygon points="285.6,316.7 286.16,318.04 287.6,318.15 286.5,319.09 286.83,320.5 285.6,319.75 284.37,320.5 284.7,319.09 283.6,318.15 285.04,318.04" fill="#111"/>
<line x1="272.4" y1="333.3" x2="287.6" y2="333.3" stroke="#1a1a1a" stroke-width="0.9"/>
<line x1="287.6" y1="333.3" x2="287.6" y2="337.5" stroke="#1a1a1a" stroke-width="0.9"/>
<polygon points="277.2,328.9 277.76,330.24 279.2,330.35 278.1,331.29 278.43,332.7 277.2,331.94 275.97,332.7 276.3,331.29 275.2,330.35 276.64,330.24" fill="#111"/>
<polygon points="282.6,328.9 283.16,330.24 284.6,330.35 283.5,331.29 283.83,332.7 282.6,331.94 281.37,332.7 281.7,331.29 280.6,330.35 282.04,330.24" fill="#111"/>
<text x="414.4" y="289.1" font-size="7.6" font-weight="bold" text-anchor="middle" fill="#111">CD8<tspan font-size="5.8" dy="-2.9">+</tspan><tspan dy="2.9"> TNF-&#945;</tspan><tspan font-size="5.8" dy="-2.9">+</tspan></text>
<text x="353.6" y="331.2" font-size="5.7" text-anchor="middle" fill="#555" stroke="#555" stroke-width="0.1" transform="rotate(-90 353.6 331.2)">CD8<tspan font-size="4" dy="-1.9">+</tspan><tspan dy="1.9">TNF-&#945;</tspan><tspan font-size="4" dy="-1.9">+</tspan></text>
<text x="361.9" y="331.2" font-size="5.7" text-anchor="middle" fill="#555" stroke="#555" stroke-width="0.1" transform="rotate(-90 361.9 331.2)">(% of CD8<tspan font-size="4" dy="-1.9">+</tspan><tspan dy="1.9">)</tspan></text>
<line x1="376.4" y1="292.7" x2="376.4" y2="369.7" stroke="#111" stroke-width="1"/>
<line x1="373.6" y1="369.2" x2="376.4" y2="369.2" stroke="#111" stroke-width="0.9"/>
<text x="372.8" y="371" font-size="5.2" text-anchor="end" fill="#444" stroke="#444" stroke-width="0.1">0.0</text>
<line x1="373.6" y1="353.98" x2="376.4" y2="353.98" stroke="#111" stroke-width="0.9"/>
<text x="372.8" y="355.78" font-size="5.2" text-anchor="end" fill="#444" stroke="#444" stroke-width="0.1">0.2</text>
<line x1="373.6" y1="338.76" x2="376.4" y2="338.76" stroke="#111" stroke-width="0.9"/>
<text x="372.8" y="340.56" font-size="5.2" text-anchor="end" fill="#444" stroke="#444" stroke-width="0.1">0.4</text>
<line x1="373.6" y1="323.54" x2="376.4" y2="323.54" stroke="#111" stroke-width="0.9"/>
<text x="372.8" y="325.34" font-size="5.2" text-anchor="end" fill="#444" stroke="#444" stroke-width="0.1">0.6</text>
<line x1="373.6" y1="308.32" x2="376.4" y2="308.32" stroke="#111" stroke-width="0.9"/>
<text x="372.8" y="310.12" font-size="5.2" text-anchor="end" fill="#444" stroke="#444" stroke-width="0.1">0.8</text>
<line x1="373.6" y1="293.1" x2="376.4" y2="293.1" stroke="#111" stroke-width="0.9"/>
<text x="372.8" y="294.9" font-size="5.2" text-anchor="end" fill="#444" stroke="#444" stroke-width="0.1">1.0</text>
<rect x="380.85" y="362.2" width="7.7" height="7" fill="#fff" stroke="#000000" stroke-width="0.95"/>
<line x1="384.7" y1="360.75" x2="384.7" y2="363.65" stroke="#000000" stroke-width="0.9"/>
<line x1="382.7" y1="360.75" x2="386.7" y2="360.75" stroke="#000000" stroke-width="0.9"/>
<circle cx="387.7" cy="358.09" r="1.8" fill="#000000"/>
<circle cx="381.7" cy="360.98" r="1.8" fill="#000000"/>
<circle cx="386.7" cy="361.59" r="1.8" fill="#000000"/>
<circle cx="384.7" cy="363.34" r="1.8" fill="#000000"/>
<circle cx="384.7" cy="368.59" r="1.8" fill="#000000"/>
<circle cx="383.7" cy="360.83" r="1.8" fill="#000000"/>
<rect x="392.89" y="360.98" width="7.7" height="8.22" fill="#fff" stroke="#f4621f" stroke-width="0.95"/>
<line x1="396.74" y1="359.09" x2="396.74" y2="362.87" stroke="#f4621f" stroke-width="0.9"/>
<line x1="394.74" y1="359.09" x2="398.74" y2="359.09" stroke="#f4621f" stroke-width="0.9"/>
<circle cx="393.74" cy="356.26" r="1.8" fill="#f4621f"/>
<circle cx="399.74" cy="356.26" r="1.8" fill="#f4621f"/>
<circle cx="396.74" cy="359.31" r="1.8" fill="#f4621f"/>
<circle cx="396.74" cy="362.2" r="1.8" fill="#f4621f"/>
<circle cx="396.74" cy="368.06" r="1.8" fill="#f4621f"/>
<circle cx="396.74" cy="363.87" r="1.8" fill="#f4621f"/>
<rect x="404.93" y="359.31" width="7.7" height="9.89" fill="#fff" stroke="#a11a1a" stroke-width="0.95"/>
<line x1="408.78" y1="358.06" x2="408.78" y2="360.56" stroke="#a11a1a" stroke-width="0.9"/>
<line x1="406.78" y1="358.06" x2="410.78" y2="358.06" stroke="#a11a1a" stroke-width="0.9"/>
<circle cx="411.28" cy="354.74" r="1.8" fill="#a11a1a"/>
<circle cx="406.28" cy="357.48" r="1.8" fill="#a11a1a"/>
<circle cx="408.78" cy="358.09" r="1.8" fill="#a11a1a"/>
<circle cx="405.78" cy="360.98" r="1.8" fill="#a11a1a"/>
<circle cx="408.78" cy="362.35" r="1.8" fill="#a11a1a"/>
<circle cx="411.78" cy="362.35" r="1.8" fill="#a11a1a"/>
<rect x="416.97" y="358.93" width="7.7" height="10.27" fill="#fff" stroke="#1c1c96" stroke-width="0.95"/>
<line x1="420.82" y1="356.79" x2="420.82" y2="361.06" stroke="#1c1c96" stroke-width="0.9"/>
<line x1="418.82" y1="356.79" x2="422.82" y2="356.79" stroke="#1c1c96" stroke-width="0.9"/>
<circle cx="420.82" cy="353.22" r="1.8" fill="#1c1c96"/>
<circle cx="417.82" cy="355.73" r="1.8" fill="#1c1c96"/>
<circle cx="423.82" cy="355.73" r="1.8" fill="#1c1c96"/>
<circle cx="420.82" cy="358.7" r="1.8" fill="#1c1c96"/>
<circle cx="420.82" cy="363.34" r="1.8" fill="#1c1c96"/>
<circle cx="420.82" cy="366.92" r="1.8" fill="#1c1c96"/>
<rect x="429.01" y="361.06" width="7.7" height="8.14" fill="#fff" stroke="#1a1aff" stroke-width="0.95"/>
<line x1="432.86" y1="358.75" x2="432.86" y2="363.36" stroke="#1a1aff" stroke-width="0.9"/>
<line x1="430.86" y1="358.75" x2="434.86" y2="358.75" stroke="#1a1aff" stroke-width="0.9"/>
<circle cx="432.86" cy="353.22" r="1.8" fill="#1a1aff"/>
<circle cx="430.36" cy="358.09" r="1.8" fill="#1a1aff"/>
<circle cx="435.36" cy="358.7" r="1.8" fill="#1a1aff"/>
<circle cx="432.86" cy="362.2" r="1.8" fill="#1a1aff"/>
<circle cx="432.86" cy="365.09" r="1.8" fill="#1a1aff"/>
<circle cx="432.86" cy="369.2" r="1.8" fill="#1a1aff"/>
<rect x="441.05" y="358.7" width="7.7" height="10.5" fill="#fff" stroke="#6b6b6b" stroke-width="0.95"/>
<line x1="444.9" y1="356.85" x2="444.9" y2="360.54" stroke="#6b6b6b" stroke-width="0.9"/>
<line x1="442.9" y1="356.85" x2="446.9" y2="356.85" stroke="#6b6b6b" stroke-width="0.9"/>
<circle cx="441.9" cy="355.12" r="1.8" fill="#6b6b6b"/>
<circle cx="447.9" cy="355.12" r="1.8" fill="#6b6b6b"/>
<circle cx="444.9" cy="358.7" r="1.8" fill="#6b6b6b"/>
<circle cx="444.9" cy="361.59" r="1.8" fill="#6b6b6b"/>
<circle cx="444.9" cy="366.31" r="1.8" fill="#6b6b6b"/>
<circle cx="444.9" cy="355.5" r="1.8" fill="#6b6b6b"/>
<line x1="376.4" y1="369.2" x2="452.5" y2="369.2" stroke="#111" stroke-width="1"/>
<text x="536.8" y="276.9" font-size="7.6" text-anchor="middle" fill="#111" font-weight="bold">IL-5</text>
<text x="536.6" y="284.9" font-size="5.5" text-anchor="middle" fill="#111" font-weight="bold">splenocytes</text>
<text x="479.3" y="331.5" font-size="5.5" text-anchor="middle" fill="#555" stroke="#555" stroke-width="0.1" transform="rotate(-90 479.3 331.5)">IL-5 pg/ml</text>
<line x1="498.4" y1="292.6" x2="498.4" y2="369.6" stroke="#111" stroke-width="1"/>
<line x1="495.6" y1="369.1" x2="498.4" y2="369.1" stroke="#111" stroke-width="0.9"/>
<text x="494.8" y="370.9" font-size="5.2" text-anchor="end" fill="#444" stroke="#444" stroke-width="0.1">0</text>
<line x1="495.6" y1="350.08" x2="498.4" y2="350.08" stroke="#111" stroke-width="0.9"/>
<text x="494.8" y="351.88" font-size="5.2" text-anchor="end" fill="#444" stroke="#444" stroke-width="0.1">1000</text>
<line x1="495.6" y1="331.05" x2="498.4" y2="331.05" stroke="#111" stroke-width="0.9"/>
<text x="494.8" y="332.85" font-size="5.2" text-anchor="end" fill="#444" stroke="#444" stroke-width="0.1">2000</text>
<line x1="495.6" y1="312.02" x2="498.4" y2="312.02" stroke="#111" stroke-width="0.9"/>
<text x="494.8" y="313.82" font-size="5.2" text-anchor="end" fill="#444" stroke="#444" stroke-width="0.1">3000</text>
<line x1="495.6" y1="293" x2="498.4" y2="293" stroke="#111" stroke-width="0.9"/>
<text x="494.8" y="294.8" font-size="5.2" text-anchor="end" fill="#444" stroke="#444" stroke-width="0.1">4000</text>
<circle cx="503.4" cy="369.1" r="1.8" fill="#000000"/>
<circle cx="504.9" cy="369.1" r="1.8" fill="#000000"/>
<circle cx="506.4" cy="369.1" r="1.8" fill="#000000"/>
<circle cx="507.9" cy="369.1" r="1.8" fill="#000000"/>
<circle cx="509.4" cy="369.1" r="1.8" fill="#000000"/>
<circle cx="510.4" cy="369.1" r="1.8" fill="#000000"/>
<rect x="515.25" y="344.6" width="7.6" height="24.5" fill="#fff" stroke="#f4621f" stroke-width="0.95"/>
<line x1="519.05" y1="339.22" x2="519.05" y2="349.97" stroke="#f4621f" stroke-width="0.9"/>
<line x1="517.05" y1="339.22" x2="521.05" y2="339.22" stroke="#f4621f" stroke-width="0.9"/>
<circle cx="516.05" cy="332.31" r="1.8" fill="#f4621f"/>
<circle cx="522.05" cy="332.31" r="1.8" fill="#f4621f"/>
<circle cx="519.05" cy="344.37" r="1.8" fill="#f4621f"/>
<circle cx="516.05" cy="345.89" r="1.8" fill="#f4621f"/>
<circle cx="522.05" cy="349.12" r="1.8" fill="#f4621f"/>
<circle cx="519.05" cy="367.96" r="1.8" fill="#f4621f"/>
<rect x="527.4" y="347.79" width="7.6" height="21.31" fill="#fff" stroke="#a11a1a" stroke-width="0.95"/>
<line x1="531.2" y1="339.89" x2="531.2" y2="355.69" stroke="#a11a1a" stroke-width="0.9"/>
<line x1="529.2" y1="339.89" x2="533.2" y2="339.89" stroke="#a11a1a" stroke-width="0.9"/>
<circle cx="531.2" cy="315.83" r="1.8" fill="#a11a1a"/>
<circle cx="531.2" cy="333.71" r="1.8" fill="#a11a1a"/>
<circle cx="528.2" cy="348.17" r="1.8" fill="#a11a1a"/>
<circle cx="534.2" cy="349.12" r="1.8" fill="#a11a1a"/>
<circle cx="531.2" cy="362.25" r="1.8" fill="#a11a1a"/>
<circle cx="531.2" cy="369.1" r="1.8" fill="#a11a1a"/>
<rect x="539.55" y="348.5" width="7.6" height="20.6" fill="#fff" stroke="#1c1c96" stroke-width="0.95"/>
<line x1="543.35" y1="342.92" x2="543.35" y2="354.07" stroke="#1c1c96" stroke-width="0.9"/>
<line x1="541.35" y1="342.92" x2="545.35" y2="342.92" stroke="#1c1c96" stroke-width="0.9"/>
<circle cx="543.35" cy="329.53" r="1.8" fill="#1c1c96"/>
<circle cx="546.35" cy="342.47" r="1.8" fill="#1c1c96"/>
<circle cx="540.35" cy="344.37" r="1.8" fill="#1c1c96"/>
<circle cx="543.35" cy="349.12" r="1.8" fill="#1c1c96"/>
<circle cx="543.35" cy="358.26" r="1.8" fill="#1c1c96"/>
<circle cx="543.35" cy="369.1" r="1.8" fill="#1c1c96"/>
<rect x="551.7" y="331.39" width="7.6" height="37.71" fill="#fff" stroke="#1a1aff" stroke-width="0.95"/>
<line x1="555.5" y1="323.06" x2="555.5" y2="339.73" stroke="#1a1aff" stroke-width="0.9"/>
<line x1="553.5" y1="323.06" x2="557.5" y2="323.06" stroke="#1a1aff" stroke-width="0.9"/>
<circle cx="555.5" cy="309.36" r="1.8" fill="#1a1aff"/>
<circle cx="555.5" cy="317.73" r="1.8" fill="#1a1aff"/>
<circle cx="555.5" cy="320.21" r="1.8" fill="#1a1aff"/>
<circle cx="555.5" cy="334.38" r="1.8" fill="#1a1aff"/>
<circle cx="555.5" cy="367.2" r="1.8" fill="#1a1aff"/>
<circle cx="555.5" cy="332.95" r="1.8" fill="#1a1aff"/>
<rect x="563.85" y="353.59" width="7.6" height="15.51" fill="#fff" stroke="#6b6b6b" stroke-width="0.95"/>
<line x1="567.65" y1="347.84" x2="567.65" y2="359.35" stroke="#6b6b6b" stroke-width="0.9"/>
<line x1="565.65" y1="347.84" x2="569.65" y2="347.84" stroke="#6b6b6b" stroke-width="0.9"/>
<circle cx="567.65" cy="325.34" r="1.8" fill="#6b6b6b"/>
<circle cx="567.65" cy="351.98" r="1.8" fill="#6b6b6b"/>
<circle cx="565.15" cy="357.69" r="1.8" fill="#6b6b6b"/>
<circle cx="570.15" cy="361.11" r="1.8" fill="#6b6b6b"/>
<circle cx="565.15" cy="362.82" r="1.8" fill="#6b6b6b"/>
<circle cx="568.65" cy="359.59" r="1.8" fill="#6b6b6b"/>
<line x1="498.4" y1="369.1" x2="575" y2="369.1" stroke="#111" stroke-width="1"/>
<line x1="507.3" y1="295.2" x2="569.2" y2="295.2" stroke="#1a1a1a" stroke-width="0.9"/>
<line x1="507.3" y1="295.2" x2="507.3" y2="337" stroke="#1a1a1a" stroke-width="0.9"/>
<line x1="569.2" y1="295.2" x2="569.2" y2="298.8" stroke="#1a1a1a" stroke-width="0.9"/>
<polygon points="540.6,290.7 541.16,292.04 542.6,292.15 541.5,293.09 541.83,294.5 540.6,293.75 539.37,294.5 539.7,293.09 538.6,292.15 540.04,292.04" fill="#111"/>
<line x1="507.3" y1="303" x2="554.5" y2="303" stroke="#1a1a1a" stroke-width="0.9"/>
<line x1="554.5" y1="303" x2="554.5" y2="306.2" stroke="#1a1a1a" stroke-width="0.9"/>
<polygon points="527.1,298.5 527.66,299.84 529.1,299.95 528,300.89 528.33,302.3 527.1,301.55 525.87,302.3 526.2,300.89 525.1,299.95 526.54,299.84" fill="#111"/>
<polygon points="532.5,298.5 533.06,299.84 534.5,299.95 533.4,300.89 533.73,302.3 532.5,301.55 531.27,302.3 531.6,300.89 530.5,299.95 531.94,299.84" fill="#111"/>
<polygon points="537.9,298.5 538.46,299.84 539.9,299.95 538.8,300.89 539.13,302.3 537.9,301.55 536.67,302.3 537,300.89 535.9,299.95 537.34,299.84" fill="#111"/>
<line x1="507.3" y1="309.2" x2="543.6" y2="309.2" stroke="#1a1a1a" stroke-width="0.9"/>
<line x1="518.3" y1="309.2" x2="518.3" y2="317.4" stroke="#1a1a1a" stroke-width="0.9"/>
<line x1="530.9" y1="309.2" x2="530.9" y2="315.5" stroke="#1a1a1a" stroke-width="0.9"/>
<line x1="543.6" y1="309.2" x2="543.6" y2="317.4" stroke="#1a1a1a" stroke-width="0.9"/>
<polygon points="521.8,305.2 522.36,306.54 523.8,306.65 522.7,307.59 523.03,309 521.8,308.25 520.57,309 520.9,307.59 519.8,306.65 521.24,306.54" fill="#111"/>
<circle cx="587.8" cy="298" r="1.9" fill="#000000"/>
<text x="596.2" y="300" font-size="5.8" text-anchor="start" fill="#333" stroke="#333" stroke-width="0.2">Placebo</text>
<circle cx="587.8" cy="307.7" r="1.9" fill="#f4621f"/>
<text x="596.2" y="309.7" font-size="5.8" text-anchor="start" fill="#333" stroke="#333" stroke-width="0.2">ARVAC JN.1</text>
<circle cx="587.8" cy="317.4" r="1.9" fill="#a11a1a"/>
<text x="596.2" y="319.4" font-size="5.8" text-anchor="start" fill="#333" stroke="#333" stroke-width="0.2">ARVAC XBB.1.5</text>
<circle cx="587.8" cy="327.1" r="1.9" fill="#1c1c96"/>
<text x="596.2" y="329.1" font-size="5.8" text-anchor="start" fill="#333" stroke="#333" stroke-width="0.2">ARVAC Gamma/Omicron BA.4/5</text>
<circle cx="587.8" cy="336.8" r="1.9" fill="#1a1aff"/>
<text x="596.2" y="338.8" font-size="5.8" text-anchor="start" fill="#333" stroke="#333" stroke-width="0.2">ARVAC Gamma/JN.1</text>
<circle cx="587.8" cy="346.5" r="1.9" fill="#6b6b6b"/>
<text x="596.2" y="348.5" font-size="5.8" text-anchor="start" fill="#333" stroke="#333" stroke-width="0.2">Spikevax XBB.1.5</text>
<text x="85.7" y="397.6" font-size="7.7" text-anchor="middle" fill="#111" font-weight="bold">IFN-&#947;</text>
<text x="85.7" y="405.1" font-size="5.4" text-anchor="middle" fill="#111" font-weight="bold">Lung cells</text>
<text x="24.8" y="452" font-size="5.5" text-anchor="middle" fill="#555" stroke="#555" stroke-width="0.1" transform="rotate(-90 24.8 452)">IFN-&#947; pg/ml</text>
<line x1="47.4" y1="413.5" x2="47.4" y2="490.4" stroke="#111" stroke-width="1"/>
<line x1="44.6" y1="489.9" x2="47.4" y2="489.9" stroke="#111" stroke-width="0.9"/>
<text x="43.8" y="491.7" font-size="5.2" text-anchor="end" fill="#444" stroke="#444" stroke-width="0.1">0</text>
<line x1="44.6" y1="464.57" x2="47.4" y2="464.57" stroke="#111" stroke-width="0.9"/>
<text x="43.8" y="466.37" font-size="5.2" text-anchor="end" fill="#444" stroke="#444" stroke-width="0.1">5000</text>
<line x1="44.6" y1="439.23" x2="47.4" y2="439.23" stroke="#111" stroke-width="0.9"/>
<text x="43.8" y="441.03" font-size="5.2" text-anchor="end" fill="#444" stroke="#444" stroke-width="0.1">10000</text>
<line x1="44.6" y1="413.9" x2="47.4" y2="413.9" stroke="#111" stroke-width="0.9"/>
<text x="43.8" y="415.7" font-size="5.2" text-anchor="end" fill="#444" stroke="#444" stroke-width="0.1">15000</text>
<circle cx="52" cy="485.85" r="1.8" fill="#000000"/>
<circle cx="55" cy="484.33" r="1.8" fill="#000000"/>
<circle cx="58" cy="485.85" r="1.8" fill="#000000"/>
<circle cx="53.5" cy="487.62" r="1.8" fill="#000000"/>
<circle cx="56.5" cy="486.35" r="1.8" fill="#000000"/>
<circle cx="55" cy="484.83" r="1.8" fill="#000000"/>
<rect x="63.25" y="476.6" width="7.8" height="13.3" fill="#fff" stroke="#f4621f" stroke-width="0.95"/>
<line x1="67.15" y1="472.61" x2="67.15" y2="480.59" stroke="#f4621f" stroke-width="0.9"/>
<line x1="65.15" y1="472.61" x2="69.15" y2="472.61" stroke="#f4621f" stroke-width="0.9"/>
<circle cx="67.15" cy="456.31" r="1.8" fill="#f4621f"/>
<circle cx="67.15" cy="468.11" r="1.8" fill="#f4621f"/>
<circle cx="64.15" cy="475.36" r="1.8" fill="#f4621f"/>
<circle cx="70.15" cy="476.73" r="1.8" fill="#f4621f"/>
<circle cx="64.15" cy="480.78" r="1.8" fill="#f4621f"/>
<circle cx="70.15" cy="482.81" r="1.8" fill="#f4621f"/>
<rect x="75.4" y="484.83" width="7.8" height="5.07" fill="#fff" stroke="#a11a1a" stroke-width="0.95"/>
<line x1="79.3" y1="484.76" x2="79.3" y2="484.9" stroke="#a11a1a" stroke-width="0.9"/>
<line x1="77.3" y1="484.76" x2="81.3" y2="484.76" stroke="#a11a1a" stroke-width="0.9"/>
<circle cx="79.3" cy="484.83" r="1.8" fill="#a11a1a"/>
<circle cx="79.3" cy="484.58" r="1.8" fill="#a11a1a"/>
<circle cx="76.3" cy="485.09" r="1.8" fill="#a11a1a"/>
<circle cx="82.3" cy="484.83" r="1.8" fill="#a11a1a"/>
<circle cx="76.3" cy="484.93" r="1.8" fill="#a11a1a"/>
<circle cx="82.3" cy="484.73" r="1.8" fill="#a11a1a"/>
<rect x="87.55" y="472.67" width="7.8" height="17.23" fill="#fff" stroke="#1c1c96" stroke-width="0.95"/>
<line x1="91.45" y1="464.94" x2="91.45" y2="480.4" stroke="#1c1c96" stroke-width="0.9"/>
<line x1="89.45" y1="464.94" x2="93.45" y2="464.94" stroke="#1c1c96" stroke-width="0.9"/>
<circle cx="91.45" cy="434.67" r="1.8" fill="#1c1c96"/>
<circle cx="91.45" cy="465.83" r="1.8" fill="#1c1c96"/>
<circle cx="88.45" cy="478.91" r="1.8" fill="#1c1c96"/>
<circle cx="94.45" cy="479.26" r="1.8" fill="#1c1c96"/>
<circle cx="88.45" cy="483.31" r="1.8" fill="#1c1c96"/>
<circle cx="94.45" cy="483.82" r="1.8" fill="#1c1c96"/>
<rect x="99.7" y="476.22" width="7.8" height="13.68" fill="#fff" stroke="#1a1aff" stroke-width="0.95"/>
<line x1="103.6" y1="471.7" x2="103.6" y2="480.74" stroke="#1a1aff" stroke-width="0.9"/>
<line x1="101.6" y1="471.7" x2="105.6" y2="471.7" stroke="#1a1aff" stroke-width="0.9"/>
<circle cx="103.6" cy="456.31" r="1.8" fill="#1a1aff"/>
<circle cx="103.6" cy="468.11" r="1.8" fill="#1a1aff"/>
<circle cx="100.6" cy="480.78" r="1.8" fill="#1a1aff"/>
<circle cx="106.6" cy="481.79" r="1.8" fill="#1a1aff"/>
<circle cx="100.6" cy="483.82" r="1.8" fill="#1a1aff"/>
<circle cx="106.6" cy="482.81" r="1.8" fill="#1a1aff"/>
<rect x="111.85" y="473.94" width="7.8" height="15.96" fill="#fff" stroke="#6b6b6b" stroke-width="0.95"/>
<line x1="115.75" y1="470.09" x2="115.75" y2="477.79" stroke="#6b6b6b" stroke-width="0.9"/>
<line x1="113.75" y1="470.09" x2="117.75" y2="470.09" stroke="#6b6b6b" stroke-width="0.9"/>
<circle cx="115.75" cy="456.97" r="1.8" fill="#6b6b6b"/>
<circle cx="115.75" cy="465.58" r="1.8" fill="#6b6b6b"/>
<circle cx="112.75" cy="473.18" r="1.8" fill="#6b6b6b"/>
<circle cx="118.75" cy="477.23" r="1.8" fill="#6b6b6b"/>
<circle cx="112.75" cy="479.26" r="1.8" fill="#6b6b6b"/>
<circle cx="118.75" cy="481.79" r="1.8" fill="#6b6b6b"/>
<line x1="47.4" y1="489.9" x2="122" y2="489.9" stroke="#111" stroke-width="1"/>
<line x1="55.6" y1="414.3" x2="115.6" y2="414.3" stroke="#1a1a1a" stroke-width="0.9"/>
<line x1="55.6" y1="414.3" x2="55.6" y2="461.3" stroke="#1a1a1a" stroke-width="0.9"/>
<line x1="115.6" y1="414.3" x2="115.6" y2="433.8" stroke="#1a1a1a" stroke-width="0.9"/>
<polygon points="85.5,409.9 86.06,411.24 87.5,411.35 86.4,412.29 86.73,413.7 85.5,412.94 84.27,413.7 84.6,412.29 83.5,411.35 84.94,411.24" fill="#111"/>
<polygon points="90.9,409.9 91.46,411.24 92.9,411.35 91.8,412.29 92.13,413.7 90.9,412.94 89.67,413.7 90,412.29 88.9,411.35 90.34,411.24" fill="#111"/>
<line x1="55.6" y1="422.4" x2="104.2" y2="422.4" stroke="#1a1a1a" stroke-width="0.9"/>
<line x1="104.2" y1="422.4" x2="104.2" y2="433.8" stroke="#1a1a1a" stroke-width="0.9"/>
<line x1="92.7" y1="422.4" x2="92.7" y2="435" stroke="#1a1a1a" stroke-width="0.9"/>
<polygon points="72.8,417.7 73.36,419.04 74.8,419.15 73.7,420.09 74.03,421.5 72.8,420.75 71.57,421.5 71.9,420.09 70.8,419.15 72.24,419.04" fill="#111"/>
<line x1="55.6" y1="430.8" x2="66.4" y2="430.8" stroke="#1a1a1a" stroke-width="0.9"/>
<polygon points="60.7,426.2 61.26,427.54 62.7,427.65 61.6,428.59 61.93,430 60.7,429.25 59.47,430 59.8,428.59 58.7,427.65 60.14,427.54" fill="#111"/>
<text x="200" y="397.6" font-size="7.7" text-anchor="middle" fill="#111" font-weight="bold">TNF-&#945;</text>
<text x="200" y="405.1" font-size="5.4" text-anchor="middle" fill="#111" font-weight="bold">Lung cells</text>
<text x="141" y="451.7" font-size="5.5" text-anchor="middle" fill="#555" stroke="#555" stroke-width="0.1" transform="rotate(-90 141 451.7)">TNF-&#945; pg/ml</text>
<line x1="161.2" y1="412.8" x2="161.2" y2="490" stroke="#111" stroke-width="1"/>
<line x1="158.4" y1="489.5" x2="161.2" y2="489.5" stroke="#111" stroke-width="0.9"/>
<text x="157.6" y="491.3" font-size="5.2" text-anchor="end" fill="#444" stroke="#444" stroke-width="0.1">0</text>
<line x1="158.4" y1="470.43" x2="161.2" y2="470.43" stroke="#111" stroke-width="0.9"/>
<text x="157.6" y="472.23" font-size="5.2" text-anchor="end" fill="#444" stroke="#444" stroke-width="0.1">500</text>
<line x1="158.4" y1="451.35" x2="161.2" y2="451.35" stroke="#111" stroke-width="0.9"/>
<text x="157.6" y="453.15" font-size="5.2" text-anchor="end" fill="#444" stroke="#444" stroke-width="0.1">1000</text>
<line x1="158.4" y1="432.27" x2="161.2" y2="432.27" stroke="#111" stroke-width="0.9"/>
<text x="157.6" y="434.07" font-size="5.2" text-anchor="end" fill="#444" stroke="#444" stroke-width="0.1">1500</text>
<line x1="158.4" y1="413.2" x2="161.2" y2="413.2" stroke="#111" stroke-width="0.9"/>
<text x="157.6" y="415" font-size="5.2" text-anchor="end" fill="#444" stroke="#444" stroke-width="0.1">2000</text>
<rect x="165.3" y="471.57" width="7.8" height="17.93" fill="#fff" stroke="#000000" stroke-width="0.95"/>
<line x1="169.2" y1="469.34" x2="169.2" y2="473.8" stroke="#000000" stroke-width="0.9"/>
<line x1="167.2" y1="469.34" x2="171.2" y2="469.34" stroke="#000000" stroke-width="0.9"/>
<circle cx="169.2" cy="463.79" r="1.8" fill="#000000"/>
<circle cx="167.7" cy="466.42" r="1.8" fill="#000000"/>
<circle cx="166.2" cy="477.06" r="1.8" fill="#000000"/>
<circle cx="172.2" cy="477.06" r="1.8" fill="#000000"/>
<circle cx="169.2" cy="472.71" r="1.8" fill="#000000"/>
<circle cx="170.7" cy="472.33" r="1.8" fill="#000000"/>
<rect x="177.35" y="472.71" width="7.8" height="16.79" fill="#fff" stroke="#f4621f" stroke-width="0.95"/>
<line x1="181.25" y1="471.14" x2="181.25" y2="474.28" stroke="#f4621f" stroke-width="0.9"/>
<line x1="179.25" y1="471.14" x2="183.25" y2="471.14" stroke="#f4621f" stroke-width="0.9"/>
<circle cx="178.25" cy="467.37" r="1.8" fill="#f4621f"/>
<circle cx="184.25" cy="468.9" r="1.8" fill="#f4621f"/>
<circle cx="178.25" cy="473.1" r="1.8" fill="#f4621f"/>
<circle cx="184.25" cy="473.86" r="1.8" fill="#f4621f"/>
<circle cx="178.25" cy="476.15" r="1.8" fill="#f4621f"/>
<circle cx="184.25" cy="476.91" r="1.8" fill="#f4621f"/>
<rect x="189.4" y="472.33" width="7.8" height="17.17" fill="#fff" stroke="#a11a1a" stroke-width="0.95"/>
<line x1="193.3" y1="468.93" x2="193.3" y2="475.74" stroke="#a11a1a" stroke-width="0.9"/>
<line x1="191.3" y1="468.93" x2="195.3" y2="468.93" stroke="#a11a1a" stroke-width="0.9"/>
<circle cx="193.3" cy="457.57" r="1.8" fill="#a11a1a"/>
<circle cx="191.3" cy="469.97" r="1.8" fill="#a11a1a"/>
<circle cx="190.3" cy="472.64" r="1.8" fill="#a11a1a"/>
<circle cx="196.3" cy="473.52" r="1.8" fill="#a11a1a"/>
<circle cx="193.3" cy="479.73" r="1.8" fill="#a11a1a"/>
<circle cx="195.3" cy="480.57" r="1.8" fill="#a11a1a"/>
<rect x="201.45" y="475" width="7.8" height="14.5" fill="#fff" stroke="#1c1c96" stroke-width="0.95"/>
<line x1="205.35" y1="472.68" x2="205.35" y2="477.33" stroke="#1c1c96" stroke-width="0.9"/>
<line x1="203.35" y1="472.68" x2="207.35" y2="472.68" stroke="#1c1c96" stroke-width="0.9"/>
<circle cx="207.35" cy="466.42" r="1.8" fill="#1c1c96"/>
<circle cx="202.35" cy="471.76" r="1.8" fill="#1c1c96"/>
<circle cx="208.35" cy="473.52" r="1.8" fill="#1c1c96"/>
<circle cx="205.35" cy="476.19" r="1.8" fill="#1c1c96"/>
<circle cx="202.35" cy="480.61" r="1.8" fill="#1c1c96"/>
<circle cx="206.35" cy="481.53" r="1.8" fill="#1c1c96"/>
<rect x="213.5" y="475.5" width="7.8" height="14" fill="#fff" stroke="#1a1aff" stroke-width="0.95"/>
<line x1="217.4" y1="472.54" x2="217.4" y2="478.46" stroke="#1a1aff" stroke-width="0.9"/>
<line x1="215.4" y1="472.54" x2="219.4" y2="472.54" stroke="#1a1aff" stroke-width="0.9"/>
<circle cx="217.4" cy="463.94" r="1.8" fill="#1a1aff"/>
<circle cx="217.4" cy="471.19" r="1.8" fill="#1a1aff"/>
<circle cx="214.4" cy="475.38" r="1.8" fill="#1a1aff"/>
<circle cx="220.4" cy="476.91" r="1.8" fill="#1a1aff"/>
<circle cx="217.4" cy="482.25" r="1.8" fill="#1a1aff"/>
<circle cx="217.4" cy="483.4" r="1.8" fill="#1a1aff"/>
<rect x="225.55" y="459.63" width="7.8" height="29.87" fill="#fff" stroke="#6b6b6b" stroke-width="0.95"/>
<line x1="229.45" y1="454.48" x2="229.45" y2="464.78" stroke="#6b6b6b" stroke-width="0.9"/>
<line x1="227.45" y1="454.48" x2="231.45" y2="454.48" stroke="#6b6b6b" stroke-width="0.9"/>
<circle cx="229.45" cy="440.67" r="1.8" fill="#6b6b6b"/>
<circle cx="226.45" cy="454.9" r="1.8" fill="#6b6b6b"/>
<circle cx="232.45" cy="455.78" r="1.8" fill="#6b6b6b"/>
<circle cx="229.45" cy="461.12" r="1.8" fill="#6b6b6b"/>
<circle cx="232.45" cy="467.33" r="1.8" fill="#6b6b6b"/>
<circle cx="229.45" cy="477.98" r="1.8" fill="#6b6b6b"/>
<line x1="161.2" y1="489.5" x2="238" y2="489.5" stroke="#111" stroke-width="1"/>
<text x="313.1" y="397.6" font-size="7.7" text-anchor="middle" fill="#111" font-weight="bold">IL-5</text>
<text x="313.1" y="405.1" font-size="5.4" text-anchor="middle" fill="#111" font-weight="bold">Lung cells</text>
<text x="255.8" y="452" font-size="5.5" text-anchor="middle" fill="#555" stroke="#555" stroke-width="0.1" transform="rotate(-90 255.8 452)">IL-5 pg/ml</text>
<line x1="274.3" y1="413.5" x2="274.3" y2="490.4" stroke="#111" stroke-width="1"/>
<line x1="271.5" y1="489.9" x2="274.3" y2="489.9" stroke="#111" stroke-width="0.9"/>
<text x="270.7" y="491.7" font-size="5.2" text-anchor="end" fill="#444" stroke="#444" stroke-width="0.1">0</text>
<line x1="271.5" y1="470.9" x2="274.3" y2="470.9" stroke="#111" stroke-width="0.9"/>
<text x="270.7" y="472.7" font-size="5.2" text-anchor="end" fill="#444" stroke="#444" stroke-width="0.1">2000</text>
<line x1="271.5" y1="451.9" x2="274.3" y2="451.9" stroke="#111" stroke-width="0.9"/>
<text x="270.7" y="453.7" font-size="5.2" text-anchor="end" fill="#444" stroke="#444" stroke-width="0.1">4000</text>
<line x1="271.5" y1="432.9" x2="274.3" y2="432.9" stroke="#111" stroke-width="0.9"/>
<text x="270.7" y="434.7" font-size="5.2" text-anchor="end" fill="#444" stroke="#444" stroke-width="0.1">6000</text>
<line x1="271.5" y1="413.9" x2="274.3" y2="413.9" stroke="#111" stroke-width="0.9"/>
<text x="270.7" y="415.7" font-size="5.2" text-anchor="end" fill="#444" stroke="#444" stroke-width="0.1">8000</text>
<rect x="278.5" y="477.26" width="7.8" height="12.63" fill="#fff" stroke="#000000" stroke-width="0.95"/>
<line x1="282.4" y1="476.38" x2="282.4" y2="478.15" stroke="#000000" stroke-width="0.9"/>
<line x1="280.4" y1="476.38" x2="284.4" y2="476.38" stroke="#000000" stroke-width="0.9"/>
<circle cx="282.4" cy="475.75" r="1.8" fill="#000000"/>
<circle cx="279.4" cy="477.36" r="1.8" fill="#000000"/>
<circle cx="285.4" cy="476.6" r="1.8" fill="#000000"/>
<circle cx="280.4" cy="479.45" r="1.8" fill="#000000"/>
<circle cx="284.4" cy="481.73" r="1.8" fill="#000000"/>
<circle cx="282.4" cy="478.5" r="1.8" fill="#000000"/>
<rect x="290.6" y="453.32" width="7.8" height="36.57" fill="#fff" stroke="#f4621f" stroke-width="0.95"/>
<line x1="294.5" y1="446.03" x2="294.5" y2="460.62" stroke="#f4621f" stroke-width="0.9"/>
<line x1="292.5" y1="446.03" x2="296.5" y2="446.03" stroke="#f4621f" stroke-width="0.9"/>
<circle cx="294.5" cy="424.82" r="1.8" fill="#f4621f"/>
<circle cx="294.5" cy="443.54" r="1.8" fill="#f4621f"/>
<circle cx="291.5" cy="454.46" r="1.8" fill="#f4621f"/>
<circle cx="297.5" cy="455.7" r="1.8" fill="#f4621f"/>
<circle cx="291.5" cy="467.57" r="1.8" fill="#f4621f"/>
<circle cx="297.5" cy="475.17" r="1.8" fill="#f4621f"/>
<rect x="302.7" y="469.28" width="7.8" height="20.62" fill="#fff" stroke="#a11a1a" stroke-width="0.95"/>
<line x1="306.6" y1="466.37" x2="306.6" y2="472.2" stroke="#a11a1a" stroke-width="0.9"/>
<line x1="304.6" y1="466.37" x2="308.6" y2="466.37" stroke="#a11a1a" stroke-width="0.9"/>
<circle cx="306.6" cy="454.94" r="1.8" fill="#a11a1a"/>
<circle cx="306.6" cy="470.9" r="1.8" fill="#a11a1a"/>
<circle cx="303.6" cy="470.9" r="1.8" fill="#a11a1a"/>
<circle cx="309.6" cy="471.85" r="1.8" fill="#a11a1a"/>
<circle cx="303.6" cy="472.8" r="1.8" fill="#a11a1a"/>
<circle cx="309.6" cy="474.22" r="1.8" fill="#a11a1a"/>
<rect x="314.8" y="462.44" width="7.8" height="27.45" fill="#fff" stroke="#1c1c96" stroke-width="0.95"/>
<line x1="318.7" y1="454.36" x2="318.7" y2="470.53" stroke="#1c1c96" stroke-width="0.9"/>
<line x1="316.7" y1="454.36" x2="320.7" y2="454.36" stroke="#1c1c96" stroke-width="0.9"/>
<circle cx="318.7" cy="426.25" r="1.8" fill="#1c1c96"/>
<circle cx="318.7" cy="453.32" r="1.8" fill="#1c1c96"/>
<circle cx="315.7" cy="468.05" r="1.8" fill="#1c1c96"/>
<circle cx="321.7" cy="475.65" r="1.8" fill="#1c1c96"/>
<circle cx="315.7" cy="475.65" r="1.8" fill="#1c1c96"/>
<circle cx="321.7" cy="476.12" r="1.8" fill="#1c1c96"/>
<rect x="326.9" y="464.06" width="7.8" height="25.84" fill="#fff" stroke="#1a1aff" stroke-width="0.95"/>
<line x1="330.8" y1="458.85" x2="330.8" y2="469.27" stroke="#1a1aff" stroke-width="0.9"/>
<line x1="328.8" y1="458.85" x2="332.8" y2="458.85" stroke="#1a1aff" stroke-width="0.9"/>
<circle cx="330.8" cy="440.5" r="1.8" fill="#1a1aff"/>
<circle cx="330.8" cy="458.55" r="1.8" fill="#1a1aff"/>
<circle cx="327.8" cy="469" r="1.8" fill="#1a1aff"/>
<circle cx="333.8" cy="470.9" r="1.8" fill="#1a1aff"/>
<circle cx="327.8" cy="475.17" r="1.8" fill="#1a1aff"/>
<circle cx="333.8" cy="469.95" r="1.8" fill="#1a1aff"/>
<rect x="339" y="467.1" width="7.8" height="22.8" fill="#fff" stroke="#6b6b6b" stroke-width="0.95"/>
<line x1="342.9" y1="460.73" x2="342.9" y2="473.47" stroke="#6b6b6b" stroke-width="0.9"/>
<line x1="340.9" y1="460.73" x2="344.9" y2="460.73" stroke="#6b6b6b" stroke-width="0.9"/>
<circle cx="342.9" cy="439.55" r="1.8" fill="#6b6b6b"/>
<circle cx="342.9" cy="454.75" r="1.8" fill="#6b6b6b"/>
<circle cx="339.9" cy="470.9" r="1.8" fill="#6b6b6b"/>
<circle cx="345.9" cy="474.7" r="1.8" fill="#6b6b6b"/>
<circle cx="339.9" cy="478.5" r="1.8" fill="#6b6b6b"/>
<circle cx="345.9" cy="477.55" r="1.8" fill="#6b6b6b"/>
<line x1="274.3" y1="489.9" x2="350" y2="489.9" stroke="#111" stroke-width="1"/>
<line x1="283.5" y1="413.9" x2="295.6" y2="413.9" stroke="#1a1a1a" stroke-width="0.9"/>
<line x1="283.5" y1="413.9" x2="283.5" y2="422.4" stroke="#1a1a1a" stroke-width="0.9"/>
<line x1="295.6" y1="413.9" x2="295.6" y2="419.4" stroke="#1a1a1a" stroke-width="0.9"/>
<polygon points="286.5,409.1 287.06,410.44 288.5,410.55 287.4,411.49 287.73,412.9 286.5,412.14 285.27,412.9 285.6,411.49 284.5,410.55 285.94,410.44" fill="#111"/>
<polygon points="291.9,409.1 292.46,410.44 293.9,410.55 292.8,411.49 293.13,412.9 291.9,412.14 290.67,412.9 291,411.49 289.9,410.55 291.34,410.44" fill="#111"/>
<line x1="283.5" y1="422.4" x2="345.8" y2="422.4" stroke="#1a1a1a" stroke-width="0.9"/>
<line x1="283.5" y1="422.4" x2="283.5" y2="448.7" stroke="#1a1a1a" stroke-width="0.9"/>
<line x1="307.6" y1="422.4" x2="307.6" y2="429.2" stroke="#1a1a1a" stroke-width="0.9"/>
<line x1="319" y1="422.4" x2="319" y2="429.2" stroke="#1a1a1a" stroke-width="0.9"/>
<line x1="330.9" y1="422.4" x2="330.9" y2="429.2" stroke="#1a1a1a" stroke-width="0.9"/>
<line x1="345.8" y1="422.4" x2="345.8" y2="429.2" stroke="#1a1a1a" stroke-width="0.9"/>
<polygon points="319.7,416.2 320.26,417.54 321.7,417.65 320.6,418.59 320.93,420 319.7,419.25 318.47,420 318.8,418.59 317.7,417.65 319.14,417.54" fill="#111"/>
<circle cx="372.5" cy="418.7" r="1.9" fill="#000000"/>
<text x="381.2" y="420.7" font-size="5.8" text-anchor="start" fill="#333" stroke="#333" stroke-width="0.2">Placebo</text>
<circle cx="372.5" cy="428.32" r="1.9" fill="#f4621f"/>
<text x="381.2" y="430.32" font-size="5.8" text-anchor="start" fill="#333" stroke="#333" stroke-width="0.2">ARVAC JN.1</text>
<circle cx="372.5" cy="437.94" r="1.9" fill="#a11a1a"/>
<text x="381.2" y="439.94" font-size="5.8" text-anchor="start" fill="#333" stroke="#333" stroke-width="0.2">ARVAC XBB.1.5</text>
<circle cx="372.5" cy="447.56" r="1.9" fill="#1c1c96"/>
<text x="381.2" y="449.56" font-size="5.8" text-anchor="start" fill="#333" stroke="#333" stroke-width="0.2">ARVAC Gamma/Omicron BA.4/5</text>
<circle cx="372.5" cy="457.18" r="1.9" fill="#1a1aff"/>
<text x="381.2" y="459.18" font-size="5.8" text-anchor="start" fill="#333" stroke="#333" stroke-width="0.2">ARVAC Gamma/JN.1</text>
<circle cx="372.5" cy="466.8" r="1.9" fill="#6b6b6b"/>
<text x="381.2" y="468.8" font-size="5.8" text-anchor="start" fill="#333" stroke="#333" stroke-width="0.2">Spikevax XBB.1.5</text>
</svg></body></html>
